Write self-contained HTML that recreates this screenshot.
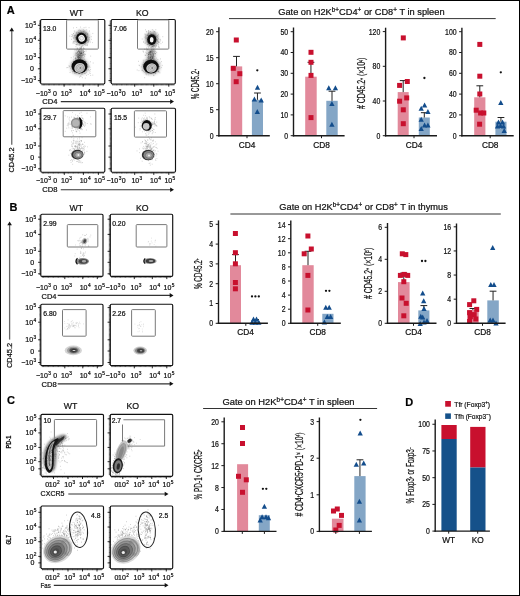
<!DOCTYPE html>
<html><head><meta charset="utf-8"><style>
html,body{margin:0;padding:0;background:#fff;}
svg{display:block;will-change:transform;}
text{font-family:"Liberation Sans",sans-serif;stroke:#111;stroke-width:0.22px;}
</style></head><body>
<svg width="520" height="596" viewBox="0 0 520 596" font-family="Liberation Sans, sans-serif">
<rect width="520" height="596" fill="#fff"/>
<rect x="0.50" y="0.50" width="519.00" height="595.00" fill="none" stroke="#000" stroke-width="1" />
<text x="6.70" y="13.90" font-size="11" text-anchor="start" font-weight="bold" fill="#000" >A</text>
<text x="9.60" y="211.00" font-size="11" text-anchor="start" font-weight="bold" fill="#000" >B</text>
<text x="6.90" y="404.30" font-size="11" text-anchor="start" font-weight="bold" fill="#000" >C</text>
<text x="405.20" y="406.40" font-size="11" text-anchor="start" font-weight="bold" fill="#000" >D</text>
<defs><filter id="bl" x="-20%" y="-20%" width="140%" height="140%"><feGaussianBlur stdDeviation="0.45"/></filter><filter id="bl2" x="-20%" y="-20%" width="140%" height="140%"><feGaussianBlur stdDeviation="0.8"/></filter><filter id="bl3" x="-50%" y="-50%" width="200%" height="200%"><feGaussianBlur stdDeviation="1.6"/></filter></defs>
<text x="76.55" y="16.40" font-size="9.7" text-anchor="middle" font-weight="normal" fill="#111" textLength="13.60" lengthAdjust="spacingAndGlyphs" >WT</text>
<text x="142.25" y="16.40" font-size="9.7" text-anchor="middle" font-weight="normal" fill="#111" textLength="12.60" lengthAdjust="spacingAndGlyphs" >KO</text>
<path d="M39.1 21.0h1.5M39.1 22.2h1.5M39.1 23.5h1.5M39.1 24.8h1.5M39.1 26.0h1.5M39.1 27.2h1.5M39.1 28.5h1.5M39.1 29.8h1.5M39.1 31.0h1.5M39.1 32.2h1.5M39.1 33.5h1.5M39.1 34.8h1.5M39.1 36.0h1.5M39.1 37.2h1.5M39.1 38.5h1.5M39.1 39.8h1.5M39.1 41.0h1.5M39.1 42.2h1.5M39.1 43.5h1.5M39.1 44.8h1.5M39.1 46.0h1.5M39.1 47.2h1.5M39.1 48.5h1.5M39.1 49.8h1.5M39.1 51.0h1.5M39.1 52.2h1.5M39.1 53.5h1.5M39.1 54.8h1.5M39.1 56.0h1.5M39.1 57.2h1.5M39.1 58.5h1.5M39.1 59.8h1.5M39.1 61.0h1.5M39.1 62.2h1.5M39.1 63.5h1.5M39.1 64.8h1.5M39.1 66.0h1.5M39.1 67.2h1.5M39.1 68.5h1.5M39.1 69.8h1.5M39.1 71.0h1.5M39.1 72.2h1.5M39.1 73.5h1.5M39.1 74.8h1.5M39.1 76.0h1.5M39.1 77.2h1.5M39.1 78.5h1.5M39.1 79.8h1.5M39.1 81.0h1.5M39.1 82.2h1.5M42.1 84.0v1.5M43.4 84.0v1.5M44.6 84.0v1.5M45.9 84.0v1.5M47.1 84.0v1.5M48.4 84.0v1.5M49.6 84.0v1.5M50.9 84.0v1.5M52.1 84.0v1.5M53.4 84.0v1.5M54.6 84.0v1.5M55.9 84.0v1.5M57.1 84.0v1.5M58.4 84.0v1.5M59.6 84.0v1.5M60.9 84.0v1.5M62.1 84.0v1.5M63.4 84.0v1.5M64.6 84.0v1.5M65.8 84.0v1.5M67.1 84.0v1.5M68.3 84.0v1.5M69.6 84.0v1.5M70.8 84.0v1.5M72.1 84.0v1.5M73.3 84.0v1.5M74.6 84.0v1.5M75.8 84.0v1.5M77.1 84.0v1.5M78.3 84.0v1.5M79.6 84.0v1.5M80.8 84.0v1.5M82.1 84.0v1.5M83.3 84.0v1.5M84.6 84.0v1.5M85.8 84.0v1.5M87.1 84.0v1.5M88.3 84.0v1.5M89.6 84.0v1.5M90.8 84.0v1.5M92.1 84.0v1.5M93.3 84.0v1.5M94.6 84.0v1.5M95.8 84.0v1.5M97.1 84.0v1.5M98.3 84.0v1.5M99.6 84.0v1.5M100.8 84.0v1.5M102.1 84.0v1.5M103.3 84.0v1.5" stroke="#222" stroke-width="0.65" fill="none"/>
<path d="M37.9 25.3h2.7M37.9 40.3h2.7M37.9 57.6h2.7M37.9 68.8h2.7M37.9 80.6h2.7M64.1 84.0v2.7M83.2 84.0v2.7M98.2 84.0v2.7" stroke="#111" stroke-width="0.9" fill="none"/>
<rect x="40.60" y="19.50" width="64.20" height="64.50" fill="none" stroke="#111" stroke-width="1.15" rx="1.2"/>
<text x="32.90" y="27.80" font-size="7.0" text-anchor="end" font-weight="normal" fill="#111" >10</text>
<text x="33.40" y="24.80" font-size="4.8" text-anchor="start" font-weight="normal" fill="#111" >5</text>
<text x="32.90" y="42.80" font-size="7.0" text-anchor="end" font-weight="normal" fill="#111" >10</text>
<text x="33.40" y="39.80" font-size="4.8" text-anchor="start" font-weight="normal" fill="#111" >4</text>
<text x="32.90" y="60.10" font-size="7.0" text-anchor="end" font-weight="normal" fill="#111" >10</text>
<text x="33.40" y="57.10" font-size="4.8" text-anchor="start" font-weight="normal" fill="#111" >3</text>
<text x="34.00" y="71.30" font-size="7.0" text-anchor="end" font-weight="normal" fill="#111" >0</text>
<text x="32.90" y="83.10" font-size="7.0" text-anchor="end" font-weight="normal" fill="#111" >−10</text>
<text x="33.40" y="80.10" font-size="4.8" text-anchor="start" font-weight="normal" fill="#111" >3</text>
<path d="M109.7 21.0h1.5M109.7 22.2h1.5M109.7 23.5h1.5M109.7 24.8h1.5M109.7 26.0h1.5M109.7 27.2h1.5M109.7 28.5h1.5M109.7 29.8h1.5M109.7 31.0h1.5M109.7 32.2h1.5M109.7 33.5h1.5M109.7 34.8h1.5M109.7 36.0h1.5M109.7 37.2h1.5M109.7 38.5h1.5M109.7 39.8h1.5M109.7 41.0h1.5M109.7 42.2h1.5M109.7 43.5h1.5M109.7 44.8h1.5M109.7 46.0h1.5M109.7 47.2h1.5M109.7 48.5h1.5M109.7 49.8h1.5M109.7 51.0h1.5M109.7 52.2h1.5M109.7 53.5h1.5M109.7 54.8h1.5M109.7 56.0h1.5M109.7 57.2h1.5M109.7 58.5h1.5M109.7 59.8h1.5M109.7 61.0h1.5M109.7 62.2h1.5M109.7 63.5h1.5M109.7 64.8h1.5M109.7 66.0h1.5M109.7 67.2h1.5M109.7 68.5h1.5M109.7 69.8h1.5M109.7 71.0h1.5M109.7 72.2h1.5M109.7 73.5h1.5M109.7 74.8h1.5M109.7 76.0h1.5M109.7 77.2h1.5M109.7 78.5h1.5M109.7 79.8h1.5M109.7 81.0h1.5M109.7 82.2h1.5M112.7 84.0v1.5M114.0 84.0v1.5M115.2 84.0v1.5M116.5 84.0v1.5M117.7 84.0v1.5M119.0 84.0v1.5M120.2 84.0v1.5M121.5 84.0v1.5M122.7 84.0v1.5M124.0 84.0v1.5M125.2 84.0v1.5M126.5 84.0v1.5M127.7 84.0v1.5M128.9 84.0v1.5M130.2 84.0v1.5M131.4 84.0v1.5M132.7 84.0v1.5M133.9 84.0v1.5M135.2 84.0v1.5M136.4 84.0v1.5M137.7 84.0v1.5M138.9 84.0v1.5M140.2 84.0v1.5M141.4 84.0v1.5M142.7 84.0v1.5M143.9 84.0v1.5M145.2 84.0v1.5M146.4 84.0v1.5M147.7 84.0v1.5M148.9 84.0v1.5M150.2 84.0v1.5M151.4 84.0v1.5M152.7 84.0v1.5M153.9 84.0v1.5M155.2 84.0v1.5M156.4 84.0v1.5M157.7 84.0v1.5M158.9 84.0v1.5M160.2 84.0v1.5M161.4 84.0v1.5M162.7 84.0v1.5M163.9 84.0v1.5M165.2 84.0v1.5M166.4 84.0v1.5M167.7 84.0v1.5M168.9 84.0v1.5M170.2 84.0v1.5M171.4 84.0v1.5M172.7 84.0v1.5M173.9 84.0v1.5" stroke="#222" stroke-width="0.65" fill="none"/>
<path d="M108.5 25.3h2.7M108.5 40.3h2.7M108.5 57.6h2.7M108.5 68.8h2.7M108.5 80.6h2.7M134.7 84.0v2.7M153.8 84.0v2.7M168.8 84.0v2.7" stroke="#111" stroke-width="0.9" fill="none"/>
<rect x="111.20" y="19.50" width="64.10" height="64.50" fill="none" stroke="#111" stroke-width="1.15" rx="1.2"/>
<rect x="66.60" y="19.90" width="31.70" height="29.20" fill="none" stroke="#7a7a7a" stroke-width="1" rx="0.8"/>
<rect x="137.50" y="19.90" width="31.30" height="29.20" fill="none" stroke="#7a7a7a" stroke-width="1" rx="0.8"/>
<text x="43.10" y="30.70" font-size="6.8" text-anchor="start" font-weight="normal" fill="#111" >13.0</text>
<text x="113.60" y="30.70" font-size="6.8" text-anchor="start" font-weight="normal" fill="#111" >7.06</text>
<g filter="url(#bl)">
<path d="M79.9 40.0h0.7M80.1 36.7h0.7M77.1 37.1h0.7M85.7 39.7h0.7M85.4 39.0h0.7M82.7 38.7h0.7M74.0 41.4h0.7M83.1 40.0h0.7M73.9 31.0h0.7M77.3 36.1h0.7M82.3 37.8h0.7M83.2 35.4h0.7M82.3 39.6h0.7M78.2 44.9h0.7M83.3 42.8h0.7M78.4 35.0h0.7M79.6 37.6h0.7M83.7 39.0h0.7M79.1 34.2h0.7M78.8 42.9h0.7M77.6 39.0h0.7M82.8 32.0h0.7M81.2 43.2h0.7M72.5 36.7h0.7M80.6 34.7h0.7M83.1 37.8h0.7M74.8 41.3h0.7M83.8 41.8h0.7M87.1 39.4h0.7M81.5 32.8h0.7M83.6 35.6h0.7M79.1 32.9h0.7M76.9 35.9h0.7M86.4 29.9h0.7M74.9 39.0h0.7M87.1 40.3h0.7M73.0 27.9h0.7M82.5 35.1h0.7M76.3 41.9h0.7M85.6 38.6h0.7M82.0 39.7h0.7M87.7 40.5h0.7M83.2 40.2h0.7M74.4 43.1h0.7M85.0 40.1h0.7M72.7 35.5h0.7M84.5 30.8h0.7M80.2 42.1h0.7M75.5 44.4h0.7M83.3 37.4h0.7M82.4 40.6h0.7M81.5 42.6h0.7M78.2 36.3h0.7M85.4 38.1h0.7M77.3 41.8h0.7M87.2 36.2h0.7M75.2 37.5h0.7M80.4 36.8h0.7M86.9 33.9h0.7M86.3 32.9h0.7M77.7 40.5h0.7M85.7 41.4h0.7M82.4 38.6h0.7M81.6 40.3h0.7M80.3 39.1h0.7M83.4 38.0h0.7M84.2 40.3h0.7M89.4 39.3h0.7M79.2 36.5h0.7M80.9 41.7h0.7M79.6 39.5h0.7M88.7 27.7h0.7M76.3 39.0h0.7M82.7 39.0h0.7M79.2 40.6h0.7M82.2 35.9h0.7M91.2 39.4h0.7M78.7 37.6h0.7M80.1 37.7h0.7M69.5 36.1h0.7M85.2 33.3h0.7M80.7 41.8h0.7M84.6 44.0h0.7M73.9 36.6h0.7M79.6 40.5h0.7M85.6 27.3h0.7M85.6 32.2h0.7M83.9 32.0h0.7M81.7 42.8h0.7M80.4 38.8h0.7M84.3 38.6h0.7M80.6 44.1h0.7M85.4 36.8h0.7M92.5 33.4h0.7M84.8 36.9h0.7M81.6 40.8h0.7M81.9 40.6h0.7M74.6 32.0h0.7M83.6 34.1h0.7M76.7 32.1h0.7M86.3 41.0h0.7M87.2 34.2h0.7M81.0 33.4h0.7M84.2 44.4h0.7M77.3 44.2h0.7M85.1 37.3h0.7M72.7 43.6h0.7M80.6 35.6h0.7M82.7 39.6h0.7M87.3 33.9h0.7M85.8 43.9h0.7M87.1 37.3h0.7M77.9 42.1h0.7M81.5 38.5h0.7M87.0 36.9h0.7M71.4 36.5h0.7M73.2 41.3h0.7M82.3 35.6h0.7M81.0 41.3h0.7M81.3 43.3h0.7M80.7 42.2h0.7M87.3 44.4h0.7M78.2 41.5h0.7M73.1 33.7h0.7M72.8 42.3h0.7M75.8 37.9h0.7M80.2 37.9h0.7M78.5 38.9h0.7M88.5 38.2h0.7M83.2 42.0h0.7M80.2 33.0h0.7M78.7 42.3h0.7M74.1 35.6h0.7M85.2 41.2h0.7M81.0 41.2h0.7M81.7 33.3h0.7M74.4 35.4h0.7M84.9 35.7h0.7M77.2 34.9h0.7M74.6 37.5h0.7M76.0 39.5h0.7M71.1 39.3h0.7M78.3 30.2h0.7M84.0 36.9h0.7M71.6 34.5h0.7M82.2 36.2h0.7M84.3 41.0h0.7M83.8 39.3h0.7M86.6 40.6h0.7M82.9 29.7h0.7M84.8 43.2h0.7M79.8 36.1h0.7M89.1 31.0h0.7M83.0 47.7h0.7M77.1 40.8h0.7M88.9 37.5h0.7M83.4 41.6h0.7M77.2 37.6h0.7M82.2 41.3h0.7M80.9 37.2h0.7M76.7 36.6h0.7M84.7 38.4h0.7M77.4 34.6h0.7M92.2 42.6h0.7M83.7 27.6h0.7M83.6 39.9h0.7M88.1 39.7h0.7M80.7 40.1h0.7M72.8 42.1h0.7M82.4 35.2h0.7M86.6 45.2h0.7M75.1 35.3h0.7M82.2 38.7h0.7M79.3 34.1h0.7M89.9 42.1h0.7M76.0 32.6h0.7M88.2 42.0h0.7M88.6 41.2h0.7M77.3 39.0h0.7M71.9 35.0h0.7M80.8 40.1h0.7M77.9 37.5h0.7M82.9 39.5h0.7M83.7 38.8h0.7M79.6 41.2h0.7M81.2 34.7h0.7M78.4 38.0h0.7M80.5 38.6h0.7M81.0 38.7h0.7M80.4 33.0h0.7M82.8 42.2h0.7M82.8 37.2h0.7M82.9 34.1h0.7M73.0 38.2h0.7M77.1 41.0h0.7M76.4 27.5h0.7M76.6 44.3h0.7M79.4 32.5h0.7M77.8 40.1h0.7M83.1 38.7h0.7M87.2 40.8h0.7M80.9 40.4h0.7M87.9 41.9h0.7M85.3 33.7h0.7M80.4 40.9h0.7M79.8 42.3h0.7M83.5 41.6h0.7M80.1 48.2h0.7M86.2 37.1h0.7M81.4 48.4h0.7M79.6 41.5h0.7M85.1 38.0h0.7M76.1 38.8h0.7M82.5 42.5h0.7M84.3 38.1h0.7M84.6 40.2h0.7M81.9 38.2h0.7M80.0 40.7h0.7M76.6 35.5h0.7M81.0 32.1h0.7M79.2 30.0h0.7M78.1 40.3h0.7M83.4 37.8h0.7M80.0 32.3h0.7M88.7 40.1h0.7M85.6 34.5h0.7M80.2 30.7h0.7M84.3 41.7h0.7M73.0 37.8h0.7M83.6 31.0h0.7M73.3 33.7h0.7M78.4 32.4h0.7M81.1 39.0h0.7M83.7 40.8h0.7M87.3 42.7h0.7M75.5 36.0h0.7M76.5 33.7h0.7M80.7 38.0h0.7M83.1 31.7h0.7M75.8 37.9h0.7M80.2 36.8h0.7M80.7 35.0h0.7M83.9 39.4h0.7M80.6 35.3h0.7M80.3 27.1h0.7M76.9 38.1h0.7M74.7 38.8h0.7M81.6 32.5h0.7M79.9 36.7h0.7M82.9 40.4h0.7M80.8 34.6h0.7M80.4 37.7h0.7M84.1 39.2h0.7M78.0 32.6h0.7M79.4 35.0h0.7M76.3 37.5h0.7M78.9 38.4h0.7M83.2 36.3h0.7M90.8 36.7h0.7M85.6 38.5h0.7" stroke="#222" stroke-opacity="0.35" stroke-width="0.7" fill="none"/>
<ellipse cx="81.80" cy="37.60" rx="7.20" ry="7.20" fill="#333" fill-opacity="0.6" filter="url(#bl3)" transform="rotate(0 81.80 37.60)"/>
<ellipse cx="81.60" cy="38.40" rx="5.30" ry="5.60" fill="#0a0a0a" stroke="none" stroke-width="1" transform="rotate(-30 81.60 38.40)" />
<ellipse cx="81.60" cy="38.30" rx="3.20" ry="3.40" fill="#f2f2f2" stroke="none" stroke-width="1" transform="rotate(-30 81.60 38.30)" />
<ellipse cx="81.60" cy="38.30" rx="1.80" ry="1.90" fill="none" stroke="#aaa" stroke-width="0.5" transform="rotate(-30 81.60 38.30)" />
<path d="M82.4 43.3h0.7M77.5 55.1h0.7M81.1 64.5h0.7M80.3 59.8h0.7M81.5 58.3h0.7M80.8 53.3h0.7M80.8 49.1h0.7M82.6 49.4h0.7M80.1 63.5h0.7M78.9 54.1h0.7M82.5 54.1h0.7M77.4 55.2h0.7M81.0 57.2h0.7M77.5 61.9h0.7M83.8 54.1h0.7M80.2 52.1h0.7M83.2 50.8h0.7M81.3 51.8h0.7M77.7 57.2h0.7M83.0 54.0h0.7M77.7 57.7h0.7M79.4 55.4h0.7M83.5 59.1h0.7M78.1 64.3h0.7M79.5 57.5h0.7M77.8 53.8h0.7M75.0 62.0h0.7M83.1 48.5h0.7M75.6 46.7h0.7M82.6 51.9h0.7M79.3 52.6h0.7M79.2 49.1h0.7M79.6 47.5h0.7M79.3 55.4h0.7M80.7 53.0h0.7M77.2 54.7h0.7M78.2 61.0h0.7M81.5 53.5h0.7M78.3 50.8h0.7M77.1 52.4h0.7M80.3 56.3h0.7M81.0 63.4h0.7M77.7 54.1h0.7M86.8 45.6h0.7M78.1 54.8h0.7M79.9 55.8h0.7M78.9 55.6h0.7M79.6 57.5h0.7M74.6 50.0h0.7M79.5 49.4h0.7M76.8 56.8h0.7M77.8 56.9h0.7M81.4 55.4h0.7M80.8 53.5h0.7M75.8 53.9h0.7M80.7 51.6h0.7M79.2 57.4h0.7M77.2 56.9h0.7M84.3 51.5h0.7M79.9 53.3h0.7M83.5 55.4h0.7M81.8 50.9h0.7M79.5 54.0h0.7M74.9 60.5h0.7M81.8 46.1h0.7M81.4 53.4h0.7M80.7 55.6h0.7M75.6 53.0h0.7M83.4 51.4h0.7M76.8 47.9h0.7M76.3 55.5h0.7M83.9 55.9h0.7M80.1 64.1h0.7M78.1 51.0h0.7M80.9 56.5h0.7M76.9 48.7h0.7M80.3 55.1h0.7M76.1 53.1h0.7M78.1 56.1h0.7M79.2 53.6h0.7M78.6 58.7h0.7M83.1 52.3h0.7M81.7 50.6h0.7M79.7 57.4h0.7M83.4 52.3h0.7M79.3 54.9h0.7M75.6 54.1h0.7M77.7 55.7h0.7M76.6 45.1h0.7M79.6 55.2h0.7M78.1 58.0h0.7M78.8 51.3h0.7M80.7 46.9h0.7M77.7 53.9h0.7M81.7 53.3h0.7M80.3 51.1h0.7M80.3 61.5h0.7M77.7 64.6h0.7M77.8 54.1h0.7M80.0 58.6h0.7M76.3 44.5h0.7M81.1 57.6h0.7M81.1 65.8h0.7M80.0 55.1h0.7M81.9 55.7h0.7M83.8 48.4h0.7M78.5 38.5h0.7M81.6 52.3h0.7M81.9 63.7h0.7M79.5 52.9h0.7M78.2 50.2h0.7M77.9 56.9h0.7M79.6 54.3h0.7M79.0 58.1h0.7M80.8 53.4h0.7M81.2 53.3h0.7M76.5 60.5h0.7M80.7 49.7h0.7M82.3 55.6h0.7M75.4 61.2h0.7M80.4 58.0h0.7M80.0 53.3h0.7M75.5 58.4h0.7M79.6 52.7h0.7M80.4 54.4h0.7M81.3 52.3h0.7M79.4 44.4h0.7M78.4 57.0h0.7M83.0 52.4h0.7M79.2 61.1h0.7M78.7 57.3h0.7M83.9 54.2h0.7M82.7 50.8h0.7M80.0 53.7h0.7M79.8 59.1h0.7M85.7 51.0h0.7M78.0 56.2h0.7M76.8 56.2h0.7M81.0 52.8h0.7M80.9 47.0h0.7M81.5 47.0h0.7M77.7 51.5h0.7M78.5 57.9h0.7M79.7 52.2h0.7M80.9 61.1h0.7M79.5 55.6h0.7M82.7 55.2h0.7M76.2 65.2h0.7M85.2 45.1h0.7M79.4 55.9h0.7M82.0 57.0h0.7M78.8 49.3h0.7M79.8 58.7h0.7M76.7 49.4h0.7M79.4 45.3h0.7M78.8 52.0h0.7M80.7 50.8h0.7M77.2 52.2h0.7M79.4 51.0h0.7M79.5 57.4h0.7M82.6 61.7h0.7M77.5 52.1h0.7M73.0 62.5h0.7M77.6 53.8h0.7M80.9 47.9h0.7M80.7 53.9h0.7M74.8 55.3h0.7M82.6 45.6h0.7M81.6 54.9h0.7M80.7 56.0h0.7M82.9 53.0h0.7M81.8 52.2h0.7M81.4 50.3h0.7M79.2 61.8h0.7M80.7 53.3h0.7M76.5 50.4h0.7M80.0 58.2h0.7M80.6 56.4h0.7M79.4 60.1h0.7M78.5 51.5h0.7M81.8 54.3h0.7M78.8 51.4h0.7M78.8 56.8h0.7M80.4 48.6h0.7M80.6 54.8h0.7M76.9 57.5h0.7M78.8 52.5h0.7M81.6 59.9h0.7M77.7 56.0h0.7M77.2 64.4h0.7M78.2 59.4h0.7M77.8 57.7h0.7M85.3 42.6h0.7M78.4 56.3h0.7M79.3 51.0h0.7M85.1 54.4h0.7M75.2 57.8h0.7M75.0 59.2h0.7M78.0 54.7h0.7M82.8 54.5h0.7" stroke="#222" stroke-opacity="0.4" stroke-width="0.7" fill="none"/>
<ellipse cx="79.50" cy="55.00" rx="4.50" ry="5.50" fill="#333" fill-opacity="0.35" filter="url(#bl3)" transform="rotate(0 79.50 55.00)"/>
<path d="M73.0 59.9h0.7M85.9 70.1h0.7M75.9 70.6h0.7M82.5 69.7h0.7M68.7 65.7h0.7M84.5 70.1h0.7M84.4 56.7h0.7M80.8 69.1h0.7M92.8 63.0h0.7M78.4 67.2h0.7M84.4 65.1h0.7M85.7 63.7h0.7M81.3 64.8h0.7M80.8 64.1h0.7M72.0 71.6h0.7M81.5 64.7h0.7M81.0 71.2h0.7M75.1 66.5h0.7M82.7 69.2h0.7M78.3 58.2h0.7M86.2 68.4h0.7M80.1 65.8h0.7M81.3 65.2h0.7M74.9 63.9h0.7M77.0 64.4h0.7M74.2 69.7h0.7M73.5 69.8h0.7M74.9 68.5h0.7M86.9 67.9h0.7M76.3 67.2h0.7M80.7 59.7h0.7M77.0 67.7h0.7M77.7 67.3h0.7M83.7 70.2h0.7M84.5 69.5h0.7M78.6 66.9h0.7M78.6 65.7h0.7M79.1 59.8h0.7M78.3 66.9h0.7M75.1 66.9h0.7M82.6 66.3h0.7M90.4 56.1h0.7M79.0 59.3h0.7M84.9 78.1h0.7M67.5 67.5h0.7M82.6 65.7h0.7M82.8 57.6h0.7M84.3 68.6h0.7M80.1 64.5h0.7M83.2 65.0h0.7M81.1 64.9h0.7M68.8 66.9h0.7M81.0 70.2h0.7M75.6 66.9h0.7M83.1 67.6h0.7M86.2 75.4h0.7M75.5 58.9h0.7M84.3 73.4h0.7M84.6 70.4h0.7M76.9 64.0h0.7M84.4 63.2h0.7M70.9 62.8h0.7M92.5 75.1h0.7M76.6 63.9h0.7M81.2 63.9h0.7M86.6 66.7h0.7M74.6 72.5h0.7M77.1 67.9h0.7M79.9 65.7h0.7M81.6 64.1h0.7M70.8 57.7h0.7M73.7 63.8h0.7M79.9 67.2h0.7M82.8 67.5h0.7M76.0 64.0h0.7M69.4 66.3h0.7M82.4 69.2h0.7M79.4 66.3h0.7M84.7 67.1h0.7M83.7 69.4h0.7M81.1 72.5h0.7M77.1 65.5h0.7M76.0 63.7h0.7M87.8 74.4h0.7M80.1 69.4h0.7M85.9 70.4h0.7M86.0 61.7h0.7M76.8 68.9h0.7M87.2 67.4h0.7M75.7 65.5h0.7M76.7 63.4h0.7M87.5 64.4h0.7M80.1 76.1h0.7M85.9 68.4h0.7M76.9 68.7h0.7M88.1 69.6h0.7M86.3 67.4h0.7M82.6 66.2h0.7M82.1 72.5h0.7M72.8 66.7h0.7M81.2 64.6h0.7M78.5 70.3h0.7M90.0 69.6h0.7M81.6 60.5h0.7M89.6 67.3h0.7M79.8 62.3h0.7M79.7 62.4h0.7M80.4 69.0h0.7M80.2 68.2h0.7M75.7 73.0h0.7M76.7 59.4h0.7M79.1 63.8h0.7M75.0 65.5h0.7M81.5 62.0h0.7M79.3 73.0h0.7M83.4 66.4h0.7M80.6 66.5h0.7M79.8 70.1h0.7M79.5 56.9h0.7M79.9 63.3h0.7M83.3 64.4h0.7M80.7 76.1h0.7M74.8 62.3h0.7M72.9 56.9h0.7M70.6 68.5h0.7M76.8 59.2h0.7M72.6 69.6h0.7M76.1 65.5h0.7M81.7 72.7h0.7M89.7 71.3h0.7M80.7 67.8h0.7M89.0 73.0h0.7M78.4 68.9h0.7M81.4 67.2h0.7M77.5 61.4h0.7M77.3 60.5h0.7M86.1 69.3h0.7M74.0 72.9h0.7M84.5 59.0h0.7M89.2 70.4h0.7M90.3 61.8h0.7M82.7 68.8h0.7M81.0 67.7h0.7M85.3 60.7h0.7M73.8 61.1h0.7M77.2 64.5h0.7M81.8 68.1h0.7M80.2 64.2h0.7M77.8 71.0h0.7M83.8 67.4h0.7M78.4 73.5h0.7M77.0 69.7h0.7M85.8 65.9h0.7M84.1 62.3h0.7M85.1 67.8h0.7M72.1 69.8h0.7M75.5 72.4h0.7M76.6 66.3h0.7M81.4 65.6h0.7M81.3 64.7h0.7M83.4 67.0h0.7M81.1 55.4h0.7M85.8 67.1h0.7M71.1 67.4h0.7M82.3 71.5h0.7M74.6 73.5h0.7M79.2 77.1h0.7M79.3 69.9h0.7M78.2 62.3h0.7M85.5 70.8h0.7M87.7 70.6h0.7M77.1 60.0h0.7M76.7 64.2h0.7M75.9 69.4h0.7M81.6 65.9h0.7M80.9 66.4h0.7M81.1 70.2h0.7M84.8 64.1h0.7M72.5 73.0h0.7M80.6 71.6h0.7M71.8 65.6h0.7M80.1 60.9h0.7M77.4 70.0h0.7M85.4 73.7h0.7M75.7 61.1h0.7M82.6 70.9h0.7M81.0 61.5h0.7M83.9 70.3h0.7M82.8 65.0h0.7M81.5 70.3h0.7M77.2 59.3h0.7M81.6 69.0h0.7M80.1 70.7h0.7M77.1 66.7h0.7M78.5 69.4h0.7M88.0 65.9h0.7M90.3 73.4h0.7M84.0 69.5h0.7M88.9 66.2h0.7M79.4 62.5h0.7M82.4 72.6h0.7M82.7 68.8h0.7M79.0 67.7h0.7M72.9 71.4h0.7M78.0 62.4h0.7M76.2 63.5h0.7M84.3 71.4h0.7M73.2 70.9h0.7M84.4 64.6h0.7M72.6 63.9h0.7M76.8 68.4h0.7M78.2 58.5h0.7M81.2 60.6h0.7M84.5 61.9h0.7M76.5 63.4h0.7M77.3 72.5h0.7M84.3 69.5h0.7M81.6 60.5h0.7M77.4 64.7h0.7M75.1 69.1h0.7M76.3 64.0h0.7M74.8 58.4h0.7M83.0 72.6h0.7M80.9 62.9h0.7M66.5 67.7h0.7M86.1 68.2h0.7M84.6 73.2h0.7M85.6 65.1h0.7M85.3 70.3h0.7M72.3 65.3h0.7M72.9 66.5h0.7M82.9 62.5h0.7M69.7 72.5h0.7M81.9 73.2h0.7M73.4 71.5h0.7M90.4 75.4h0.7M78.9 68.1h0.7M79.2 71.2h0.7M85.2 67.4h0.7M73.2 70.1h0.7M77.7 69.6h0.7M81.3 73.8h0.7M85.7 65.1h0.7M81.7 74.4h0.7M77.3 68.8h0.7M86.0 72.3h0.7M82.6 61.5h0.7M73.7 68.0h0.7M81.9 77.7h0.7M75.7 71.8h0.7M83.9 60.0h0.7M75.9 67.7h0.7M77.5 66.4h0.7M82.4 63.6h0.7M82.3 64.3h0.7M77.3 69.3h0.7M77.1 68.2h0.7M88.0 67.1h0.7M79.3 70.1h0.7M78.2 71.5h0.7" stroke="#222" stroke-opacity="0.35" stroke-width="0.7" fill="none"/>
<ellipse cx="79.60" cy="66.50" rx="9.00" ry="8.00" fill="#333" fill-opacity="0.45" filter="url(#bl3)" transform="rotate(0 79.60 66.50)"/>
<ellipse cx="79.50" cy="66.30" rx="7.90" ry="7.10" fill="#0a0a0a" stroke="none" stroke-width="1" transform="rotate(0 79.50 66.30)" />
<ellipse cx="79.60" cy="67.90" rx="5.40" ry="4.90" fill="#cfcfcf" stroke="none" stroke-width="1" transform="rotate(-20 79.60 67.90)" />
<ellipse cx="79.80" cy="68.00" rx="3.90" ry="3.50" fill="none" stroke="#888" stroke-width="0.5" transform="rotate(-20 79.80 68.00)" />
<ellipse cx="80.00" cy="68.00" rx="2.50" ry="2.20" fill="none" stroke="#999" stroke-width="0.5" transform="rotate(0 80.00 68.00)" />
<ellipse cx="80.40" cy="67.90" rx="0.90" ry="0.90" fill="#777" stroke="none" stroke-width="1" transform="rotate(0 80.40 67.90)" />
<path d="M147.0 42.1h0.7M149.8 36.1h0.7M158.0 35.9h0.7M157.9 42.3h0.7M156.8 35.4h0.7M155.9 45.6h0.7M151.2 39.0h0.7M160.4 40.2h0.7M150.1 36.9h0.7M153.2 40.9h0.7M152.2 46.7h0.7M150.4 41.5h0.7M156.9 35.3h0.7M155.3 47.2h0.7M146.7 34.9h0.7M147.9 31.7h0.7M153.2 31.7h0.7M153.4 45.6h0.7M145.8 38.2h0.7M144.7 42.8h0.7M148.9 38.4h0.7M151.8 41.8h0.7M150.4 39.6h0.7M149.6 40.0h0.7M147.4 39.8h0.7M144.6 37.4h0.7M158.5 39.8h0.7M147.1 40.6h0.7M148.1 32.6h0.7M148.9 42.6h0.7M153.0 39.1h0.7M148.3 35.0h0.7M156.5 40.5h0.7M148.2 30.6h0.7M146.7 49.9h0.7M147.5 39.2h0.7M152.4 38.8h0.7M150.6 33.7h0.7M147.8 46.6h0.7M148.9 43.1h0.7M145.5 38.3h0.7M152.5 43.9h0.7M147.6 42.0h0.7M153.0 36.4h0.7M153.3 35.7h0.7M148.7 39.4h0.7M141.8 39.0h0.7M148.0 33.4h0.7M150.1 42.7h0.7M150.1 44.8h0.7M147.4 34.0h0.7M157.2 41.2h0.7M155.0 36.0h0.7M154.5 40.6h0.7M153.9 39.6h0.7M155.9 36.8h0.7M148.1 33.3h0.7M155.8 36.4h0.7M147.8 35.6h0.7M150.0 34.2h0.7M150.6 36.9h0.7M149.6 35.5h0.7M151.7 37.6h0.7M152.0 40.5h0.7M152.8 30.3h0.7M149.7 36.2h0.7M154.4 32.9h0.7M149.0 38.3h0.7M150.4 43.7h0.7M150.0 43.6h0.7M146.3 31.9h0.7M156.0 41.3h0.7M153.4 40.0h0.7M153.3 34.4h0.7M155.0 37.3h0.7M155.1 39.9h0.7M144.5 34.1h0.7M155.7 38.9h0.7M150.2 40.5h0.7M150.1 37.2h0.7M152.0 40.1h0.7M157.1 39.7h0.7M158.4 47.1h0.7M157.8 44.0h0.7M152.1 40.1h0.7M151.1 36.4h0.7M151.4 36.8h0.7M157.5 41.7h0.7M150.0 31.5h0.7M151.4 37.8h0.7M147.7 34.7h0.7M143.5 41.9h0.7M151.4 50.3h0.7M151.5 38.9h0.7M156.8 40.1h0.7M152.2 37.9h0.7M149.4 45.8h0.7M155.2 46.7h0.7M150.3 39.6h0.7M148.4 43.6h0.7M146.6 41.9h0.7M155.5 45.4h0.7M148.2 44.1h0.7M149.0 36.3h0.7M146.8 44.4h0.7M157.5 37.0h0.7M148.9 38.1h0.7M160.6 43.7h0.7M149.6 32.0h0.7M149.2 44.5h0.7M158.3 38.4h0.7M149.1 37.4h0.7M144.8 43.3h0.7M147.7 44.0h0.7M145.5 34.2h0.7M152.6 36.3h0.7M154.4 39.5h0.7M147.4 42.1h0.7M154.6 31.5h0.7M158.2 41.6h0.7M154.3 31.7h0.7M149.0 38.0h0.7M155.5 33.4h0.7M148.4 31.0h0.7M150.7 41.0h0.7M145.5 37.0h0.7M153.4 46.2h0.7M154.0 38.2h0.7M147.4 35.6h0.7M149.2 40.1h0.7M151.4 46.5h0.7M152.6 35.0h0.7M157.2 43.5h0.7M152.0 36.5h0.7M144.9 35.2h0.7M154.9 36.1h0.7M146.8 40.3h0.7M152.5 42.0h0.7M154.0 45.4h0.7M148.6 43.6h0.7M148.0 42.4h0.7M152.2 40.5h0.7M155.1 39.4h0.7M155.6 43.2h0.7M152.1 37.1h0.7M148.9 37.3h0.7M150.9 39.4h0.7M162.3 42.2h0.7M154.4 35.9h0.7M149.0 38.2h0.7M152.3 35.1h0.7M157.4 37.1h0.7M155.5 29.7h0.7M151.6 40.7h0.7M152.3 42.0h0.7M152.6 40.2h0.7M144.8 36.5h0.7M143.2 42.1h0.7M152.7 38.7h0.7M148.6 37.1h0.7M158.2 46.8h0.7M151.4 44.9h0.7M145.9 31.4h0.7M149.9 35.8h0.7M149.6 40.3h0.7M162.5 36.7h0.7M151.8 40.7h0.7M151.5 43.4h0.7M158.0 34.3h0.7M152.2 38.4h0.7M152.9 33.1h0.7M145.3 29.8h0.7M153.5 40.3h0.7M151.9 29.6h0.7M150.3 36.3h0.7M146.5 35.7h0.7M154.1 41.8h0.7M151.5 41.7h0.7M149.4 39.8h0.7M151.7 41.8h0.7M151.3 38.9h0.7M151.1 36.8h0.7M159.6 41.7h0.7M153.1 49.1h0.7M156.7 33.0h0.7M154.1 43.0h0.7M158.4 45.0h0.7M154.4 34.6h0.7M148.5 40.6h0.7M153.4 35.2h0.7M150.2 37.8h0.7M151.8 40.9h0.7M150.6 34.3h0.7M156.1 46.2h0.7M151.2 43.8h0.7M153.2 42.3h0.7M153.3 36.3h0.7M153.7 43.7h0.7M148.4 47.8h0.7M159.1 47.2h0.7M158.8 42.6h0.7M150.4 37.0h0.7M148.7 40.0h0.7M151.5 42.3h0.7M144.3 49.2h0.7M159.8 39.4h0.7M154.0 41.5h0.7M152.6 38.6h0.7M151.2 36.0h0.7M152.2 39.4h0.7M152.8 35.9h0.7M151.7 39.7h0.7M153.8 35.0h0.7M153.1 43.6h0.7M153.7 38.0h0.7M149.8 38.5h0.7M154.2 46.0h0.7M151.0 36.8h0.7M153.0 40.4h0.7M148.3 36.4h0.7M151.2 42.3h0.7M147.3 35.2h0.7M153.4 34.4h0.7M152.0 41.0h0.7M151.2 35.2h0.7M151.4 38.1h0.7M152.8 36.0h0.7M155.5 32.5h0.7M151.0 39.5h0.7M155.1 36.9h0.7M153.6 37.1h0.7M154.3 46.8h0.7M150.2 41.4h0.7M148.3 43.6h0.7M156.0 39.6h0.7M147.5 41.2h0.7M155.7 44.1h0.7M154.5 31.8h0.7M149.2 45.5h0.7M147.2 44.3h0.7M158.4 42.7h0.7M155.6 38.1h0.7M147.2 39.1h0.7M150.9 39.3h0.7M154.1 38.9h0.7M152.3 41.3h0.7M151.6 47.2h0.7M153.2 39.9h0.7M150.9 36.9h0.7M156.4 40.1h0.7M147.7 37.1h0.7M151.1 37.6h0.7M155.5 34.6h0.7M153.4 40.1h0.7M147.4 39.7h0.7M151.3 41.6h0.7M150.0 40.8h0.7M145.6 34.9h0.7M154.4 43.9h0.7M151.6 37.0h0.7" stroke="#222" stroke-opacity="0.35" stroke-width="0.7" fill="none"/>
<ellipse cx="151.80" cy="39.30" rx="6.20" ry="7.20" fill="#333" fill-opacity="0.6" filter="url(#bl3)" transform="rotate(0 151.80 39.30)"/>
<ellipse cx="151.80" cy="39.60" rx="4.50" ry="5.30" fill="#0a0a0a" stroke="none" stroke-width="1" transform="rotate(0 151.80 39.60)" />
<ellipse cx="151.70" cy="39.80" rx="1.90" ry="2.70" fill="#f2f2f2" stroke="none" stroke-width="1" transform="rotate(0 151.70 39.80)" />
<path d="M153.6 45.6h0.7M149.1 58.0h0.7M152.6 50.4h0.7M146.5 61.5h0.7M151.4 51.0h0.7M151.1 59.1h0.7M144.8 60.0h0.7M152.8 45.6h0.7M152.9 47.0h0.7M153.7 56.8h0.7M156.4 52.3h0.7M151.0 59.7h0.7M149.5 51.8h0.7M150.1 54.7h0.7M148.4 57.2h0.7M152.3 55.3h0.7M155.1 53.5h0.7M154.1 52.5h0.7M152.8 46.3h0.7M151.5 54.2h0.7M149.8 52.3h0.7M150.2 51.8h0.7M145.7 52.3h0.7M149.7 52.6h0.7M148.5 54.4h0.7M152.9 53.9h0.7M149.8 61.1h0.7M153.3 59.1h0.7M153.8 53.5h0.7M150.7 60.0h0.7M149.7 54.5h0.7M151.9 56.7h0.7M150.3 59.4h0.7M150.6 58.3h0.7M153.6 58.0h0.7M152.8 49.8h0.7M147.9 52.2h0.7M152.1 61.8h0.7M148.1 56.4h0.7M149.0 51.7h0.7M150.3 58.1h0.7M151.5 60.3h0.7M148.6 59.0h0.7M153.2 55.3h0.7M152.1 52.5h0.7M148.4 53.2h0.7M149.5 68.0h0.7M149.8 62.4h0.7M151.5 56.4h0.7M152.8 51.5h0.7M153.2 56.7h0.7M147.4 57.7h0.7M152.3 57.0h0.7M154.8 53.1h0.7M152.2 58.4h0.7M148.8 60.4h0.7M147.5 49.1h0.7M152.3 50.1h0.7M150.7 47.6h0.7M151.2 49.9h0.7M151.8 48.1h0.7M152.1 53.8h0.7M151.2 54.7h0.7M151.3 49.1h0.7M144.8 55.2h0.7M148.8 53.0h0.7M152.0 46.1h0.7M149.2 52.3h0.7M148.5 56.5h0.7M150.7 51.3h0.7M148.6 58.6h0.7M149.4 57.6h0.7M152.1 46.5h0.7M148.4 55.0h0.7M151.8 58.5h0.7M152.9 59.7h0.7M150.1 54.1h0.7M152.9 53.1h0.7M153.5 47.8h0.7M152.6 54.2h0.7M146.3 59.4h0.7M151.7 55.1h0.7M148.4 52.9h0.7M154.6 51.3h0.7M142.7 51.1h0.7M148.1 54.4h0.7M150.1 50.9h0.7M149.0 59.7h0.7M147.5 63.8h0.7M149.7 50.1h0.7M152.9 57.5h0.7M148.5 58.4h0.7M146.6 50.8h0.7M153.7 53.8h0.7M147.9 57.3h0.7M153.2 54.9h0.7M146.7 53.4h0.7M152.0 58.5h0.7M155.4 53.9h0.7M149.8 54.8h0.7M153.9 50.8h0.7M154.1 42.6h0.7M152.9 52.0h0.7M152.1 58.1h0.7M148.2 54.6h0.7M151.6 57.6h0.7M148.8 50.5h0.7M146.4 66.4h0.7M150.5 54.0h0.7M147.4 59.2h0.7M149.7 61.5h0.7M153.0 55.1h0.7M152.7 50.0h0.7M150.2 52.4h0.7M148.0 55.1h0.7M150.7 61.5h0.7M143.0 52.0h0.7M148.8 52.9h0.7M152.0 56.8h0.7M151.1 52.9h0.7M152.2 56.6h0.7M146.6 53.8h0.7M147.7 49.7h0.7M151.4 55.3h0.7M151.3 51.1h0.7M150.5 50.9h0.7M151.9 58.1h0.7M155.2 60.7h0.7M149.1 52.9h0.7M148.7 56.4h0.7M155.8 58.2h0.7M145.7 49.3h0.7M147.9 57.3h0.7M151.0 56.3h0.7M155.3 51.3h0.7M149.0 63.8h0.7M151.8 51.5h0.7M146.1 48.1h0.7M145.1 55.3h0.7M151.1 59.5h0.7M150.7 51.9h0.7M149.2 63.6h0.7M146.8 55.8h0.7M151.1 57.8h0.7M150.0 57.2h0.7M153.0 54.3h0.7M149.9 54.2h0.7M148.7 54.1h0.7M150.3 55.9h0.7M154.2 60.9h0.7M149.9 57.7h0.7M151.7 58.4h0.7M151.1 56.2h0.7M149.9 51.5h0.7M153.1 60.8h0.7M152.6 57.0h0.7M151.6 53.0h0.7M146.7 58.0h0.7M151.5 52.5h0.7M148.7 60.8h0.7M146.7 62.9h0.7M152.5 65.7h0.7M149.3 54.9h0.7M149.8 55.7h0.7M150.5 51.6h0.7M153.6 51.5h0.7M149.8 57.5h0.7M149.7 53.0h0.7M151.9 53.3h0.7M148.0 54.5h0.7M150.5 62.7h0.7M148.4 59.4h0.7M149.1 53.4h0.7M150.2 56.2h0.7M153.1 62.9h0.7M149.5 61.0h0.7M153.4 58.7h0.7M149.2 59.1h0.7M150.7 56.6h0.7M150.4 58.0h0.7M153.7 60.1h0.7M150.5 59.5h0.7M154.5 50.8h0.7M154.5 49.0h0.7M152.3 57.7h0.7M154.6 56.3h0.7M149.8 51.4h0.7M148.0 58.4h0.7M150.4 51.8h0.7M152.3 51.6h0.7M150.0 52.9h0.7M155.0 61.6h0.7M150.6 47.9h0.7M151.7 55.3h0.7M151.8 57.5h0.7M150.2 59.2h0.7M153.0 55.9h0.7M150.0 52.8h0.7M152.7 50.1h0.7M150.6 51.6h0.7" stroke="#222" stroke-opacity="0.4" stroke-width="0.7" fill="none"/>
<ellipse cx="151.00" cy="55.00" rx="4.50" ry="5.50" fill="#333" fill-opacity="0.35" filter="url(#bl3)" transform="rotate(0 151.00 55.00)"/>
<path d="M144.0 69.4h0.7M150.9 67.1h0.7M155.4 61.0h0.7M150.7 68.2h0.7M155.2 62.7h0.7M154.6 67.9h0.7M157.8 71.6h0.7M153.7 75.6h0.7M151.0 65.3h0.7M149.3 63.2h0.7M150.9 59.5h0.7M150.6 68.7h0.7M156.0 65.6h0.7M157.9 64.4h0.7M150.3 59.5h0.7M147.2 63.8h0.7M158.3 69.1h0.7M145.6 69.1h0.7M153.4 66.1h0.7M151.1 65.8h0.7M148.4 60.1h0.7M150.6 72.0h0.7M158.0 65.9h0.7M147.4 66.2h0.7M155.4 68.4h0.7M148.2 68.4h0.7M150.0 69.0h0.7M149.0 61.3h0.7M151.3 70.0h0.7M145.6 66.6h0.7M155.3 65.5h0.7M147.8 74.9h0.7M155.0 71.0h0.7M146.4 73.4h0.7M142.9 65.0h0.7M154.6 72.2h0.7M146.5 64.4h0.7M152.0 59.5h0.7M154.1 69.2h0.7M148.8 69.1h0.7M154.8 68.2h0.7M153.5 72.9h0.7M148.7 67.6h0.7M148.5 71.0h0.7M149.0 68.8h0.7M151.7 67.3h0.7M159.3 66.7h0.7M157.9 70.2h0.7M157.4 66.4h0.7M155.5 69.9h0.7M148.0 68.0h0.7M150.4 66.9h0.7M157.3 64.2h0.7M142.9 60.3h0.7M148.8 64.5h0.7M151.1 69.2h0.7M159.5 68.2h0.7M153.2 64.2h0.7M153.8 72.2h0.7M157.5 59.5h0.7M155.3 73.1h0.7M155.0 61.2h0.7M149.5 69.3h0.7M153.0 63.9h0.7M146.7 70.7h0.7M144.6 72.5h0.7M151.1 68.2h0.7M144.6 64.7h0.7M154.3 61.3h0.7M161.0 61.6h0.7M145.1 67.2h0.7M153.3 69.8h0.7M149.2 66.2h0.7M149.9 64.8h0.7M138.6 70.7h0.7M152.2 67.6h0.7M148.0 68.0h0.7M150.9 66.7h0.7M156.3 60.4h0.7M152.2 62.9h0.7M149.5 72.8h0.7M145.8 66.6h0.7M148.2 70.6h0.7M146.3 60.5h0.7M153.5 65.6h0.7M149.5 71.2h0.7M146.7 65.6h0.7M151.7 68.6h0.7M148.5 71.0h0.7M161.8 65.4h0.7M160.0 58.9h0.7M157.8 65.7h0.7M151.7 65.7h0.7M147.9 62.1h0.7M149.1 72.0h0.7M156.5 65.7h0.7M148.5 64.3h0.7M145.2 73.9h0.7M154.2 67.5h0.7M148.6 63.1h0.7M157.3 70.0h0.7M146.4 70.8h0.7M145.7 69.5h0.7M146.4 65.4h0.7M153.4 68.7h0.7M155.9 63.8h0.7M158.6 72.2h0.7M151.0 68.8h0.7M147.3 66.4h0.7M144.7 67.3h0.7M152.0 72.2h0.7M155.5 70.1h0.7M149.3 66.1h0.7M149.4 67.9h0.7M141.7 70.0h0.7M143.5 65.0h0.7M151.1 65.0h0.7M159.0 66.6h0.7M158.5 71.5h0.7M148.6 68.5h0.7M157.2 65.7h0.7M151.4 64.9h0.7M151.3 65.6h0.7M151.4 70.8h0.7M157.7 67.5h0.7M152.0 70.3h0.7M149.6 62.9h0.7M156.3 63.4h0.7M155.5 63.3h0.7M159.8 63.0h0.7M155.1 72.8h0.7M146.4 72.7h0.7M147.0 60.2h0.7M154.5 69.7h0.7M150.0 57.3h0.7M150.7 65.8h0.7M149.2 65.9h0.7M142.4 64.8h0.7M159.6 72.9h0.7M149.3 64.3h0.7M152.9 71.1h0.7M154.5 62.5h0.7M151.8 67.5h0.7M157.9 71.6h0.7M153.5 71.7h0.7M149.1 72.9h0.7M149.0 68.5h0.7M155.4 63.5h0.7M147.6 60.2h0.7M151.8 66.8h0.7M149.4 68.9h0.7M140.8 66.9h0.7M151.4 66.0h0.7M154.8 73.7h0.7M148.9 63.4h0.7M148.1 67.4h0.7M153.8 63.7h0.7M155.8 63.1h0.7M155.0 68.6h0.7M153.2 75.3h0.7M149.7 66.4h0.7M153.3 70.3h0.7M144.6 68.1h0.7M147.4 69.4h0.7M157.6 67.2h0.7M150.5 67.7h0.7M136.8 70.0h0.7M153.7 67.6h0.7M149.1 64.2h0.7M150.1 71.7h0.7M150.5 72.2h0.7M138.7 65.2h0.7M152.3 66.9h0.7M143.0 64.4h0.7M157.0 62.0h0.7M146.2 62.8h0.7M148.4 69.5h0.7M153.9 59.2h0.7M158.0 64.7h0.7M148.2 73.4h0.7M150.6 62.2h0.7M147.9 64.2h0.7M146.2 65.7h0.7M155.2 68.3h0.7M144.4 77.7h0.7M146.2 67.4h0.7M151.2 69.9h0.7M149.4 68.8h0.7M161.1 67.4h0.7M145.8 68.3h0.7M147.1 65.6h0.7M151.9 68.3h0.7M149.6 70.3h0.7M150.1 62.0h0.7M155.2 65.6h0.7M156.8 64.5h0.7M153.7 68.2h0.7M138.1 61.3h0.7M145.6 72.4h0.7M141.9 70.5h0.7M156.2 68.9h0.7M154.2 65.1h0.7M150.9 67.9h0.7M153.0 69.7h0.7M150.0 64.3h0.7M148.3 68.6h0.7M143.0 62.2h0.7M149.0 64.9h0.7M149.7 56.8h0.7M149.4 66.0h0.7M154.7 59.4h0.7M149.5 68.8h0.7M153.3 71.6h0.7M156.1 63.0h0.7M154.1 65.7h0.7M147.1 72.9h0.7M148.0 63.7h0.7M149.0 63.7h0.7M155.8 68.5h0.7M157.7 68.6h0.7M148.0 71.0h0.7M147.9 65.2h0.7M150.2 67.2h0.7M156.7 64.7h0.7M152.7 66.9h0.7M144.9 62.8h0.7M149.9 68.6h0.7M152.5 68.8h0.7M151.2 65.3h0.7M153.1 63.1h0.7M144.5 65.7h0.7M144.1 65.0h0.7M147.4 64.9h0.7M150.8 63.9h0.7M149.0 60.4h0.7M151.7 63.6h0.7M152.9 56.1h0.7M147.1 67.9h0.7M139.2 65.6h0.7M151.5 67.4h0.7M143.8 67.9h0.7M151.7 63.2h0.7M154.6 66.8h0.7M151.1 65.3h0.7M153.6 67.4h0.7M156.5 68.7h0.7M148.0 66.1h0.7M155.4 65.6h0.7M152.8 69.0h0.7M150.1 58.0h0.7M151.6 67.8h0.7M151.7 64.1h0.7M156.8 66.5h0.7M148.0 64.2h0.7M152.7 62.8h0.7M146.2 74.7h0.7M157.3 71.1h0.7M157.6 69.3h0.7M142.9 71.6h0.7M157.0 68.9h0.7" stroke="#222" stroke-opacity="0.35" stroke-width="0.7" fill="none"/>
<ellipse cx="151.00" cy="66.50" rx="9.00" ry="8.00" fill="#333" fill-opacity="0.45" filter="url(#bl3)" transform="rotate(0 151.00 66.50)"/>
<ellipse cx="151.00" cy="66.60" rx="7.80" ry="6.80" fill="#0a0a0a" stroke="none" stroke-width="1" transform="rotate(0 151.00 66.60)" />
<ellipse cx="151.50" cy="68.00" rx="5.30" ry="4.60" fill="#cfcfcf" stroke="none" stroke-width="1" transform="rotate(-20 151.50 68.00)" />
<ellipse cx="151.70" cy="68.10" rx="3.80" ry="3.30" fill="none" stroke="#888" stroke-width="0.5" transform="rotate(-20 151.70 68.10)" />
<ellipse cx="151.90" cy="68.10" rx="2.40" ry="2.10" fill="none" stroke="#999" stroke-width="0.5" transform="rotate(0 151.90 68.10)" />
<ellipse cx="152.20" cy="68.00" rx="0.90" ry="0.90" fill="#777" stroke="none" stroke-width="1" transform="rotate(0 152.20 68.00)" />
</g>
<text x="35.80" y="95.60" font-size="7.0" text-anchor="start" font-weight="normal" fill="#111" >−10<tspan font-size="4.8" dy="-3.0" dx="0.4">3</tspan></text>
<text x="53.00" y="95.60" font-size="7.0" text-anchor="start" font-weight="normal" fill="#111" >0</text>
<text x="60.80" y="95.60" font-size="7.0" text-anchor="start" font-weight="normal" fill="#111" >10<tspan font-size="4.8" dy="-3.0" dx="0.4">3</tspan></text>
<text x="79.50" y="95.60" font-size="7.0" text-anchor="start" font-weight="normal" fill="#111" >10<tspan font-size="4.8" dy="-3.0" dx="0.4">4</tspan></text>
<text x="93.80" y="95.60" font-size="7.0" text-anchor="start" font-weight="normal" fill="#111" >10<tspan font-size="4.8" dy="-3.0" dx="0.4">5</tspan></text>
<text x="106.40" y="95.60" font-size="7.0" text-anchor="start" font-weight="normal" fill="#111" >−10<tspan font-size="4.8" dy="-3.0" dx="0.4">3</tspan></text>
<text x="121.80" y="95.60" font-size="7.0" text-anchor="start" font-weight="normal" fill="#111" >0</text>
<text x="131.40" y="95.60" font-size="7.0" text-anchor="start" font-weight="normal" fill="#111" >10<tspan font-size="4.8" dy="-3.0" dx="0.4">3</tspan></text>
<text x="150.10" y="95.60" font-size="7.0" text-anchor="start" font-weight="normal" fill="#111" >10<tspan font-size="4.8" dy="-3.0" dx="0.4">4</tspan></text>
<text x="164.40" y="95.60" font-size="7.0" text-anchor="start" font-weight="normal" fill="#111" >10<tspan font-size="4.8" dy="-3.0" dx="0.4">5</tspan></text>
<text x="42.20" y="104.20" font-size="7.6" text-anchor="start" font-weight="normal" fill="#111" textLength="15.20" lengthAdjust="spacingAndGlyphs" >CD4</text>
<line x1="60.80" y1="101.60" x2="171.00" y2="101.60" stroke="#333" stroke-width="1.15" />
<path d="M174.0 101.60 L170.2 99.30 L170.2 103.90Z" fill="#111"/>
<path d="M39.3 109.7h1.5M39.3 111.0h1.5M39.3 112.2h1.5M39.3 113.5h1.5M39.3 114.7h1.5M39.3 116.0h1.5M39.3 117.2h1.5M39.3 118.5h1.5M39.3 119.7h1.5M39.3 121.0h1.5M39.3 122.2h1.5M39.3 123.5h1.5M39.3 124.7h1.5M39.3 126.0h1.5M39.3 127.2h1.5M39.3 128.4h1.5M39.3 129.7h1.5M39.3 130.9h1.5M39.3 132.2h1.5M39.3 133.4h1.5M39.3 134.7h1.5M39.3 135.9h1.5M39.3 137.2h1.5M39.3 138.4h1.5M39.3 139.7h1.5M39.3 140.9h1.5M39.3 142.2h1.5M39.3 143.4h1.5M39.3 144.7h1.5M39.3 145.9h1.5M39.3 147.2h1.5M39.3 148.4h1.5M39.3 149.7h1.5M39.3 150.9h1.5M39.3 152.2h1.5M39.3 153.4h1.5M39.3 154.7h1.5M39.3 155.9h1.5M39.3 157.2h1.5M39.3 158.4h1.5M39.3 159.7h1.5M39.3 160.9h1.5M39.3 162.2h1.5M39.3 163.4h1.5M39.3 164.7h1.5M39.3 165.9h1.5M39.3 167.2h1.5M39.3 168.4h1.5M39.3 169.7h1.5M39.3 170.9h1.5M42.3 172.2v1.5M43.5 172.2v1.5M44.8 172.2v1.5M46.0 172.2v1.5M47.3 172.2v1.5M48.5 172.2v1.5M49.8 172.2v1.5M51.0 172.2v1.5M52.3 172.2v1.5M53.5 172.2v1.5M54.8 172.2v1.5M56.0 172.2v1.5M57.3 172.2v1.5M58.5 172.2v1.5M59.8 172.2v1.5M61.0 172.2v1.5M62.3 172.2v1.5M63.5 172.2v1.5M64.8 172.2v1.5M66.0 172.2v1.5M67.3 172.2v1.5M68.5 172.2v1.5M69.8 172.2v1.5M71.0 172.2v1.5M72.3 172.2v1.5M73.5 172.2v1.5M74.8 172.2v1.5M76.0 172.2v1.5M77.3 172.2v1.5M78.5 172.2v1.5M79.8 172.2v1.5M81.0 172.2v1.5M82.3 172.2v1.5M83.5 172.2v1.5M84.8 172.2v1.5M86.0 172.2v1.5M87.3 172.2v1.5M88.5 172.2v1.5M89.8 172.2v1.5M91.0 172.2v1.5M92.3 172.2v1.5M93.5 172.2v1.5M94.8 172.2v1.5M96.0 172.2v1.5M97.3 172.2v1.5M98.5 172.2v1.5M99.8 172.2v1.5M101.0 172.2v1.5M102.3 172.2v1.5M103.5 172.2v1.5" stroke="#222" stroke-width="0.65" fill="none"/>
<path d="M38.1 114.0h2.7M38.1 128.8h2.7M38.1 146.0h2.7M38.1 157.1h2.7M38.1 168.8h2.7M64.3 172.2v2.7M83.4 172.2v2.7M98.4 172.2v2.7" stroke="#111" stroke-width="0.9" fill="none"/>
<rect x="40.80" y="108.20" width="64.00" height="64.00" fill="none" stroke="#111" stroke-width="1.15" rx="1.2"/>
<text x="33.10" y="116.46" font-size="7.0" text-anchor="end" font-weight="normal" fill="#111" >10</text>
<text x="33.60" y="113.46" font-size="4.8" text-anchor="start" font-weight="normal" fill="#111" >5</text>
<text x="33.10" y="131.34" font-size="7.0" text-anchor="end" font-weight="normal" fill="#111" >10</text>
<text x="33.60" y="128.34" font-size="4.8" text-anchor="start" font-weight="normal" fill="#111" >4</text>
<text x="33.10" y="148.50" font-size="7.0" text-anchor="end" font-weight="normal" fill="#111" >10</text>
<text x="33.60" y="145.50" font-size="4.8" text-anchor="start" font-weight="normal" fill="#111" >3</text>
<text x="34.20" y="159.62" font-size="7.0" text-anchor="end" font-weight="normal" fill="#111" >0</text>
<text x="33.10" y="171.33" font-size="7.0" text-anchor="end" font-weight="normal" fill="#111" >−10</text>
<text x="33.60" y="168.33" font-size="4.8" text-anchor="start" font-weight="normal" fill="#111" >3</text>
<path d="M109.7 109.7h1.5M109.7 111.0h1.5M109.7 112.2h1.5M109.7 113.5h1.5M109.7 114.7h1.5M109.7 116.0h1.5M109.7 117.2h1.5M109.7 118.5h1.5M109.7 119.7h1.5M109.7 121.0h1.5M109.7 122.2h1.5M109.7 123.5h1.5M109.7 124.7h1.5M109.7 126.0h1.5M109.7 127.2h1.5M109.7 128.4h1.5M109.7 129.7h1.5M109.7 130.9h1.5M109.7 132.2h1.5M109.7 133.4h1.5M109.7 134.7h1.5M109.7 135.9h1.5M109.7 137.2h1.5M109.7 138.4h1.5M109.7 139.7h1.5M109.7 140.9h1.5M109.7 142.2h1.5M109.7 143.4h1.5M109.7 144.7h1.5M109.7 145.9h1.5M109.7 147.2h1.5M109.7 148.4h1.5M109.7 149.7h1.5M109.7 150.9h1.5M109.7 152.2h1.5M109.7 153.4h1.5M109.7 154.7h1.5M109.7 155.9h1.5M109.7 157.2h1.5M109.7 158.4h1.5M109.7 159.7h1.5M109.7 160.9h1.5M109.7 162.2h1.5M109.7 163.4h1.5M109.7 164.7h1.5M109.7 165.9h1.5M109.7 167.2h1.5M109.7 168.4h1.5M109.7 169.7h1.5M109.7 170.9h1.5M112.7 172.2v1.5M114.0 172.2v1.5M115.2 172.2v1.5M116.5 172.2v1.5M117.7 172.2v1.5M119.0 172.2v1.5M120.2 172.2v1.5M121.5 172.2v1.5M122.7 172.2v1.5M124.0 172.2v1.5M125.2 172.2v1.5M126.5 172.2v1.5M127.7 172.2v1.5M128.9 172.2v1.5M130.2 172.2v1.5M131.4 172.2v1.5M132.7 172.2v1.5M133.9 172.2v1.5M135.2 172.2v1.5M136.4 172.2v1.5M137.7 172.2v1.5M138.9 172.2v1.5M140.2 172.2v1.5M141.4 172.2v1.5M142.7 172.2v1.5M143.9 172.2v1.5M145.2 172.2v1.5M146.4 172.2v1.5M147.7 172.2v1.5M148.9 172.2v1.5M150.2 172.2v1.5M151.4 172.2v1.5M152.7 172.2v1.5M153.9 172.2v1.5M155.2 172.2v1.5M156.4 172.2v1.5M157.7 172.2v1.5M158.9 172.2v1.5M160.2 172.2v1.5M161.4 172.2v1.5M162.7 172.2v1.5M163.9 172.2v1.5M165.2 172.2v1.5M166.4 172.2v1.5M167.7 172.2v1.5M168.9 172.2v1.5M170.2 172.2v1.5M171.4 172.2v1.5M172.7 172.2v1.5M173.9 172.2v1.5" stroke="#222" stroke-width="0.65" fill="none"/>
<path d="M108.5 114.0h2.7M108.5 128.8h2.7M108.5 146.0h2.7M108.5 157.1h2.7M108.5 168.8h2.7M134.7 172.2v2.7M153.8 172.2v2.7M168.8 172.2v2.7" stroke="#111" stroke-width="0.9" fill="none"/>
<rect x="111.20" y="108.20" width="64.30" height="64.00" fill="none" stroke="#111" stroke-width="1.15" rx="1.2"/>
<rect x="63.20" y="110.60" width="32.60" height="26.20" fill="none" stroke="#7a7a7a" stroke-width="1" rx="0.8"/>
<rect x="134.40" y="110.80" width="32.10" height="26.30" fill="none" stroke="#7a7a7a" stroke-width="1" rx="0.8"/>
<text x="43.30" y="119.80" font-size="6.8" text-anchor="start" font-weight="normal" fill="#111" >29.7</text>
<text x="113.90" y="119.80" font-size="6.8" text-anchor="start" font-weight="normal" fill="#111" >15.5</text>
<g filter="url(#bl)">
<path d="M68.5 127.8h0.7M82.9 121.1h0.7M77.6 126.0h0.7M76.6 127.3h0.7M77.4 125.7h0.7M77.4 117.3h0.7M72.7 135.3h0.7M78.2 128.1h0.7M82.0 129.6h0.7M79.4 120.7h0.7M77.1 115.6h0.7M76.2 126.5h0.7M67.6 123.8h0.7M80.6 128.2h0.7M73.0 120.5h0.7M68.8 119.0h0.7M79.3 131.0h0.7M72.0 128.4h0.7M78.9 121.1h0.7M86.6 113.2h0.7M76.7 123.9h0.7M86.3 130.0h0.7M86.9 123.5h0.7M81.3 128.3h0.7M79.2 124.4h0.7M76.2 121.4h0.7M71.6 130.6h0.7M75.0 114.9h0.7M78.2 122.9h0.7M77.8 130.1h0.7M76.5 122.0h0.7M73.7 122.9h0.7M75.1 123.8h0.7M90.7 124.5h0.7M73.3 130.5h0.7M80.8 126.2h0.7M80.1 126.2h0.7M80.0 128.5h0.7M81.4 128.2h0.7M74.8 123.0h0.7M73.8 126.7h0.7M80.6 121.2h0.7M79.6 133.2h0.7M82.4 118.7h0.7M76.6 125.5h0.7M76.8 124.5h0.7M82.2 124.3h0.7M72.2 125.8h0.7M76.6 123.4h0.7M74.5 117.6h0.7M71.5 121.6h0.7M72.3 112.4h0.7M82.0 118.5h0.7M73.8 125.1h0.7M66.4 128.2h0.7M73.6 125.6h0.7M74.9 124.2h0.7M77.5 123.0h0.7M69.0 117.3h0.7M76.8 128.5h0.7M74.6 125.1h0.7M77.7 124.9h0.7M81.3 117.2h0.7M78.2 122.3h0.7M75.6 119.7h0.7M73.6 119.0h0.7M72.2 132.8h0.7M84.5 123.0h0.7M80.3 119.2h0.7M64.8 115.9h0.7M77.6 128.6h0.7M76.8 119.1h0.7M75.9 119.1h0.7M70.9 122.1h0.7M75.2 119.8h0.7M73.1 119.4h0.7M78.0 128.4h0.7M76.1 131.7h0.7M69.9 124.1h0.7M71.9 122.4h0.7M77.4 125.2h0.7M82.0 120.8h0.7M71.6 122.3h0.7M78.3 120.3h0.7M80.9 129.6h0.7M70.8 124.4h0.7M81.5 115.5h0.7M77.9 122.1h0.7M70.8 128.1h0.7M78.0 121.1h0.7M78.9 125.5h0.7M80.4 125.3h0.7M78.8 118.4h0.7M75.2 123.5h0.7M64.9 131.3h0.7M75.3 118.9h0.7M69.0 124.0h0.7M77.1 120.7h0.7M75.2 119.5h0.7M73.7 122.6h0.7M74.2 125.6h0.7M76.4 123.5h0.7M78.8 128.0h0.7M79.6 123.9h0.7M76.3 119.9h0.7M75.5 125.7h0.7M78.0 121.5h0.7M71.2 117.0h0.7M78.4 127.0h0.7M78.6 117.6h0.7M76.1 123.9h0.7M73.0 124.4h0.7M76.1 119.7h0.7M71.6 126.2h0.7M78.6 119.5h0.7M72.6 126.5h0.7M79.6 121.8h0.7M84.0 121.9h0.7M72.4 127.3h0.7M76.2 124.3h0.7M77.2 119.1h0.7M71.8 122.2h0.7M83.2 119.1h0.7M83.0 123.9h0.7M72.1 124.0h0.7M79.5 119.5h0.7M67.7 124.4h0.7M72.1 124.7h0.7M68.6 122.4h0.7M73.5 117.2h0.7M75.9 123.7h0.7M74.6 118.4h0.7M77.9 116.2h0.7M79.3 124.9h0.7M84.3 126.4h0.7M78.6 124.0h0.7M77.1 117.8h0.7M83.4 125.0h0.7M75.7 118.5h0.7M83.5 125.1h0.7M71.8 125.6h0.7M85.3 122.9h0.7M78.7 121.4h0.7M74.3 127.2h0.7M90.5 123.5h0.7M76.5 126.1h0.7M75.7 125.8h0.7M80.6 119.1h0.7M72.3 122.7h0.7M80.6 124.1h0.7M82.4 117.7h0.7M79.2 120.6h0.7M77.4 124.2h0.7M72.8 122.1h0.7M71.9 124.0h0.7M73.3 121.1h0.7M78.0 120.5h0.7M82.0 120.5h0.7M80.7 124.1h0.7M72.5 122.2h0.7M73.3 121.6h0.7M75.8 130.1h0.7M75.2 129.1h0.7M79.0 117.9h0.7M66.9 125.6h0.7M68.3 125.8h0.7M81.5 124.5h0.7M76.1 122.0h0.7M78.1 121.8h0.7M74.7 121.6h0.7M82.1 120.6h0.7M78.7 118.5h0.7M73.9 117.7h0.7M76.1 125.6h0.7M78.3 121.1h0.7M79.7 121.7h0.7M78.6 124.1h0.7M79.4 113.4h0.7M71.3 126.0h0.7M76.5 131.7h0.7M76.0 120.9h0.7M83.5 125.2h0.7M85.3 125.0h0.7M76.1 125.8h0.7M73.6 121.3h0.7M74.6 122.1h0.7M80.4 121.1h0.7M78.4 121.1h0.7M80.8 112.3h0.7M76.1 123.7h0.7M72.3 126.9h0.7M77.9 128.0h0.7M81.2 125.5h0.7M76.3 118.8h0.7M76.0 121.2h0.7M78.1 121.2h0.7M90.3 116.8h0.7M82.1 121.2h0.7M75.9 126.6h0.7M77.0 118.3h0.7M78.8 122.2h0.7M68.1 123.8h0.7M72.4 120.1h0.7M79.1 124.2h0.7M75.7 131.4h0.7M78.8 120.6h0.7M78.0 122.5h0.7M67.4 116.9h0.7M71.0 131.0h0.7M76.2 121.9h0.7M74.5 126.8h0.7M77.1 129.6h0.7M80.4 129.4h0.7M76.5 124.4h0.7M75.1 122.3h0.7M69.5 120.8h0.7M72.9 120.5h0.7M82.3 124.0h0.7M82.3 126.3h0.7M81.0 126.9h0.7" stroke="#555" stroke-opacity="0.45" stroke-width="0.7" fill="none"/>
<ellipse cx="76.50" cy="123.00" rx="5.60" ry="5.30" fill="#8d8d8d" stroke="none" stroke-width="1" transform="rotate(0 76.50 123.00)" />
<ellipse cx="75.80" cy="123.00" rx="3.60" ry="3.50" fill="#b5b5b5" stroke="none" stroke-width="1" transform="rotate(0 75.80 123.00)" />
<path d="M79.5 117.6 Q84.5 123 79.5 128.6 Q82 123 79.5 117.6Z" fill="#0a0a0a" stroke="#0a0a0a" stroke-width="1.2"/>
<path d="M75.3 154.6h0.7M76.3 146.9h0.7M81.9 162.5h0.7M73.9 160.0h0.7M80.5 145.1h0.7M78.5 152.1h0.7M78.9 147.9h0.7M72.8 150.2h0.7M80.7 154.5h0.7M79.9 156.4h0.7M73.9 149.8h0.7M78.7 155.8h0.7M78.1 153.0h0.7M78.0 162.1h0.7M69.5 149.9h0.7M86.6 151.4h0.7M70.8 150.8h0.7M72.3 146.1h0.7M78.3 159.9h0.7M79.2 153.9h0.7M81.2 151.2h0.7M74.4 149.4h0.7M78.7 148.4h0.7M75.1 147.9h0.7M72.0 144.1h0.7M77.2 147.9h0.7M77.6 158.1h0.7M78.6 149.8h0.7M73.2 143.8h0.7M78.9 145.0h0.7M79.1 143.8h0.7M78.0 149.6h0.7M81.1 147.7h0.7M76.1 151.4h0.7M77.7 159.8h0.7M76.6 146.9h0.7M76.3 152.7h0.7M78.4 154.0h0.7M72.4 164.3h0.7M84.2 149.8h0.7M73.1 150.9h0.7M79.0 137.1h0.7M77.5 141.5h0.7M79.2 158.0h0.7M81.3 141.3h0.7M82.6 155.2h0.7M76.2 152.9h0.7M83.0 148.1h0.7M77.4 146.8h0.7M81.7 137.6h0.7M82.7 144.4h0.7M80.9 140.6h0.7M74.1 146.5h0.7M80.5 140.6h0.7M79.7 146.3h0.7M82.0 148.2h0.7M79.3 149.0h0.7M84.1 147.9h0.7M77.4 161.5h0.7M77.8 154.0h0.7M74.8 151.2h0.7M69.2 150.6h0.7M75.1 141.3h0.7M72.3 156.6h0.7M79.1 141.2h0.7M84.1 146.0h0.7M76.2 151.4h0.7M73.3 140.7h0.7M74.8 156.8h0.7M81.0 140.9h0.7M81.9 150.2h0.7M79.3 150.3h0.7M79.0 144.2h0.7M74.2 145.9h0.7M76.2 153.6h0.7M73.1 159.2h0.7M75.2 146.6h0.7M80.1 152.5h0.7M76.3 143.8h0.7M73.8 140.8h0.7M81.7 156.3h0.7M84.3 152.9h0.7M78.7 154.4h0.7M81.0 148.5h0.7M78.8 162.4h0.7M71.3 141.9h0.7M74.0 154.4h0.7M81.8 148.0h0.7M80.0 149.7h0.7M78.6 146.9h0.7M77.4 150.0h0.7M81.6 162.9h0.7M70.9 153.1h0.7M77.5 155.6h0.7M81.4 154.5h0.7M80.5 144.5h0.7M71.3 159.6h0.7M81.9 144.5h0.7M82.2 153.9h0.7M68.5 155.2h0.7M73.9 156.7h0.7M75.0 145.7h0.7M71.8 148.7h0.7M81.2 146.1h0.7M70.7 162.4h0.7M84.3 154.0h0.7M75.5 143.0h0.7M71.5 153.2h0.7M82.3 143.9h0.7M77.5 148.4h0.7M76.6 152.9h0.7M85.2 146.3h0.7M80.6 156.3h0.7M76.5 149.1h0.7M72.6 156.2h0.7M75.6 146.2h0.7M77.7 145.0h0.7M73.7 148.3h0.7M82.9 148.8h0.7M79.4 141.5h0.7M70.4 160.5h0.7M76.0 141.1h0.7M77.1 153.5h0.7M71.2 144.9h0.7M78.5 144.7h0.7M80.4 155.6h0.7M79.1 147.5h0.7M77.3 146.3h0.7M77.0 151.8h0.7M76.4 155.6h0.7M87.0 146.8h0.7M78.8 154.8h0.7M79.9 148.6h0.7M75.7 155.8h0.7M79.8 152.9h0.7M74.6 153.7h0.7M80.4 148.9h0.7M79.9 162.6h0.7M70.6 153.5h0.7M73.2 142.1h0.7M76.6 153.2h0.7M77.7 143.2h0.7M72.2 146.8h0.7M77.6 145.2h0.7M72.0 160.2h0.7M74.4 149.1h0.7M75.5 146.6h0.7M77.6 148.3h0.7M79.8 143.1h0.7M72.0 161.3h0.7M77.2 154.5h0.7M81.8 153.2h0.7M77.6 141.0h0.7M71.6 155.7h0.7M80.0 153.3h0.7M71.4 137.6h0.7M73.6 143.1h0.7M78.1 144.1h0.7M83.3 146.4h0.7M75.4 155.0h0.7M78.7 144.8h0.7M80.5 161.2h0.7M73.0 148.6h0.7M73.5 138.7h0.7M79.8 154.1h0.7M81.1 152.5h0.7M70.1 149.8h0.7M75.0 143.1h0.7M73.4 154.5h0.7M76.4 161.5h0.7M79.2 138.9h0.7M80.8 157.3h0.7M77.6 142.9h0.7M84.0 142.3h0.7M77.2 138.9h0.7M72.9 140.1h0.7M81.5 156.9h0.7M76.0 142.1h0.7M77.3 152.2h0.7M71.9 143.2h0.7M77.1 154.1h0.7M77.8 152.6h0.7M72.9 135.4h0.7M78.7 144.6h0.7M77.0 147.8h0.7M79.3 145.5h0.7M82.9 150.2h0.7M79.5 153.7h0.7M81.3 152.4h0.7M71.0 146.3h0.7M84.4 152.8h0.7M79.6 152.7h0.7M75.1 146.0h0.7M75.1 156.8h0.7M78.9 160.4h0.7M79.4 161.1h0.7M79.2 143.1h0.7M84.0 152.0h0.7M81.9 151.3h0.7M76.3 151.0h0.7" stroke="#555" stroke-opacity="0.45" stroke-width="0.7" fill="none"/>
<ellipse cx="77.40" cy="154.60" rx="6.10" ry="4.90" fill="#333" stroke="none" stroke-width="1" transform="rotate(0 77.40 154.60)" />
<ellipse cx="78.00" cy="154.80" rx="4.90" ry="3.90" fill="#888" stroke="none" stroke-width="1" transform="rotate(0 78.00 154.80)" />
<ellipse cx="78.20" cy="155.00" rx="3.40" ry="2.70" fill="#aaa" stroke="#555" stroke-width="0.5" transform="rotate(0 78.20 155.00)" />
<ellipse cx="78.40" cy="155.00" rx="1.00" ry="1.00" fill="#eee" stroke="none" stroke-width="1" transform="rotate(0 78.40 155.00)" />
<path d="M142.9 120.3h0.7M143.8 122.9h0.7M141.9 124.6h0.7M148.8 133.0h0.7M155.1 124.8h0.7M151.1 124.1h0.7M149.1 124.9h0.7M145.3 125.3h0.7M141.4 126.7h0.7M146.3 120.7h0.7M146.0 127.2h0.7M144.7 126.9h0.7M149.9 131.1h0.7M143.0 124.6h0.7M149.6 130.9h0.7M148.6 128.0h0.7M141.4 122.7h0.7M154.4 123.9h0.7M156.4 122.1h0.7M146.3 118.7h0.7M150.1 126.0h0.7M155.9 125.7h0.7M146.5 119.4h0.7M147.2 128.7h0.7M150.6 129.8h0.7M151.1 124.8h0.7M150.0 125.7h0.7M142.0 131.8h0.7M149.1 120.8h0.7M149.1 126.1h0.7M151.6 130.7h0.7M134.9 127.2h0.7M153.9 121.3h0.7M139.8 126.1h0.7M148.9 126.4h0.7M142.9 123.2h0.7M148.3 127.9h0.7M156.6 126.2h0.7M145.0 115.7h0.7M152.0 124.5h0.7M147.0 121.1h0.7M150.6 117.9h0.7M148.0 125.5h0.7M148.7 130.2h0.7M147.1 125.4h0.7M151.1 118.9h0.7M146.3 125.3h0.7M151.5 121.8h0.7M150.8 126.5h0.7M141.3 119.1h0.7M141.5 125.6h0.7M148.4 127.9h0.7M150.9 122.8h0.7M152.0 128.3h0.7M149.5 126.9h0.7M142.1 126.4h0.7M143.2 120.3h0.7M146.0 125.6h0.7M147.3 123.7h0.7M143.3 125.7h0.7M144.4 119.4h0.7M147.9 130.8h0.7M145.8 120.8h0.7M153.3 131.8h0.7M146.3 124.2h0.7M148.4 136.7h0.7M148.1 129.0h0.7M149.4 117.8h0.7M142.9 120.1h0.7M149.3 125.4h0.7M155.0 123.9h0.7M148.8 125.3h0.7M148.1 134.2h0.7M148.7 130.9h0.7M152.9 122.6h0.7M150.4 123.5h0.7M148.0 125.6h0.7M147.6 123.1h0.7M154.0 123.9h0.7M150.4 131.7h0.7M150.1 129.1h0.7M153.3 129.3h0.7M154.7 119.3h0.7M155.7 125.1h0.7M140.2 122.4h0.7M141.7 124.9h0.7M141.3 121.0h0.7M148.7 125.6h0.7M144.2 124.1h0.7M147.1 125.3h0.7M147.5 124.1h0.7M151.2 118.6h0.7M145.4 125.5h0.7M145.8 122.8h0.7M145.7 125.8h0.7M152.7 124.3h0.7M146.4 126.4h0.7M146.5 117.3h0.7M148.6 123.5h0.7M145.1 127.5h0.7M147.7 122.7h0.7M138.4 118.1h0.7M147.6 124.5h0.7M149.3 125.9h0.7M145.5 119.9h0.7M142.9 124.4h0.7M142.7 128.0h0.7M141.9 117.8h0.7M146.7 117.9h0.7M154.3 121.0h0.7M147.3 124.0h0.7M144.1 117.9h0.7M139.7 128.5h0.7M151.8 133.7h0.7M141.4 127.2h0.7M147.4 128.4h0.7M145.3 127.9h0.7M151.3 127.4h0.7M153.6 124.3h0.7M154.0 122.2h0.7M154.5 114.0h0.7M147.6 121.8h0.7M147.5 129.1h0.7M150.5 125.4h0.7M154.6 119.1h0.7M144.1 131.0h0.7M148.9 116.7h0.7M148.9 120.3h0.7M153.7 129.6h0.7M145.2 130.2h0.7M144.0 128.7h0.7M149.9 124.5h0.7M141.5 123.9h0.7M137.9 122.7h0.7M139.7 129.9h0.7M143.4 115.3h0.7M150.0 126.5h0.7M145.4 133.5h0.7M150.7 125.3h0.7M144.8 113.2h0.7M149.5 128.8h0.7M145.0 119.3h0.7M147.3 118.3h0.7M147.5 128.1h0.7M153.8 126.1h0.7M148.3 128.0h0.7M153.4 123.7h0.7M142.3 121.8h0.7M142.2 121.4h0.7M147.0 126.4h0.7M148.2 125.3h0.7M146.0 126.7h0.7M151.2 128.0h0.7M153.8 123.8h0.7M146.4 131.8h0.7M148.3 126.7h0.7M146.1 128.9h0.7M145.8 121.0h0.7M147.2 123.2h0.7M151.0 123.5h0.7M148.0 124.1h0.7M148.9 122.5h0.7M152.1 119.3h0.7M145.9 122.2h0.7M150.2 125.2h0.7M149.5 123.7h0.7M144.5 120.5h0.7M146.1 122.9h0.7M148.7 126.4h0.7M151.6 124.6h0.7M144.4 120.8h0.7M147.8 126.4h0.7M155.7 125.7h0.7M154.9 132.5h0.7M143.1 129.8h0.7M152.3 130.4h0.7M147.5 128.8h0.7M145.5 124.7h0.7M147.6 132.1h0.7M146.6 128.8h0.7M147.8 122.2h0.7M148.5 127.6h0.7M144.5 127.5h0.7M144.5 121.5h0.7M148.4 124.1h0.7M143.4 118.5h0.7M147.6 126.0h0.7M145.6 125.7h0.7M141.1 126.6h0.7M149.2 126.1h0.7M144.9 125.3h0.7M148.0 129.3h0.7M148.7 126.0h0.7M144.5 128.4h0.7M152.4 123.0h0.7M150.2 126.2h0.7M147.3 119.9h0.7M154.9 117.5h0.7M148.8 123.5h0.7M152.3 123.3h0.7M147.7 127.4h0.7M149.4 122.9h0.7M150.4 126.6h0.7M151.6 123.0h0.7M147.3 123.4h0.7M144.0 126.0h0.7M149.2 130.7h0.7M146.1 126.5h0.7M152.3 124.5h0.7M147.8 125.5h0.7M144.6 121.1h0.7M152.2 125.7h0.7M147.2 120.0h0.7M148.0 129.7h0.7M142.7 121.4h0.7M152.1 130.7h0.7M154.0 122.8h0.7M150.0 122.0h0.7M149.7 123.5h0.7M148.3 130.3h0.7" stroke="#555" stroke-opacity="0.45" stroke-width="0.7" fill="none"/>
<ellipse cx="146.80" cy="125.40" rx="5.00" ry="5.30" fill="#0a0a0a" stroke="none" stroke-width="1" transform="rotate(0 146.80 125.40)" />
<ellipse cx="146.20" cy="126.30" rx="3.30" ry="3.40" fill="#c8c8c8" stroke="none" stroke-width="1" transform="rotate(0 146.20 126.30)" />
<path d="M149.8 148.6h0.7M148.7 151.6h0.7M146.6 151.2h0.7M150.8 159.3h0.7M140.7 142.9h0.7M143.8 155.2h0.7M157.7 151.2h0.7M149.0 156.8h0.7M139.3 148.9h0.7M136.7 150.9h0.7M146.6 147.1h0.7M149.8 146.5h0.7M152.7 150.0h0.7M149.9 165.1h0.7M146.8 155.5h0.7M145.4 157.4h0.7M152.1 150.8h0.7M152.2 159.6h0.7M153.7 150.0h0.7M148.3 156.6h0.7M143.0 146.4h0.7M150.3 153.4h0.7M155.5 160.5h0.7M149.7 152.6h0.7M143.5 148.9h0.7M149.5 148.7h0.7M148.7 153.6h0.7M144.9 146.6h0.7M141.8 156.8h0.7M144.5 139.9h0.7M151.4 148.7h0.7M152.1 147.8h0.7M156.5 154.2h0.7M149.1 150.7h0.7M147.7 154.8h0.7M156.0 147.5h0.7M144.4 153.5h0.7M152.5 141.1h0.7M145.9 144.1h0.7M150.6 153.0h0.7M145.7 143.3h0.7M151.1 137.8h0.7M150.9 149.1h0.7M155.7 155.9h0.7M146.3 148.4h0.7M147.5 145.7h0.7M148.8 155.7h0.7M142.8 148.7h0.7M154.1 154.4h0.7M145.5 145.2h0.7M145.3 140.5h0.7M152.8 150.4h0.7M145.9 141.5h0.7M147.1 147.0h0.7M154.9 147.3h0.7M148.9 156.3h0.7M151.0 148.9h0.7M140.3 158.3h0.7M150.7 147.4h0.7M148.2 144.4h0.7M145.1 141.2h0.7M150.4 153.1h0.7M149.2 154.6h0.7M150.5 150.7h0.7M145.2 153.5h0.7M152.9 153.7h0.7M153.2 147.2h0.7M144.8 157.4h0.7M146.3 151.4h0.7M147.8 150.1h0.7M147.5 146.8h0.7M141.8 161.2h0.7M149.3 138.7h0.7M145.1 143.4h0.7M145.7 135.0h0.7M150.6 159.7h0.7M147.6 154.4h0.7M150.7 142.7h0.7M153.0 140.1h0.7M146.4 147.9h0.7M153.2 150.7h0.7M148.0 145.3h0.7M148.8 150.2h0.7M151.2 158.2h0.7M151.2 150.1h0.7M147.9 159.4h0.7M149.2 149.9h0.7M155.2 159.2h0.7M150.6 149.4h0.7M146.1 156.3h0.7M146.8 155.6h0.7M145.6 150.6h0.7M150.0 150.9h0.7M149.4 152.2h0.7M144.3 143.5h0.7M148.0 160.6h0.7M148.0 144.6h0.7M146.0 150.2h0.7M152.9 146.7h0.7M150.6 151.1h0.7M147.2 144.5h0.7M147.9 145.8h0.7M150.5 139.7h0.7M152.7 154.4h0.7M150.6 158.8h0.7M150.7 140.0h0.7M148.7 152.6h0.7M146.0 143.4h0.7M150.1 153.0h0.7M146.9 148.6h0.7M146.6 146.7h0.7M148.3 156.3h0.7M142.5 148.0h0.7M154.5 151.9h0.7M149.1 154.9h0.7M144.8 142.9h0.7M142.3 141.5h0.7M149.4 155.0h0.7M147.0 146.0h0.7M150.0 153.6h0.7M149.5 138.9h0.7M146.5 135.2h0.7M149.4 145.0h0.7M146.1 158.8h0.7M153.4 152.8h0.7M149.5 151.0h0.7M146.3 149.7h0.7M155.6 144.9h0.7M146.1 150.9h0.7M151.8 154.9h0.7M144.9 149.2h0.7M147.5 142.8h0.7M148.8 147.2h0.7M151.9 152.5h0.7M145.6 150.5h0.7M147.2 146.3h0.7M146.7 156.2h0.7M147.0 140.0h0.7M145.6 154.7h0.7M156.5 143.9h0.7M147.2 148.1h0.7M143.3 152.3h0.7M148.3 151.6h0.7M156.8 148.4h0.7M151.4 154.9h0.7M146.2 146.5h0.7M154.3 154.2h0.7M149.0 143.6h0.7M151.8 153.1h0.7M156.6 158.6h0.7M151.5 151.6h0.7M148.7 146.8h0.7M149.6 151.4h0.7M150.9 156.3h0.7M149.7 146.8h0.7M151.5 159.1h0.7M145.4 152.5h0.7M150.5 153.1h0.7M150.4 149.5h0.7M148.1 159.8h0.7M154.9 141.8h0.7M139.1 152.6h0.7M146.0 147.0h0.7M142.6 152.1h0.7M148.3 146.9h0.7M151.8 164.2h0.7M153.9 156.8h0.7M147.0 153.8h0.7M148.4 156.7h0.7M150.7 149.8h0.7M150.5 145.8h0.7M151.4 158.8h0.7M147.2 153.2h0.7M142.4 155.5h0.7M151.7 144.1h0.7M154.9 150.7h0.7M142.1 142.0h0.7M151.7 148.4h0.7M152.6 141.0h0.7M148.1 155.7h0.7M146.0 154.0h0.7M147.2 152.0h0.7M149.7 163.0h0.7M143.9 154.5h0.7M153.3 143.4h0.7M148.8 163.5h0.7M152.4 132.7h0.7M147.6 140.0h0.7M149.6 145.8h0.7M146.4 145.1h0.7M149.6 147.3h0.7M145.2 148.7h0.7M150.0 145.0h0.7M152.6 140.3h0.7M150.0 147.7h0.7M154.3 146.3h0.7M146.1 142.2h0.7M155.8 153.6h0.7M144.5 148.0h0.7M145.0 158.9h0.7" stroke="#555" stroke-opacity="0.45" stroke-width="0.7" fill="none"/>
<ellipse cx="148.10" cy="155.00" rx="6.30" ry="5.30" fill="#333" stroke="none" stroke-width="1" transform="rotate(0 148.10 155.00)" />
<ellipse cx="148.60" cy="155.20" rx="5.10" ry="4.20" fill="#888" stroke="none" stroke-width="1" transform="rotate(0 148.60 155.20)" />
<ellipse cx="148.80" cy="155.30" rx="3.50" ry="2.80" fill="#aaa" stroke="#555" stroke-width="0.5" transform="rotate(0 148.80 155.30)" />
<ellipse cx="149.00" cy="155.40" rx="1.00" ry="1.00" fill="#eee" stroke="none" stroke-width="1" transform="rotate(0 149.00 155.40)" />
</g>
<text x="36.00" y="183.20" font-size="7.0" text-anchor="start" font-weight="normal" fill="#111" >−10<tspan font-size="4.8" dy="-3.0" dx="0.4">3</tspan></text>
<text x="53.20" y="183.20" font-size="7.0" text-anchor="start" font-weight="normal" fill="#111" >0</text>
<text x="61.00" y="183.20" font-size="7.0" text-anchor="start" font-weight="normal" fill="#111" >10<tspan font-size="4.8" dy="-3.0" dx="0.4">3</tspan></text>
<text x="79.70" y="183.20" font-size="7.0" text-anchor="start" font-weight="normal" fill="#111" >10<tspan font-size="4.8" dy="-3.0" dx="0.4">4</tspan></text>
<text x="94.00" y="183.20" font-size="7.0" text-anchor="start" font-weight="normal" fill="#111" >10<tspan font-size="4.8" dy="-3.0" dx="0.4">5</tspan></text>
<text x="106.40" y="183.20" font-size="7.0" text-anchor="start" font-weight="normal" fill="#111" >−10<tspan font-size="4.8" dy="-3.0" dx="0.4">3</tspan></text>
<text x="121.80" y="183.20" font-size="7.0" text-anchor="start" font-weight="normal" fill="#111" >0</text>
<text x="131.40" y="183.20" font-size="7.0" text-anchor="start" font-weight="normal" fill="#111" >10<tspan font-size="4.8" dy="-3.0" dx="0.4">3</tspan></text>
<text x="150.10" y="183.20" font-size="7.0" text-anchor="start" font-weight="normal" fill="#111" >10<tspan font-size="4.8" dy="-3.0" dx="0.4">4</tspan></text>
<text x="164.40" y="183.20" font-size="7.0" text-anchor="start" font-weight="normal" fill="#111" >10<tspan font-size="4.8" dy="-3.0" dx="0.4">5</tspan></text>
<text x="42.20" y="192.40" font-size="7.6" text-anchor="start" font-weight="normal" fill="#111" textLength="15.20" lengthAdjust="spacingAndGlyphs" >CD8</text>
<line x1="60.80" y1="189.70" x2="171.00" y2="189.70" stroke="#333" stroke-width="1.15" />
<path d="M174.0 189.70 L170.2 187.40 L170.2 192.00Z" fill="#111"/>
<line x1="11.75" y1="30.50" x2="11.75" y2="144.70" stroke="#666" stroke-width="1.3" />
<path d="M11.75 27.5 L9.45 31.3 L14.05 31.3Z" fill="#111"/>
<text x="0.00" y="0.00" font-size="7.7" text-anchor="middle" font-weight="normal" fill="#111" textLength="25.10" lengthAdjust="spacingAndGlyphs" transform="translate(14.30,159.95) rotate(-90)">CD45.2</text>
<text x="76.30" y="211.30" font-size="9.7" text-anchor="middle" font-weight="normal" fill="#111" textLength="13.60" lengthAdjust="spacingAndGlyphs" >WT</text>
<text x="142.30" y="211.30" font-size="9.7" text-anchor="middle" font-weight="normal" fill="#111" textLength="12.60" lengthAdjust="spacingAndGlyphs" >KO</text>
<path d="M39.3 215.7h1.5M39.3 216.9h1.5M39.3 218.2h1.5M39.3 219.4h1.5M39.3 220.7h1.5M39.3 221.9h1.5M39.3 223.2h1.5M39.3 224.4h1.5M39.3 225.7h1.5M39.3 226.9h1.5M39.3 228.2h1.5M39.3 229.4h1.5M39.3 230.7h1.5M39.3 231.9h1.5M39.3 233.2h1.5M39.3 234.4h1.5M39.3 235.7h1.5M39.3 236.9h1.5M39.3 238.2h1.5M39.3 239.4h1.5M39.3 240.7h1.5M39.3 241.9h1.5M39.3 243.2h1.5M39.3 244.4h1.5M39.3 245.7h1.5M39.3 246.9h1.5M39.3 248.2h1.5M39.3 249.4h1.5M39.3 250.7h1.5M39.3 251.9h1.5M39.3 253.2h1.5M39.3 254.4h1.5M39.3 255.7h1.5M39.3 256.9h1.5M39.3 258.2h1.5M39.3 259.4h1.5M39.3 260.7h1.5M39.3 261.9h1.5M39.3 263.2h1.5M39.3 264.4h1.5M39.3 265.7h1.5M39.3 266.9h1.5M39.3 268.2h1.5M39.3 269.4h1.5M39.3 270.7h1.5M39.3 271.9h1.5M39.3 273.2h1.5M39.3 274.4h1.5M42.3 276.4v1.5M43.5 276.4v1.5M44.8 276.4v1.5M46.0 276.4v1.5M47.3 276.4v1.5M48.5 276.4v1.5M49.8 276.4v1.5M51.0 276.4v1.5M52.3 276.4v1.5M53.5 276.4v1.5M54.8 276.4v1.5M56.0 276.4v1.5M57.3 276.4v1.5M58.5 276.4v1.5M59.8 276.4v1.5M61.0 276.4v1.5M62.3 276.4v1.5M63.5 276.4v1.5M64.8 276.4v1.5M66.0 276.4v1.5M67.3 276.4v1.5M68.5 276.4v1.5M69.8 276.4v1.5M71.0 276.4v1.5M72.3 276.4v1.5M73.5 276.4v1.5M74.8 276.4v1.5M76.0 276.4v1.5M77.3 276.4v1.5M78.5 276.4v1.5M79.8 276.4v1.5M81.0 276.4v1.5M82.3 276.4v1.5M83.5 276.4v1.5M84.8 276.4v1.5M86.0 276.4v1.5M87.3 276.4v1.5M88.5 276.4v1.5M89.8 276.4v1.5M91.0 276.4v1.5M92.3 276.4v1.5M93.5 276.4v1.5M94.8 276.4v1.5M96.0 276.4v1.5M97.3 276.4v1.5M98.5 276.4v1.5M99.8 276.4v1.5M101.0 276.4v1.5" stroke="#222" stroke-width="0.65" fill="none"/>
<path d="M38.1 219.2h2.7M38.1 234.4h2.7M38.1 251.3h2.7M38.1 262.3h2.7M38.1 273.8h2.7M64.8 276.4v2.7M82.8 276.4v2.7M97.3 276.4v2.7" stroke="#111" stroke-width="0.9" fill="none"/>
<rect x="40.80" y="214.20" width="62.20" height="62.20" fill="none" stroke="#111" stroke-width="1.15" rx="1.2"/>
<text x="33.10" y="221.70" font-size="7.0" text-anchor="end" font-weight="normal" fill="#111" >10</text>
<text x="33.60" y="218.70" font-size="4.8" text-anchor="start" font-weight="normal" fill="#111" >5</text>
<text x="33.10" y="236.90" font-size="7.0" text-anchor="end" font-weight="normal" fill="#111" >10</text>
<text x="33.60" y="233.90" font-size="4.8" text-anchor="start" font-weight="normal" fill="#111" >4</text>
<text x="33.10" y="253.80" font-size="7.0" text-anchor="end" font-weight="normal" fill="#111" >10</text>
<text x="33.60" y="250.80" font-size="4.8" text-anchor="start" font-weight="normal" fill="#111" >3</text>
<text x="34.20" y="264.80" font-size="7.0" text-anchor="end" font-weight="normal" fill="#111" >0</text>
<text x="33.10" y="276.30" font-size="7.0" text-anchor="end" font-weight="normal" fill="#111" >−10</text>
<text x="33.60" y="273.30" font-size="4.8" text-anchor="start" font-weight="normal" fill="#111" >3</text>
<path d="M108.8 215.7h1.5M108.8 216.9h1.5M108.8 218.2h1.5M108.8 219.4h1.5M108.8 220.7h1.5M108.8 221.9h1.5M108.8 223.2h1.5M108.8 224.4h1.5M108.8 225.7h1.5M108.8 226.9h1.5M108.8 228.2h1.5M108.8 229.4h1.5M108.8 230.7h1.5M108.8 231.9h1.5M108.8 233.2h1.5M108.8 234.4h1.5M108.8 235.7h1.5M108.8 236.9h1.5M108.8 238.2h1.5M108.8 239.4h1.5M108.8 240.7h1.5M108.8 241.9h1.5M108.8 243.2h1.5M108.8 244.4h1.5M108.8 245.7h1.5M108.8 246.9h1.5M108.8 248.2h1.5M108.8 249.4h1.5M108.8 250.7h1.5M108.8 251.9h1.5M108.8 253.2h1.5M108.8 254.4h1.5M108.8 255.7h1.5M108.8 256.9h1.5M108.8 258.2h1.5M108.8 259.4h1.5M108.8 260.7h1.5M108.8 261.9h1.5M108.8 263.2h1.5M108.8 264.4h1.5M108.8 265.7h1.5M108.8 266.9h1.5M108.8 268.2h1.5M108.8 269.4h1.5M108.8 270.7h1.5M108.8 271.9h1.5M108.8 273.2h1.5M108.8 274.4h1.5M111.8 276.4v1.5M113.0 276.4v1.5M114.3 276.4v1.5M115.5 276.4v1.5M116.8 276.4v1.5M118.0 276.4v1.5M119.3 276.4v1.5M120.5 276.4v1.5M121.8 276.4v1.5M123.0 276.4v1.5M124.3 276.4v1.5M125.5 276.4v1.5M126.8 276.4v1.5M128.1 276.4v1.5M129.3 276.4v1.5M130.6 276.4v1.5M131.8 276.4v1.5M133.1 276.4v1.5M134.3 276.4v1.5M135.6 276.4v1.5M136.8 276.4v1.5M138.1 276.4v1.5M139.3 276.4v1.5M140.6 276.4v1.5M141.8 276.4v1.5M143.1 276.4v1.5M144.3 276.4v1.5M145.6 276.4v1.5M146.8 276.4v1.5M148.1 276.4v1.5M149.3 276.4v1.5M150.6 276.4v1.5M151.8 276.4v1.5M153.1 276.4v1.5M154.3 276.4v1.5M155.6 276.4v1.5M156.8 276.4v1.5M158.1 276.4v1.5M159.3 276.4v1.5M160.6 276.4v1.5M161.8 276.4v1.5M163.1 276.4v1.5M164.3 276.4v1.5M165.6 276.4v1.5M166.8 276.4v1.5M168.1 276.4v1.5M169.3 276.4v1.5M170.6 276.4v1.5" stroke="#222" stroke-width="0.65" fill="none"/>
<path d="M107.6 219.2h2.7M107.6 234.4h2.7M107.6 251.3h2.7M107.6 262.3h2.7M107.6 273.8h2.7M134.3 276.4v2.7M152.3 276.4v2.7M166.8 276.4v2.7" stroke="#111" stroke-width="0.9" fill="none"/>
<rect x="110.30" y="214.20" width="62.40" height="62.20" fill="none" stroke="#111" stroke-width="1.15" rx="1.2"/>
<rect x="67.30" y="224.60" width="30.50" height="22.40" fill="none" stroke="#7a7a7a" stroke-width="1" rx="0.8"/>
<rect x="136.20" y="224.60" width="30.70" height="22.40" fill="none" stroke="#7a7a7a" stroke-width="1" rx="0.8"/>
<text x="43.30" y="226.30" font-size="6.8" text-anchor="start" font-weight="normal" fill="#111" >2.99</text>
<text x="112.20" y="226.30" font-size="6.8" text-anchor="start" font-weight="normal" fill="#111" >0.20</text>
<g filter="url(#bl)">
<path d="M85.1 235.5h0.7M84.6 243.5h0.7M84.0 242.3h0.7M83.7 241.6h0.7M84.6 239.1h0.7M84.9 241.5h0.7M83.9 239.1h0.7M81.2 241.7h0.7M86.2 234.4h0.7M82.5 244.7h0.7M86.5 239.1h0.7M87.7 238.3h0.7M81.9 246.3h0.7M82.8 240.4h0.7M79.5 238.2h0.7M80.8 240.6h0.7M79.0 243.9h0.7M83.0 239.4h0.7M82.3 243.0h0.7M88.2 239.9h0.7M88.4 245.4h0.7M87.7 241.8h0.7M79.9 242.8h0.7M82.9 241.5h0.7M78.9 240.2h0.7M84.6 238.4h0.7M84.8 245.6h0.7M84.6 239.1h0.7M90.5 235.1h0.7M81.5 242.1h0.7M82.4 234.8h0.7M84.7 243.3h0.7M81.8 245.0h0.7M85.4 244.2h0.7M79.8 241.0h0.7M88.4 246.5h0.7M87.6 241.0h0.7M84.5 239.3h0.7M87.0 239.1h0.7M84.3 235.4h0.7M79.9 245.9h0.7M84.2 241.6h0.7M78.0 240.9h0.7M89.7 236.9h0.7M77.5 240.6h0.7M82.5 240.4h0.7M80.6 237.3h0.7M80.6 242.8h0.7M83.9 243.2h0.7M81.1 242.6h0.7" stroke="#555" stroke-opacity="0.45" stroke-width="0.7" fill="none"/>
<ellipse cx="84.50" cy="241.30" rx="2.60" ry="3.00" fill="#aaa" stroke="none" stroke-width="1" transform="rotate(20 84.50 241.30)" />
<ellipse cx="84.70" cy="241.10" rx="1.30" ry="2.00" fill="#444" stroke="none" stroke-width="1" transform="rotate(25 84.70 241.10)" />
<path d="M80.7 253.3h0.7M84.7 253.1h0.7M81.0 248.1h0.7M82.2 255.3h0.7M80.1 252.8h0.7M76.8 249.1h0.7M83.2 256.8h0.7M81.1 248.1h0.7M80.9 248.4h0.7M81.2 258.7h0.7M82.9 252.6h0.7M85.0 251.9h0.7M83.0 253.6h0.7M83.3 248.7h0.7M84.1 255.6h0.7M75.3 245.0h0.7M79.4 257.4h0.7M82.1 255.0h0.7M83.6 255.6h0.7M80.1 251.3h0.7M83.1 254.8h0.7M83.7 254.0h0.7M80.6 256.3h0.7M83.4 256.1h0.7M74.5 256.0h0.7M74.8 253.6h0.7M80.0 253.4h0.7M80.6 252.1h0.7M82.6 254.0h0.7M79.6 245.5h0.7" stroke="#777" stroke-opacity="0.45" stroke-width="0.7" fill="none"/>
<ellipse cx="82.70" cy="261.30" rx="6.30" ry="3.30" fill="#888" stroke="none" stroke-width="1" transform="rotate(0 82.70 261.30)" />
<ellipse cx="83.20" cy="261.30" rx="4.50" ry="2.40" fill="#444" stroke="none" stroke-width="1" transform="rotate(0 83.20 261.30)" />
<ellipse cx="84.00" cy="261.30" rx="2.20" ry="1.20" fill="#aaa" stroke="none" stroke-width="1" transform="rotate(0 84.00 261.30)" />
<path d="M77.5 258.3 Q74.5 261.3 77.5 264.3" stroke="#111" stroke-width="1.3" fill="none"/>
<path d="M149.7 244.1h0.7M149.5 243.8h0.7M150.9 241.1h0.7M155.5 246.3h0.7M151.7 242.9h0.7M154.8 240.4h0.7M149.4 245.2h0.7M154.7 242.0h0.7M149.7 243.7h0.7M147.8 242.0h0.7M151.3 238.1h0.7M153.8 244.5h0.7M155.2 240.2h0.7M148.2 241.4h0.7" stroke="#888" stroke-opacity="0.45" stroke-width="0.7" fill="none"/>
<ellipse cx="150.00" cy="261.00" rx="6.60" ry="3.00" fill="#999" stroke="none" stroke-width="1" transform="rotate(0 150.00 261.00)" />
<ellipse cx="150.40" cy="261.00" rx="4.80" ry="2.20" fill="#3a3a3a" stroke="none" stroke-width="1" transform="rotate(0 150.40 261.00)" />
<ellipse cx="151.00" cy="261.00" rx="2.40" ry="1.00" fill="#aaa" stroke="none" stroke-width="1" transform="rotate(0 151.00 261.00)" />
<path d="M145.2 258.3 Q142.6 261 145.2 263.7" stroke="#111" stroke-width="1.2" fill="none"/>
</g>
<text x="36.00" y="289.90" font-size="7.0" text-anchor="start" font-weight="normal" fill="#111" >−10<tspan font-size="4.8" dy="-3.0" dx="0.4">3</tspan></text>
<text x="53.20" y="289.90" font-size="7.0" text-anchor="start" font-weight="normal" fill="#111" >0</text>
<text x="61.00" y="289.90" font-size="7.0" text-anchor="start" font-weight="normal" fill="#111" >10<tspan font-size="4.8" dy="-3.0" dx="0.4">3</tspan></text>
<text x="79.70" y="289.90" font-size="7.0" text-anchor="start" font-weight="normal" fill="#111" >10<tspan font-size="4.8" dy="-3.0" dx="0.4">4</tspan></text>
<text x="94.00" y="289.90" font-size="7.0" text-anchor="start" font-weight="normal" fill="#111" >10<tspan font-size="4.8" dy="-3.0" dx="0.4">5</tspan></text>
<text x="105.50" y="289.90" font-size="7.0" text-anchor="start" font-weight="normal" fill="#111" >−10<tspan font-size="4.8" dy="-3.0" dx="0.4">3</tspan></text>
<text x="121.50" y="289.90" font-size="7.0" text-anchor="start" font-weight="normal" fill="#111" >0</text>
<text x="130.50" y="289.90" font-size="7.0" text-anchor="start" font-weight="normal" fill="#111" >10<tspan font-size="4.8" dy="-3.0" dx="0.4">3</tspan></text>
<text x="149.20" y="289.90" font-size="7.0" text-anchor="start" font-weight="normal" fill="#111" >10<tspan font-size="4.8" dy="-3.0" dx="0.4">4</tspan></text>
<text x="163.50" y="289.90" font-size="7.0" text-anchor="start" font-weight="normal" fill="#111" >10<tspan font-size="4.8" dy="-3.0" dx="0.4">5</tspan></text>
<text x="41.50" y="298.70" font-size="7.6" text-anchor="start" font-weight="normal" fill="#111" textLength="15.00" lengthAdjust="spacingAndGlyphs" >CD4</text>
<line x1="57.70" y1="295.40" x2="170.50" y2="295.40" stroke="#333" stroke-width="1.15" />
<path d="M173.5 295.40 L169.7 293.10 L169.7 297.70Z" fill="#111"/>
<path d="M39.3 305.7h1.5M39.3 306.9h1.5M39.3 308.2h1.5M39.3 309.4h1.5M39.3 310.7h1.5M39.3 311.9h1.5M39.3 313.2h1.5M39.3 314.4h1.5M39.3 315.7h1.5M39.3 316.9h1.5M39.3 318.2h1.5M39.3 319.4h1.5M39.3 320.7h1.5M39.3 321.9h1.5M39.3 323.2h1.5M39.3 324.4h1.5M39.3 325.7h1.5M39.3 326.9h1.5M39.3 328.2h1.5M39.3 329.4h1.5M39.3 330.7h1.5M39.3 331.9h1.5M39.3 333.2h1.5M39.3 334.4h1.5M39.3 335.7h1.5M39.3 336.9h1.5M39.3 338.2h1.5M39.3 339.4h1.5M39.3 340.7h1.5M39.3 341.9h1.5M39.3 343.2h1.5M39.3 344.4h1.5M39.3 345.7h1.5M39.3 346.9h1.5M39.3 348.2h1.5M39.3 349.4h1.5M39.3 350.7h1.5M39.3 351.9h1.5M39.3 353.2h1.5M39.3 354.4h1.5M39.3 355.7h1.5M39.3 356.9h1.5M39.3 358.2h1.5M39.3 359.4h1.5M39.3 360.7h1.5M39.3 361.9h1.5M39.3 363.2h1.5M39.3 364.4h1.5M42.3 365.6v1.5M43.5 365.6v1.5M44.8 365.6v1.5M46.0 365.6v1.5M47.3 365.6v1.5M48.5 365.6v1.5M49.8 365.6v1.5M51.0 365.6v1.5M52.3 365.6v1.5M53.5 365.6v1.5M54.8 365.6v1.5M56.0 365.6v1.5M57.3 365.6v1.5M58.5 365.6v1.5M59.8 365.6v1.5M61.0 365.6v1.5M62.3 365.6v1.5M63.5 365.6v1.5M64.8 365.6v1.5M66.0 365.6v1.5M67.3 365.6v1.5M68.5 365.6v1.5M69.8 365.6v1.5M71.0 365.6v1.5M72.3 365.6v1.5M73.5 365.6v1.5M74.8 365.6v1.5M76.0 365.6v1.5M77.3 365.6v1.5M78.5 365.6v1.5M79.8 365.6v1.5M81.0 365.6v1.5M82.3 365.6v1.5M83.5 365.6v1.5M84.8 365.6v1.5M86.0 365.6v1.5M87.3 365.6v1.5M88.5 365.6v1.5M89.8 365.6v1.5M91.0 365.6v1.5M92.3 365.6v1.5M93.5 365.6v1.5M94.8 365.6v1.5M96.0 365.6v1.5M97.3 365.6v1.5M98.5 365.6v1.5M99.8 365.6v1.5M101.0 365.6v1.5" stroke="#222" stroke-width="0.65" fill="none"/>
<path d="M38.1 307.6h2.7M38.1 322.2h2.7M38.1 339.8h2.7M38.1 351.0h2.7M38.1 362.5h2.7M64.8 365.6v2.7M82.8 365.6v2.7M97.3 365.6v2.7" stroke="#111" stroke-width="0.9" fill="none"/>
<rect x="40.80" y="304.20" width="62.20" height="61.40" fill="none" stroke="#111" stroke-width="1.15" rx="1.2"/>
<text x="33.10" y="310.10" font-size="7.0" text-anchor="end" font-weight="normal" fill="#111" >10</text>
<text x="33.60" y="307.10" font-size="4.8" text-anchor="start" font-weight="normal" fill="#111" >5</text>
<text x="33.10" y="324.70" font-size="7.0" text-anchor="end" font-weight="normal" fill="#111" >10</text>
<text x="33.60" y="321.70" font-size="4.8" text-anchor="start" font-weight="normal" fill="#111" >4</text>
<text x="33.10" y="342.30" font-size="7.0" text-anchor="end" font-weight="normal" fill="#111" >10</text>
<text x="33.60" y="339.30" font-size="4.8" text-anchor="start" font-weight="normal" fill="#111" >3</text>
<text x="34.20" y="353.50" font-size="7.0" text-anchor="end" font-weight="normal" fill="#111" >0</text>
<text x="33.10" y="365.00" font-size="7.0" text-anchor="end" font-weight="normal" fill="#111" >−10</text>
<text x="33.60" y="362.00" font-size="4.8" text-anchor="start" font-weight="normal" fill="#111" >3</text>
<path d="M108.8 305.7h1.5M108.8 306.9h1.5M108.8 308.2h1.5M108.8 309.4h1.5M108.8 310.7h1.5M108.8 311.9h1.5M108.8 313.2h1.5M108.8 314.4h1.5M108.8 315.7h1.5M108.8 316.9h1.5M108.8 318.2h1.5M108.8 319.4h1.5M108.8 320.7h1.5M108.8 321.9h1.5M108.8 323.2h1.5M108.8 324.4h1.5M108.8 325.7h1.5M108.8 326.9h1.5M108.8 328.2h1.5M108.8 329.4h1.5M108.8 330.7h1.5M108.8 331.9h1.5M108.8 333.2h1.5M108.8 334.4h1.5M108.8 335.7h1.5M108.8 336.9h1.5M108.8 338.2h1.5M108.8 339.4h1.5M108.8 340.7h1.5M108.8 341.9h1.5M108.8 343.2h1.5M108.8 344.4h1.5M108.8 345.7h1.5M108.8 346.9h1.5M108.8 348.2h1.5M108.8 349.4h1.5M108.8 350.7h1.5M108.8 351.9h1.5M108.8 353.2h1.5M108.8 354.4h1.5M108.8 355.7h1.5M108.8 356.9h1.5M108.8 358.2h1.5M108.8 359.4h1.5M108.8 360.7h1.5M108.8 361.9h1.5M108.8 363.2h1.5M108.8 364.4h1.5M111.8 365.6v1.5M113.0 365.6v1.5M114.3 365.6v1.5M115.5 365.6v1.5M116.8 365.6v1.5M118.0 365.6v1.5M119.3 365.6v1.5M120.5 365.6v1.5M121.8 365.6v1.5M123.0 365.6v1.5M124.3 365.6v1.5M125.5 365.6v1.5M126.8 365.6v1.5M128.1 365.6v1.5M129.3 365.6v1.5M130.6 365.6v1.5M131.8 365.6v1.5M133.1 365.6v1.5M134.3 365.6v1.5M135.6 365.6v1.5M136.8 365.6v1.5M138.1 365.6v1.5M139.3 365.6v1.5M140.6 365.6v1.5M141.8 365.6v1.5M143.1 365.6v1.5M144.3 365.6v1.5M145.6 365.6v1.5M146.8 365.6v1.5M148.1 365.6v1.5M149.3 365.6v1.5M150.6 365.6v1.5M151.8 365.6v1.5M153.1 365.6v1.5M154.3 365.6v1.5M155.6 365.6v1.5M156.8 365.6v1.5M158.1 365.6v1.5M159.3 365.6v1.5M160.6 365.6v1.5M161.8 365.6v1.5M163.1 365.6v1.5M164.3 365.6v1.5M165.6 365.6v1.5M166.8 365.6v1.5M168.1 365.6v1.5M169.3 365.6v1.5M170.6 365.6v1.5" stroke="#222" stroke-width="0.65" fill="none"/>
<path d="M107.6 307.6h2.7M107.6 322.2h2.7M107.6 339.8h2.7M107.6 351.0h2.7M107.6 362.5h2.7M134.3 365.6v2.7M152.3 365.6v2.7M166.8 365.6v2.7" stroke="#111" stroke-width="0.9" fill="none"/>
<rect x="110.30" y="304.20" width="62.40" height="61.40" fill="none" stroke="#111" stroke-width="1.15" rx="1.2"/>
<rect x="62.50" y="309.60" width="23.60" height="26.60" fill="none" stroke="#7a7a7a" stroke-width="1" rx="0.8"/>
<rect x="131.60" y="309.60" width="23.70" height="26.60" fill="none" stroke="#7a7a7a" stroke-width="1" rx="0.8"/>
<text x="43.30" y="315.50" font-size="6.8" text-anchor="start" font-weight="normal" fill="#111" >6.80</text>
<text x="112.20" y="315.50" font-size="6.8" text-anchor="start" font-weight="normal" fill="#111" >2.26</text>
<g filter="url(#bl)">
<path d="M67.5 329.5h0.7M68.6 324.3h0.7M72.7 326.0h0.7M77.0 322.6h0.7M75.0 325.3h0.7M67.9 325.3h0.7M67.1 328.5h0.7M69.5 327.2h0.7M76.5 323.7h0.7M68.9 325.3h0.7M68.4 327.0h0.7M72.6 323.3h0.7M69.6 326.6h0.7M67.0 328.7h0.7M69.3 324.6h0.7M68.8 328.5h0.7M74.9 327.8h0.7M74.3 325.2h0.7M77.9 326.5h0.7M73.5 326.3h0.7M74.6 325.6h0.7M71.4 321.5h0.7M79.2 322.2h0.7M64.5 323.4h0.7M78.7 327.7h0.7M69.9 325.6h0.7M71.9 320.6h0.7M70.8 325.6h0.7M76.1 322.4h0.7M64.1 321.5h0.7M73.2 325.2h0.7M72.5 325.3h0.7M70.7 322.0h0.7M73.6 325.8h0.7M74.0 327.7h0.7M67.7 319.9h0.7M65.8 329.7h0.7M68.8 325.9h0.7M71.9 326.6h0.7M83.2 323.9h0.7M71.4 323.7h0.7M72.9 326.1h0.7M68.6 327.9h0.7M76.0 326.0h0.7M71.6 324.5h0.7M66.2 326.4h0.7M68.6 323.9h0.7M75.5 323.0h0.7M70.2 326.9h0.7M78.5 323.5h0.7M75.9 323.6h0.7M73.4 326.1h0.7M68.0 327.3h0.7M78.3 325.1h0.7M72.9 322.4h0.7M78.3 325.1h0.7M67.5 326.7h0.7M66.9 323.5h0.7M64.5 328.0h0.7M79.7 323.6h0.7" stroke="#888" stroke-opacity="0.45" stroke-width="0.7" fill="none"/>
<ellipse cx="73.30" cy="350.40" rx="8.60" ry="4.90" fill="#d4d4d4" stroke="none" stroke-width="1" transform="rotate(0 73.30 350.40)" />
<ellipse cx="73.40" cy="350.40" rx="6.40" ry="3.70" fill="#a0a0a0" stroke="none" stroke-width="1" transform="rotate(0 73.40 350.40)" />
<ellipse cx="73.60" cy="350.50" rx="4.20" ry="2.40" fill="#555" stroke="none" stroke-width="1" transform="rotate(0 73.60 350.50)" />
<ellipse cx="73.80" cy="350.50" rx="2.60" ry="1.40" fill="#333" stroke="none" stroke-width="1" transform="rotate(0 73.80 350.50)" />
<ellipse cx="74.00" cy="350.50" rx="1.60" ry="0.50" fill="#ddd" stroke="none" stroke-width="1" transform="rotate(0 74.00 350.50)" />
<path d="M137.9 325.3h0.7M138.1 328.7h0.7M143.1 324.0h0.7M140.6 321.6h0.7M143.3 326.7h0.7M137.7 331.6h0.7M139.2 331.1h0.7M142.2 332.0h0.7M137.5 327.2h0.7M140.4 326.4h0.7M143.3 324.9h0.7M142.0 331.1h0.7M134.6 324.1h0.7M137.2 325.4h0.7M140.5 326.5h0.7M139.7 325.6h0.7M139.3 328.5h0.7M141.4 324.7h0.7M139.2 324.7h0.7M139.1 322.7h0.7M141.9 329.0h0.7M139.2 324.9h0.7" stroke="#999" stroke-opacity="0.45" stroke-width="0.7" fill="none"/>
<ellipse cx="140.20" cy="350.60" rx="6.80" ry="4.00" fill="#c8c8c8" stroke="none" stroke-width="1" transform="rotate(0 140.20 350.60)" />
<ellipse cx="140.20" cy="350.60" rx="5.20" ry="3.10" fill="#888" stroke="none" stroke-width="1" transform="rotate(0 140.20 350.60)" />
<ellipse cx="140.60" cy="350.70" rx="3.60" ry="2.10" fill="#444" stroke="none" stroke-width="1" transform="rotate(0 140.60 350.70)" />
<ellipse cx="140.90" cy="350.70" rx="2.20" ry="1.20" fill="#333" stroke="none" stroke-width="1" transform="rotate(0 140.90 350.70)" />
<ellipse cx="141.00" cy="350.70" rx="1.40" ry="0.50" fill="#ddd" stroke="none" stroke-width="1" transform="rotate(0 141.00 350.70)" />
</g>
<text x="36.00" y="377.80" font-size="7.0" text-anchor="start" font-weight="normal" fill="#111" >−10<tspan font-size="4.8" dy="-3.0" dx="0.4">3</tspan></text>
<text x="53.20" y="377.80" font-size="7.0" text-anchor="start" font-weight="normal" fill="#111" >0</text>
<text x="61.00" y="377.80" font-size="7.0" text-anchor="start" font-weight="normal" fill="#111" >10<tspan font-size="4.8" dy="-3.0" dx="0.4">3</tspan></text>
<text x="79.70" y="377.80" font-size="7.0" text-anchor="start" font-weight="normal" fill="#111" >10<tspan font-size="4.8" dy="-3.0" dx="0.4">4</tspan></text>
<text x="94.00" y="377.80" font-size="7.0" text-anchor="start" font-weight="normal" fill="#111" >10<tspan font-size="4.8" dy="-3.0" dx="0.4">5</tspan></text>
<text x="105.50" y="377.80" font-size="7.0" text-anchor="start" font-weight="normal" fill="#111" >−10<tspan font-size="4.8" dy="-3.0" dx="0.4">3</tspan></text>
<text x="121.50" y="377.80" font-size="7.0" text-anchor="start" font-weight="normal" fill="#111" >0</text>
<text x="130.50" y="377.80" font-size="7.0" text-anchor="start" font-weight="normal" fill="#111" >10<tspan font-size="4.8" dy="-3.0" dx="0.4">3</tspan></text>
<text x="149.20" y="377.80" font-size="7.0" text-anchor="start" font-weight="normal" fill="#111" >10<tspan font-size="4.8" dy="-3.0" dx="0.4">4</tspan></text>
<text x="163.50" y="377.80" font-size="7.0" text-anchor="start" font-weight="normal" fill="#111" >10<tspan font-size="4.8" dy="-3.0" dx="0.4">5</tspan></text>
<text x="41.50" y="387.00" font-size="7.6" text-anchor="start" font-weight="normal" fill="#111" textLength="15.20" lengthAdjust="spacingAndGlyphs" >CD8</text>
<line x1="57.70" y1="383.80" x2="170.50" y2="383.80" stroke="#333" stroke-width="1.15" />
<path d="M173.5 383.80 L169.7 381.50 L169.7 386.10Z" fill="#111"/>
<line x1="9.60" y1="224.50" x2="9.60" y2="339.60" stroke="#666" stroke-width="1.3" />
<path d="M9.60 221.5 L7.30 225.3 L11.90 225.3Z" fill="#111"/>
<text x="0.00" y="0.00" font-size="7.7" text-anchor="middle" font-weight="normal" fill="#111" textLength="25.20" lengthAdjust="spacingAndGlyphs" transform="translate(12.20,355.50) rotate(-90)">CD45.2</text>
<text x="70.60" y="409.30" font-size="9.7" text-anchor="middle" font-weight="normal" fill="#111" textLength="13.60" lengthAdjust="spacingAndGlyphs" >WT</text>
<text x="132.70" y="409.30" font-size="9.7" text-anchor="middle" font-weight="normal" fill="#111" textLength="12.60" lengthAdjust="spacingAndGlyphs" >KO</text>
<path d="M39.5 415.8h1.5M39.5 417.1h1.5M39.5 418.3h1.5M39.5 419.6h1.5M39.5 420.8h1.5M39.5 422.1h1.5M39.5 423.3h1.5M39.5 424.6h1.5M39.5 425.8h1.5M39.5 427.1h1.5M39.5 428.3h1.5M39.5 429.6h1.5M39.5 430.8h1.5M39.5 432.1h1.5M39.5 433.3h1.5M39.5 434.6h1.5M39.5 435.8h1.5M39.5 437.1h1.5M39.5 438.3h1.5M39.5 439.6h1.5M39.5 440.8h1.5M39.5 442.1h1.5M39.5 443.3h1.5M39.5 444.6h1.5M39.5 445.8h1.5M39.5 447.1h1.5M39.5 448.3h1.5M39.5 449.6h1.5M39.5 450.8h1.5M39.5 452.1h1.5M39.5 453.3h1.5M39.5 454.6h1.5M39.5 455.8h1.5M39.5 457.1h1.5M39.5 458.3h1.5M39.5 459.6h1.5M39.5 460.8h1.5M39.5 462.1h1.5M39.5 463.3h1.5M39.5 464.6h1.5M39.5 465.8h1.5M39.5 467.1h1.5M39.5 468.3h1.5M39.5 469.6h1.5M39.5 470.8h1.5M39.5 472.1h1.5M39.5 473.3h1.5M39.5 474.6h1.5M42.5 476.3v1.5M43.8 476.3v1.5M45.0 476.3v1.5M46.2 476.3v1.5M47.5 476.3v1.5M48.8 476.3v1.5M50.0 476.3v1.5M51.2 476.3v1.5M52.5 476.3v1.5M53.8 476.3v1.5M55.0 476.3v1.5M56.2 476.3v1.5M57.5 476.3v1.5M58.8 476.3v1.5M60.0 476.3v1.5M61.2 476.3v1.5M62.5 476.3v1.5M63.8 476.3v1.5M65.0 476.3v1.5M66.2 476.3v1.5M67.5 476.3v1.5M68.8 476.3v1.5M70.0 476.3v1.5M71.2 476.3v1.5M72.5 476.3v1.5M73.8 476.3v1.5M75.0 476.3v1.5M76.2 476.3v1.5M77.5 476.3v1.5M78.8 476.3v1.5M80.0 476.3v1.5M81.2 476.3v1.5M82.5 476.3v1.5M83.8 476.3v1.5M85.0 476.3v1.5M86.2 476.3v1.5M87.5 476.3v1.5M88.8 476.3v1.5M90.0 476.3v1.5M91.2 476.3v1.5M92.5 476.3v1.5M93.8 476.3v1.5M95.0 476.3v1.5M96.2 476.3v1.5M97.5 476.3v1.5M98.8 476.3v1.5M100.0 476.3v1.5M101.2 476.3v1.5" stroke="#222" stroke-width="0.65" fill="none"/>
<path d="M38.3 418.8h2.7M38.3 432.9h2.7M38.3 447.4h2.7M38.3 461.7h2.7M38.3 468.8h2.7M53.5 476.3v2.7M68.0 476.3v2.7M82.5 476.3v2.7M97.0 476.3v2.7" stroke="#111" stroke-width="0.9" fill="none"/>
<rect x="41.00" y="414.30" width="62.50" height="62.00" fill="none" stroke="#111" stroke-width="1.15" rx="1.2"/>
<text x="33.30" y="421.30" font-size="7.0" text-anchor="end" font-weight="normal" fill="#111" >10</text>
<text x="33.80" y="418.30" font-size="4.8" text-anchor="start" font-weight="normal" fill="#111" >5</text>
<text x="33.30" y="435.40" font-size="7.0" text-anchor="end" font-weight="normal" fill="#111" >10</text>
<text x="33.80" y="432.40" font-size="4.8" text-anchor="start" font-weight="normal" fill="#111" >4</text>
<text x="33.30" y="449.90" font-size="7.0" text-anchor="end" font-weight="normal" fill="#111" >10</text>
<text x="33.80" y="446.90" font-size="4.8" text-anchor="start" font-weight="normal" fill="#111" >3</text>
<text x="33.30" y="464.20" font-size="7.0" text-anchor="end" font-weight="normal" fill="#111" >10</text>
<text x="33.80" y="461.20" font-size="4.8" text-anchor="start" font-weight="normal" fill="#111" >2</text>
<text x="34.40" y="471.30" font-size="7.0" text-anchor="end" font-weight="normal" fill="#111" >0</text>
<path d="M108.8 415.8h1.5M108.8 417.1h1.5M108.8 418.3h1.5M108.8 419.6h1.5M108.8 420.8h1.5M108.8 422.1h1.5M108.8 423.3h1.5M108.8 424.6h1.5M108.8 425.8h1.5M108.8 427.1h1.5M108.8 428.3h1.5M108.8 429.6h1.5M108.8 430.8h1.5M108.8 432.1h1.5M108.8 433.3h1.5M108.8 434.6h1.5M108.8 435.8h1.5M108.8 437.1h1.5M108.8 438.3h1.5M108.8 439.6h1.5M108.8 440.8h1.5M108.8 442.1h1.5M108.8 443.3h1.5M108.8 444.6h1.5M108.8 445.8h1.5M108.8 447.1h1.5M108.8 448.3h1.5M108.8 449.6h1.5M108.8 450.8h1.5M108.8 452.1h1.5M108.8 453.3h1.5M108.8 454.6h1.5M108.8 455.8h1.5M108.8 457.1h1.5M108.8 458.3h1.5M108.8 459.6h1.5M108.8 460.8h1.5M108.8 462.1h1.5M108.8 463.3h1.5M108.8 464.6h1.5M108.8 465.8h1.5M108.8 467.1h1.5M108.8 468.3h1.5M108.8 469.6h1.5M108.8 470.8h1.5M108.8 472.1h1.5M108.8 473.3h1.5M108.8 474.6h1.5M111.8 476.3v1.5M113.0 476.3v1.5M114.3 476.3v1.5M115.5 476.3v1.5M116.8 476.3v1.5M118.0 476.3v1.5M119.3 476.3v1.5M120.5 476.3v1.5M121.8 476.3v1.5M123.0 476.3v1.5M124.3 476.3v1.5M125.5 476.3v1.5M126.8 476.3v1.5M128.1 476.3v1.5M129.3 476.3v1.5M130.6 476.3v1.5M131.8 476.3v1.5M133.1 476.3v1.5M134.3 476.3v1.5M135.6 476.3v1.5M136.8 476.3v1.5M138.1 476.3v1.5M139.3 476.3v1.5M140.6 476.3v1.5M141.8 476.3v1.5M143.1 476.3v1.5M144.3 476.3v1.5M145.6 476.3v1.5M146.8 476.3v1.5M148.1 476.3v1.5M149.3 476.3v1.5M150.6 476.3v1.5M151.8 476.3v1.5M153.1 476.3v1.5M154.3 476.3v1.5M155.6 476.3v1.5M156.8 476.3v1.5M158.1 476.3v1.5M159.3 476.3v1.5M160.6 476.3v1.5M161.8 476.3v1.5M163.1 476.3v1.5M164.3 476.3v1.5M165.6 476.3v1.5M166.8 476.3v1.5M168.1 476.3v1.5M169.3 476.3v1.5M170.6 476.3v1.5" stroke="#222" stroke-width="0.65" fill="none"/>
<path d="M107.6 418.8h2.7M107.6 432.9h2.7M107.6 447.4h2.7M107.6 461.7h2.7M107.6 468.8h2.7M122.8 476.3v2.7M137.3 476.3v2.7M151.8 476.3v2.7M166.3 476.3v2.7" stroke="#111" stroke-width="0.9" fill="none"/>
<rect x="110.30" y="414.30" width="62.40" height="62.00" fill="none" stroke="#111" stroke-width="1.15" rx="1.2"/>
<rect x="54.40" y="419.50" width="42.20" height="26.60" fill="none" stroke="#7a7a7a" stroke-width="1" rx="0.8"/>
<path d="M123.4 419.75 H164.6 V446.1 H122.5 V424.5" stroke="#7a7a7a" stroke-width="1" fill="none"/>
<text x="43.60" y="422.60" font-size="6.8" text-anchor="start" font-weight="normal" fill="#111" >10</text>
<text x="111.70" y="422.60" font-size="6.8" text-anchor="start" font-weight="normal" fill="#111" >2.7</text>
<g filter="url(#bl)">
<path d="M47 470 Q42.5 466 43.2 456 Q44 447 49 441.5 Q54 437 60 435.2 Q66 433.5 66.5 436.5 Q65.5 440 60.5 443 Q57 446 56.5 452 Q57 462 55 469 Q52 475 47 470Z" fill="#8a8a8a" filter="url(#bl2)"/>
<path d="M54 444 Q58 439 63.5 436.3 Q65.5 436.5 63.5 439 Q59.5 442 56 446Z" fill="#333" filter="url(#bl)"/>
<path d="M49 473 Q44.6 470.5 44.8 462 Q45 452 48.3 446 Q51.8 440.5 57.5 438.2 Q59.6 438 58.3 440.5 Q55 444.5 53.8 450 Q54 458 53.6 465 Q52.8 472 49 473Z" fill="#111"/>
<path d="M49.5 470.2 Q46.6 467.5 46.9 459 Q47.3 450 50.6 444.2 Q53.5 441 55 440.8 Q52.6 445 52 450 Q52.1 458 51.9 465 Q51.4 469.5 49.5 470.2Z" fill="#bdbdbd"/>
<path d="M49.6 466 Q48.8 460 49.4 453 Q50 447.5 52 444.5" stroke="#444" stroke-width="0.7" fill="none"/>
<path d="M49.5 450.5h0.7M42.0 467.7h0.7M63.3 448.8h0.7M45.0 459.7h0.7M54.7 444.1h0.7M42.5 458.8h0.7M48.2 456.3h0.7M50.9 451.6h0.7M50.0 453.6h0.7M54.4 456.2h0.7M50.8 451.8h0.7M49.1 449.8h0.7M47.0 470.4h0.7M53.4 458.7h0.7M54.0 465.1h0.7M51.0 454.9h0.7M45.8 457.1h0.7M51.6 443.4h0.7M42.4 470.2h0.7M49.9 460.1h0.7M51.5 452.5h0.7M49.8 464.8h0.7M48.1 459.8h0.7M54.3 453.0h0.7M51.8 450.3h0.7M52.7 453.6h0.7M55.2 450.9h0.7M56.3 454.8h0.7M48.6 448.3h0.7M53.7 449.8h0.7M54.0 467.3h0.7M54.1 445.2h0.7M51.1 450.3h0.7M43.1 458.0h0.7M58.4 453.4h0.7M50.6 466.6h0.7M47.3 452.6h0.7M50.1 459.9h0.7M45.7 456.9h0.7M48.1 463.4h0.7M45.5 450.4h0.7M48.8 453.2h0.7M53.5 451.6h0.7M60.5 452.5h0.7M51.2 464.6h0.7M53.6 455.1h0.7M47.6 453.4h0.7M52.1 457.4h0.7M51.0 460.9h0.7M48.5 448.0h0.7M55.7 453.2h0.7M48.7 448.1h0.7M55.2 447.8h0.7M45.3 463.6h0.7M43.0 475.0h0.7M50.4 456.5h0.7M48.2 453.8h0.7M48.3 455.5h0.7M54.8 446.6h0.7M50.3 438.9h0.7M55.3 456.5h0.7M50.0 455.5h0.7M52.9 459.2h0.7M53.2 455.3h0.7M49.7 455.5h0.7M41.8 463.2h0.7M46.3 447.1h0.7M52.2 456.9h0.7M49.9 469.9h0.7M54.1 468.2h0.7M45.8 471.9h0.7M47.1 454.7h0.7M53.8 455.1h0.7M50.2 453.1h0.7M58.8 437.7h0.7M52.6 465.2h0.7M48.8 460.3h0.7M44.8 464.0h0.7M62.0 451.0h0.7M54.9 456.6h0.7M49.7 451.9h0.7M51.4 446.1h0.7M42.6 468.0h0.7M49.0 460.3h0.7M50.3 460.0h0.7M46.4 447.5h0.7M50.5 464.3h0.7M47.0 450.6h0.7M45.3 460.3h0.7M51.1 456.5h0.7M47.2 458.2h0.7M51.3 450.2h0.7M52.2 451.0h0.7M52.2 461.6h0.7M46.7 460.1h0.7M51.4 450.5h0.7M49.6 442.3h0.7M45.6 457.9h0.7M55.2 452.0h0.7M50.0 458.8h0.7M51.9 460.0h0.7M52.9 462.9h0.7M46.7 458.6h0.7M42.3 452.9h0.7M49.1 460.5h0.7M47.6 462.3h0.7M55.9 450.4h0.7M47.7 457.6h0.7M51.4 457.5h0.7M54.8 447.4h0.7M50.7 465.7h0.7M53.1 460.1h0.7M48.5 459.0h0.7M52.4 443.5h0.7M48.0 455.2h0.7M49.8 448.3h0.7M49.8 452.9h0.7M50.3 455.7h0.7M48.9 463.9h0.7M49.8 459.3h0.7M50.7 432.0h0.7M47.5 461.0h0.7M49.9 450.9h0.7M44.3 462.1h0.7M47.8 457.5h0.7M53.0 461.0h0.7M57.9 456.6h0.7M52.1 462.1h0.7M47.7 455.9h0.7M49.8 447.6h0.7M52.3 450.2h0.7M57.0 451.4h0.7M48.0 456.3h0.7M48.1 456.0h0.7M50.3 444.4h0.7M43.9 444.2h0.7M54.5 460.6h0.7M51.3 452.5h0.7M49.0 458.2h0.7M46.6 448.7h0.7M44.9 465.2h0.7M44.4 464.4h0.7M49.7 456.2h0.7M53.2 463.8h0.7M55.0 448.3h0.7M51.1 470.0h0.7M50.5 452.1h0.7M44.6 463.2h0.7M51.0 456.3h0.7M43.1 467.8h0.7M53.0 456.5h0.7M56.6 449.6h0.7M54.7 448.8h0.7M55.3 454.9h0.7M54.9 453.6h0.7M49.5 465.2h0.7M46.8 456.1h0.7M45.7 462.1h0.7M48.6 452.6h0.7M47.4 465.0h0.7M46.5 455.0h0.7M49.8 451.5h0.7M47.6 454.2h0.7M53.2 444.0h0.7M52.8 446.9h0.7M46.3 473.8h0.7M46.8 454.8h0.7M47.5 463.5h0.7M51.3 441.7h0.7M44.2 456.2h0.7M49.1 464.5h0.7M47.1 460.8h0.7M44.2 465.4h0.7M50.9 450.6h0.7M47.7 469.8h0.7M49.2 445.7h0.7M48.4 446.2h0.7M49.2 458.7h0.7M49.1 457.4h0.7M54.5 454.6h0.7M49.5 437.2h0.7M52.0 450.9h0.7M48.5 459.0h0.7M54.2 444.1h0.7M46.6 455.9h0.7M47.6 464.9h0.7M51.7 439.5h0.7M56.7 444.1h0.7M46.0 458.3h0.7M42.2 474.7h0.7M49.9 460.4h0.7M44.8 473.0h0.7M53.0 450.8h0.7M57.1 443.7h0.7M47.5 457.8h0.7M52.1 448.6h0.7M53.0 468.7h0.7M46.2 458.2h0.7M48.5 452.2h0.7M53.2 457.7h0.7M49.5 456.7h0.7M44.0 464.7h0.7M45.3 465.7h0.7M49.2 452.1h0.7M54.8 458.6h0.7M48.7 451.3h0.7M49.0 471.1h0.7M52.8 453.4h0.7M47.3 449.9h0.7M49.2 457.8h0.7M45.6 465.5h0.7M47.9 449.7h0.7M50.9 460.1h0.7M47.1 463.2h0.7M42.5 467.8h0.7M54.2 472.9h0.7M47.1 471.5h0.7M48.0 466.4h0.7M49.0 457.4h0.7M54.7 442.7h0.7M46.4 469.3h0.7M52.6 459.2h0.7M48.4 467.0h0.7M54.3 441.4h0.7M47.3 453.0h0.7M51.2 452.6h0.7M46.9 469.0h0.7M52.2 461.4h0.7M49.9 456.5h0.7M50.8 458.2h0.7M46.2 461.6h0.7M47.2 455.1h0.7M50.7 446.7h0.7M52.2 455.9h0.7M46.1 454.5h0.7M42.9 466.2h0.7M48.5 471.9h0.7M46.9 461.1h0.7M48.1 448.6h0.7M49.0 459.1h0.7M53.6 454.6h0.7M52.2 464.3h0.7M47.3 454.0h0.7M44.0 468.6h0.7M46.7 462.5h0.7M53.5 454.7h0.7M47.8 458.3h0.7M49.5 445.6h0.7M46.1 457.9h0.7M47.7 469.9h0.7M42.9 458.6h0.7M44.2 464.2h0.7M52.2 457.5h0.7M55.6 454.2h0.7" stroke="#333" stroke-opacity="0.35" stroke-width="0.7" fill="none"/>
<path d="M54.4 441.1h0.7M55.3 443.9h0.7M62.5 443.1h0.7M55.9 441.1h0.7M56.0 441.9h0.7M55.5 442.3h0.7M54.2 444.1h0.7M55.6 442.9h0.7M52.2 445.8h0.7M61.3 442.0h0.7M54.2 440.9h0.7M50.9 442.7h0.7M54.9 442.9h0.7M51.2 447.8h0.7M50.5 444.3h0.7M55.9 445.6h0.7M65.5 436.7h0.7M56.3 441.8h0.7M56.9 442.1h0.7M67.2 433.5h0.7M56.6 440.6h0.7M58.9 440.0h0.7M59.1 438.3h0.7M67.3 437.2h0.7M51.3 447.9h0.7M54.6 440.7h0.7M59.3 439.8h0.7M60.5 439.0h0.7M62.1 440.1h0.7M59.7 441.5h0.7M56.0 442.1h0.7M60.8 442.4h0.7M59.0 447.8h0.7M63.8 435.4h0.7M62.6 439.2h0.7M58.0 439.7h0.7M64.1 436.2h0.7M56.8 440.7h0.7M67.8 439.9h0.7M51.8 444.3h0.7M59.0 440.2h0.7M55.2 440.6h0.7M57.7 439.1h0.7M64.5 445.1h0.7M58.6 446.3h0.7M58.8 439.7h0.7M55.3 440.8h0.7M59.4 443.2h0.7M61.6 439.1h0.7M52.8 444.8h0.7M65.5 438.5h0.7M55.2 437.7h0.7M56.8 444.2h0.7M55.6 447.2h0.7M54.5 441.5h0.7M55.4 443.2h0.7M61.6 438.3h0.7M50.3 446.2h0.7M62.1 444.0h0.7M55.0 447.9h0.7M61.4 441.3h0.7M53.6 442.0h0.7M55.1 446.3h0.7M60.2 443.7h0.7M65.8 437.6h0.7M60.2 446.2h0.7M51.9 444.3h0.7M56.0 442.1h0.7M57.6 439.9h0.7M61.3 436.3h0.7M52.5 440.4h0.7M52.8 446.7h0.7M60.4 440.0h0.7M62.4 441.2h0.7M55.5 443.3h0.7M62.0 445.4h0.7M56.6 443.9h0.7M61.8 443.3h0.7M61.1 443.2h0.7M53.2 444.1h0.7M49.7 446.7h0.7M68.2 436.8h0.7M58.7 442.4h0.7M57.0 438.8h0.7M54.8 443.3h0.7M57.7 439.8h0.7M56.7 440.7h0.7M51.6 443.9h0.7M55.6 445.8h0.7M64.4 439.9h0.7M56.4 441.4h0.7M50.7 444.8h0.7M66.1 440.6h0.7M58.7 440.9h0.7M58.5 442.9h0.7M58.5 442.9h0.7M54.8 444.0h0.7M57.8 445.2h0.7M54.3 447.8h0.7M57.0 441.2h0.7M58.3 442.2h0.7M57.5 443.5h0.7M53.5 439.9h0.7M60.9 440.2h0.7M65.6 438.7h0.7M51.0 449.6h0.7M55.8 444.9h0.7M68.8 438.9h0.7M53.2 444.5h0.7M52.0 447.4h0.7M59.2 438.5h0.7M61.1 442.9h0.7M60.6 438.6h0.7M53.7 441.4h0.7M52.9 445.9h0.7M59.8 444.7h0.7M58.8 440.7h0.7M53.8 448.8h0.7M58.7 441.5h0.7M52.5 442.3h0.7M59.5 438.4h0.7M61.3 441.9h0.7M54.4 439.5h0.7M61.5 444.0h0.7M53.0 441.4h0.7M62.8 439.6h0.7M56.9 446.1h0.7M57.4 443.6h0.7M55.4 441.4h0.7M57.9 439.7h0.7M49.8 445.2h0.7M64.6 441.3h0.7M68.5 438.8h0.7M65.2 438.6h0.7M56.7 444.1h0.7M54.9 445.9h0.7M56.4 443.7h0.7M54.2 443.8h0.7M61.9 439.2h0.7M55.5 444.3h0.7M61.5 439.5h0.7M51.2 441.6h0.7M53.6 447.5h0.7M58.2 443.2h0.7M62.9 440.0h0.7M59.4 439.8h0.7M51.9 447.3h0.7M58.3 443.5h0.7M53.3 444.3h0.7M65.6 435.3h0.7M60.0 444.5h0.7M57.2 442.9h0.7M49.9 448.9h0.7M57.7 445.8h0.7M57.2 441.5h0.7M59.6 440.5h0.7M57.7 446.5h0.7M62.3 439.8h0.7M62.4 441.8h0.7M60.5 440.7h0.7" stroke="#333" stroke-opacity="0.35" stroke-width="0.7" fill="none"/>
<path d="M61.2 458.2h0.7M62.9 457.8h0.7M59.1 454.5h0.7M62.6 447.5h0.7M61.0 460.9h0.7M61.6 452.9h0.7M60.9 451.4h0.7M64.4 452.2h0.7M55.3 445.8h0.7M62.0 456.7h0.7M59.4 445.0h0.7M60.5 448.7h0.7M58.8 455.1h0.7M58.4 457.5h0.7M58.5 451.5h0.7M60.2 466.3h0.7M66.4 462.4h0.7M58.5 455.2h0.7M64.1 461.3h0.7M55.4 454.7h0.7M58.5 460.9h0.7M63.2 451.0h0.7M68.3 453.0h0.7M69.4 453.8h0.7M60.7 469.7h0.7M59.2 451.5h0.7M66.1 454.8h0.7M62.6 445.5h0.7M67.1 462.6h0.7M62.2 460.5h0.7M59.3 451.5h0.7M55.6 457.9h0.7M65.2 461.7h0.7M64.2 460.5h0.7M57.8 445.2h0.7M63.2 456.4h0.7M64.4 453.0h0.7M58.0 458.5h0.7M59.1 442.6h0.7M58.9 448.4h0.7M57.2 450.9h0.7M64.3 473.1h0.7M66.9 452.0h0.7M64.9 454.6h0.7M62.4 450.0h0.7M60.7 442.3h0.7M67.1 449.3h0.7M63.0 450.7h0.7M61.9 446.2h0.7M59.7 462.1h0.7" stroke="#555" stroke-opacity="0.45" stroke-width="0.7" fill="none"/>
<path d="M123.5 448.3h0.7M123.0 453.1h0.7M117.8 466.2h0.7M116.8 459.3h0.7M116.5 464.9h0.7M117.9 472.8h0.7M111.8 474.5h0.7M115.7 467.6h0.7M117.4 462.6h0.7M114.6 464.3h0.7M123.4 464.8h0.7M117.9 462.1h0.7M120.4 461.2h0.7M117.5 463.7h0.7M119.8 470.1h0.7M116.2 456.7h0.7M116.4 468.4h0.7M121.1 461.3h0.7M124.3 462.5h0.7M119.2 473.7h0.7M122.1 464.8h0.7M122.6 451.3h0.7M114.1 456.3h0.7M117.9 470.5h0.7M115.6 469.7h0.7M116.6 473.8h0.7M115.1 454.8h0.7M117.3 453.7h0.7M124.5 456.6h0.7M116.4 458.6h0.7M121.4 459.4h0.7M119.0 466.7h0.7M120.8 444.3h0.7M117.8 452.3h0.7M124.0 458.1h0.7M114.2 464.1h0.7M120.0 455.3h0.7M119.3 469.7h0.7M120.3 456.8h0.7M119.5 446.4h0.7M118.3 465.3h0.7M115.3 461.6h0.7M129.5 456.3h0.7M111.9 465.3h0.7M117.7 458.2h0.7M120.0 461.6h0.7M119.8 466.7h0.7M121.0 463.9h0.7M111.1 468.5h0.7M121.4 452.1h0.7M116.4 468.6h0.7M115.0 461.6h0.7M117.8 454.2h0.7M113.7 471.0h0.7M120.0 462.4h0.7M117.5 463.0h0.7M118.4 463.7h0.7M111.3 467.5h0.7M120.7 442.3h0.7M122.3 453.8h0.7M117.8 461.3h0.7M115.2 465.6h0.7M117.7 459.8h0.7M115.8 459.3h0.7M114.9 461.6h0.7M119.8 470.5h0.7M121.9 452.4h0.7M119.1 469.7h0.7M128.3 447.1h0.7M118.7 459.7h0.7M123.2 454.9h0.7M124.7 448.2h0.7M115.3 472.2h0.7M115.0 466.0h0.7M121.1 451.4h0.7M114.0 469.9h0.7M122.5 458.6h0.7M122.6 457.7h0.7M118.7 462.1h0.7M113.8 463.5h0.7M122.3 441.6h0.7M117.3 455.2h0.7M117.5 454.2h0.7M120.9 443.5h0.7M120.4 463.3h0.7M119.2 460.3h0.7M118.7 460.2h0.7M117.9 450.0h0.7M116.2 469.6h0.7M115.5 474.1h0.7M114.6 459.1h0.7M113.8 470.7h0.7M123.8 459.5h0.7M120.6 460.8h0.7M115.4 460.5h0.7M112.0 472.7h0.7M117.3 471.3h0.7M123.8 444.4h0.7M120.1 463.3h0.7M117.5 475.4h0.7M113.5 467.1h0.7M119.3 461.0h0.7M116.1 465.7h0.7M118.3 467.3h0.7M119.4 452.0h0.7M119.2 472.6h0.7M116.4 461.4h0.7M123.8 449.7h0.7M120.2 457.0h0.7M123.8 463.7h0.7M119.4 459.1h0.7M122.1 448.9h0.7M117.3 450.1h0.7M120.7 462.0h0.7M125.3 447.8h0.7M113.4 472.3h0.7M119.4 447.6h0.7M116.6 458.9h0.7M115.4 471.7h0.7M118.7 474.5h0.7M120.6 458.8h0.7M119.5 450.7h0.7M119.1 472.3h0.7M120.0 455.5h0.7M118.9 466.2h0.7M120.7 453.5h0.7M119.8 458.0h0.7M118.9 467.0h0.7M120.1 459.2h0.7M120.8 468.9h0.7M119.9 469.2h0.7M119.1 465.4h0.7M118.6 447.7h0.7M114.1 465.8h0.7M120.2 464.1h0.7M120.4 448.5h0.7M114.2 458.4h0.7M118.5 468.0h0.7M115.7 467.9h0.7M119.3 456.6h0.7M115.4 467.3h0.7M122.9 454.4h0.7M114.9 462.2h0.7M126.4 455.0h0.7M113.6 464.2h0.7M120.7 457.9h0.7M117.0 465.6h0.7M113.1 460.5h0.7M117.9 469.3h0.7M121.5 462.4h0.7M111.2 470.9h0.7M121.5 457.9h0.7M118.9 470.5h0.7M122.3 444.4h0.7M118.2 456.0h0.7M115.8 460.8h0.7M114.2 464.1h0.7M125.7 454.6h0.7M122.0 458.9h0.7M119.8 461.5h0.7M123.1 457.7h0.7M121.6 456.8h0.7M118.7 462.1h0.7M124.2 451.1h0.7M111.4 471.3h0.7M115.7 474.9h0.7M114.7 462.8h0.7M118.7 458.6h0.7M120.2 461.8h0.7M114.4 467.1h0.7M114.6 453.0h0.7M122.9 459.3h0.7M116.3 464.5h0.7M120.1 466.8h0.7M116.4 457.1h0.7M121.2 461.9h0.7M114.5 468.0h0.7M116.4 456.0h0.7M115.3 464.1h0.7M114.4 469.9h0.7M116.7 459.5h0.7M119.2 463.9h0.7M112.2 472.4h0.7M120.6 458.8h0.7M120.8 454.0h0.7M115.1 458.8h0.7M118.8 463.0h0.7M118.6 451.2h0.7M120.6 456.4h0.7M120.3 466.9h0.7M118.0 457.1h0.7M120.6 465.3h0.7M121.9 465.9h0.7M117.5 457.1h0.7M115.5 463.4h0.7M117.5 466.7h0.7M121.4 454.6h0.7M119.3 454.9h0.7M122.0 452.6h0.7M118.1 455.2h0.7M116.8 459.6h0.7M122.8 461.3h0.7M114.5 458.7h0.7M119.0 466.7h0.7M121.0 463.5h0.7M124.1 453.0h0.7M119.2 455.5h0.7M115.3 474.1h0.7M113.4 473.4h0.7M112.3 471.8h0.7M114.9 454.4h0.7M121.0 462.1h0.7M118.4 462.0h0.7M118.9 460.8h0.7M115.8 459.1h0.7M120.1 455.4h0.7M115.8 475.4h0.7M114.5 456.7h0.7M117.2 461.9h0.7M119.7 456.7h0.7M117.9 462.0h0.7M114.7 473.4h0.7M121.3 451.1h0.7M112.4 465.2h0.7M118.3 457.2h0.7M114.8 458.7h0.7M119.1 456.8h0.7M115.2 468.3h0.7M119.1 466.6h0.7M120.2 451.8h0.7M117.2 473.7h0.7M119.3 471.6h0.7M118.0 465.0h0.7M115.5 471.3h0.7M120.8 460.2h0.7M121.2 450.1h0.7M116.5 459.2h0.7M126.5 457.8h0.7M120.4 463.3h0.7M115.9 466.4h0.7M122.9 465.7h0.7M117.5 463.1h0.7M120.8 458.9h0.7M117.3 465.8h0.7M116.2 464.6h0.7M117.5 467.6h0.7M116.3 457.3h0.7M114.4 470.6h0.7M122.0 449.9h0.7M121.5 452.7h0.7M115.2 462.4h0.7M118.8 475.1h0.7M117.6 459.5h0.7M125.4 456.2h0.7M121.7 465.7h0.7M115.7 471.6h0.7M121.0 456.2h0.7M113.7 461.0h0.7M116.7 472.5h0.7M116.7 473.7h0.7M119.8 464.2h0.7M118.4 465.3h0.7M116.5 460.7h0.7M119.3 458.8h0.7M116.8 450.2h0.7M118.4 466.2h0.7M120.6 453.4h0.7M121.2 459.7h0.7M120.4 459.1h0.7M112.8 455.0h0.7M119.5 473.2h0.7M122.1 449.5h0.7M117.5 459.6h0.7M119.5 461.4h0.7M122.2 450.1h0.7M113.3 472.2h0.7M112.1 467.8h0.7M123.2 468.6h0.7M111.6 470.2h0.7M112.1 463.1h0.7M114.4 470.9h0.7M120.9 464.3h0.7M121.1 470.7h0.7" stroke="#444" stroke-opacity="0.45" stroke-width="0.7" fill="none"/>
<path d="M123.9 442.7h0.7M134.2 437.6h0.7M128.1 442.8h0.7M122.8 441.3h0.7M126.4 444.1h0.7M129.3 440.6h0.7M120.2 444.9h0.7M127.3 444.7h0.7M128.7 441.5h0.7M129.0 443.1h0.7M132.3 440.1h0.7M128.4 445.0h0.7M129.4 439.1h0.7M125.0 444.4h0.7M122.4 451.8h0.7M130.5 441.7h0.7M139.8 439.5h0.7M136.0 443.2h0.7M127.5 438.6h0.7M132.6 441.6h0.7M123.3 446.8h0.7M131.0 444.6h0.7M126.7 442.4h0.7M128.2 440.5h0.7M128.0 446.0h0.7M123.0 448.1h0.7M119.2 446.2h0.7M122.9 446.5h0.7M129.2 442.3h0.7M130.1 442.2h0.7M127.2 445.6h0.7M126.5 444.9h0.7M129.4 440.3h0.7M128.8 438.8h0.7M123.4 440.4h0.7M127.9 448.9h0.7M130.2 446.2h0.7M120.6 444.9h0.7M129.9 444.9h0.7M126.9 438.2h0.7M128.5 442.7h0.7M128.2 444.9h0.7M123.3 440.6h0.7M121.2 443.0h0.7M122.6 446.6h0.7M130.0 439.4h0.7M122.7 443.0h0.7M121.6 448.0h0.7M125.1 444.5h0.7M124.7 447.3h0.7M124.1 448.0h0.7M126.2 447.3h0.7M124.9 447.0h0.7M128.3 442.8h0.7M132.5 440.8h0.7M125.3 447.6h0.7M123.5 444.6h0.7M127.3 444.4h0.7M129.5 436.1h0.7M128.1 447.3h0.7M127.0 445.1h0.7M129.8 437.7h0.7M128.5 445.8h0.7M122.2 441.2h0.7M124.1 446.7h0.7M130.7 447.9h0.7M128.7 437.4h0.7M131.8 443.9h0.7M131.9 440.0h0.7M125.5 445.6h0.7M133.0 442.0h0.7M133.7 442.1h0.7M123.4 442.9h0.7M130.4 436.3h0.7M125.4 444.0h0.7M123.1 444.7h0.7M131.0 449.6h0.7M125.9 442.9h0.7M129.0 446.0h0.7M123.7 444.9h0.7M122.6 449.6h0.7M131.7 446.0h0.7M126.8 451.8h0.7M129.3 441.4h0.7M125.2 444.1h0.7M124.4 448.5h0.7M123.9 443.6h0.7M128.8 443.1h0.7M124.7 444.7h0.7M127.7 448.3h0.7M129.0 440.0h0.7M129.2 447.4h0.7M129.0 448.9h0.7M129.5 444.6h0.7M121.8 450.7h0.7M129.1 444.6h0.7M129.4 444.2h0.7M126.9 447.3h0.7M125.5 441.4h0.7M124.0 446.7h0.7M124.4 438.0h0.7M122.2 451.1h0.7M131.7 450.8h0.7M121.7 446.8h0.7M126.0 446.7h0.7M134.2 444.7h0.7M125.8 449.2h0.7M123.6 447.5h0.7M128.6 445.1h0.7M126.7 449.0h0.7M126.8 444.1h0.7M124.4 442.1h0.7M129.9 443.2h0.7M131.6 447.4h0.7M123.8 445.3h0.7M128.5 446.0h0.7M128.0 446.6h0.7M125.5 438.8h0.7M121.4 440.7h0.7M125.4 443.6h0.7" stroke="#666" stroke-opacity="0.45" stroke-width="0.7" fill="none"/>
<ellipse cx="121.50" cy="451.00" rx="5.00" ry="11.00" fill="#c4c4c4" stroke="none" stroke-width="1" transform="rotate(22 121.50 451.00)" />
<ellipse cx="121.20" cy="452.00" rx="3.60" ry="9.00" fill="#a4a4a4" stroke="#777" stroke-width="0.4" transform="rotate(20 121.20 452.00)" />
<ellipse cx="121.00" cy="453.00" rx="2.00" ry="7.00" fill="#888" stroke="none" stroke-width="1" transform="rotate(18 121.00 453.00)" />
<ellipse cx="117.80" cy="465.80" rx="5.00" ry="7.50" fill="#1a1a1a" stroke="none" stroke-width="1" transform="rotate(8 117.80 465.80)" />
<ellipse cx="118.00" cy="466.00" rx="3.60" ry="5.80" fill="#777" stroke="none" stroke-width="1" transform="rotate(8 118.00 466.00)" />
<ellipse cx="118.30" cy="466.50" rx="1.60" ry="3.20" fill="#2a2a2a" stroke="none" stroke-width="1" transform="rotate(8 118.30 466.50)" />
<ellipse cx="129.60" cy="440.70" rx="2.50" ry="1.80" fill="#333" stroke="none" stroke-width="1" transform="rotate(-30 129.60 440.70)" />
</g>
<text x="45.20" y="486.80" font-size="7.0" text-anchor="start" font-weight="normal" fill="#111" >0</text>
<text x="48.80" y="486.80" font-size="7.0" text-anchor="start" font-weight="normal" fill="#111" >10<tspan font-size="4.8" dy="-3.0" dx="0.4">2</tspan></text>
<text x="64.30" y="486.80" font-size="7.0" text-anchor="start" font-weight="normal" fill="#111" >10<tspan font-size="4.8" dy="-3.0" dx="0.4">3</tspan></text>
<text x="79.00" y="486.80" font-size="7.0" text-anchor="start" font-weight="normal" fill="#111" >10<tspan font-size="4.8" dy="-3.0" dx="0.4">4</tspan></text>
<text x="93.30" y="486.80" font-size="7.0" text-anchor="start" font-weight="normal" fill="#111" >10<tspan font-size="4.8" dy="-3.0" dx="0.4">5</tspan></text>
<text x="114.50" y="486.80" font-size="7.0" text-anchor="start" font-weight="normal" fill="#111" >0</text>
<text x="118.10" y="486.80" font-size="7.0" text-anchor="start" font-weight="normal" fill="#111" >10<tspan font-size="4.8" dy="-3.0" dx="0.4">2</tspan></text>
<text x="133.60" y="486.80" font-size="7.0" text-anchor="start" font-weight="normal" fill="#111" >10<tspan font-size="4.8" dy="-3.0" dx="0.4">3</tspan></text>
<text x="148.30" y="486.80" font-size="7.0" text-anchor="start" font-weight="normal" fill="#111" >10<tspan font-size="4.8" dy="-3.0" dx="0.4">4</tspan></text>
<text x="162.60" y="486.80" font-size="7.0" text-anchor="start" font-weight="normal" fill="#111" >10<tspan font-size="4.8" dy="-3.0" dx="0.4">5</tspan></text>
<text x="40.60" y="496.30" font-size="7.3" text-anchor="start" font-weight="normal" fill="#111" textLength="23.90" lengthAdjust="spacingAndGlyphs" >CXCR5</text>
<line x1="68.30" y1="494.00" x2="165.50" y2="494.00" stroke="#333" stroke-width="1.15" />
<path d="M168.5 494.00 L164.7 491.70 L164.7 496.30Z" fill="#111"/>
<path d="M39.5 507.5h1.5M39.5 508.8h1.5M39.5 510.0h1.5M39.5 511.2h1.5M39.5 512.5h1.5M39.5 513.8h1.5M39.5 515.0h1.5M39.5 516.2h1.5M39.5 517.5h1.5M39.5 518.8h1.5M39.5 520.0h1.5M39.5 521.2h1.5M39.5 522.5h1.5M39.5 523.8h1.5M39.5 525.0h1.5M39.5 526.2h1.5M39.5 527.5h1.5M39.5 528.8h1.5M39.5 530.0h1.5M39.5 531.2h1.5M39.5 532.5h1.5M39.5 533.8h1.5M39.5 535.0h1.5M39.5 536.2h1.5M39.5 537.5h1.5M39.5 538.8h1.5M39.5 540.0h1.5M39.5 541.2h1.5M39.5 542.5h1.5M39.5 543.8h1.5M39.5 545.0h1.5M39.5 546.2h1.5M39.5 547.5h1.5M39.5 548.8h1.5M39.5 550.0h1.5M39.5 551.2h1.5M39.5 552.5h1.5M39.5 553.8h1.5M39.5 555.0h1.5M39.5 556.2h1.5M39.5 557.5h1.5M39.5 558.8h1.5M39.5 560.0h1.5M39.5 561.2h1.5M39.5 562.5h1.5M39.5 563.8h1.5M39.5 565.0h1.5M39.5 566.2h1.5M39.5 567.5h1.5M42.5 568.8v1.5M43.8 568.8v1.5M45.0 568.8v1.5M46.2 568.8v1.5M47.5 568.8v1.5M48.8 568.8v1.5M50.0 568.8v1.5M51.2 568.8v1.5M52.5 568.8v1.5M53.8 568.8v1.5M55.0 568.8v1.5M56.2 568.8v1.5M57.5 568.8v1.5M58.8 568.8v1.5M60.0 568.8v1.5M61.2 568.8v1.5M62.5 568.8v1.5M63.8 568.8v1.5M65.0 568.8v1.5M66.2 568.8v1.5M67.5 568.8v1.5M68.8 568.8v1.5M70.0 568.8v1.5M71.2 568.8v1.5M72.5 568.8v1.5M73.8 568.8v1.5M75.0 568.8v1.5M76.2 568.8v1.5M77.5 568.8v1.5M78.8 568.8v1.5M80.0 568.8v1.5M81.2 568.8v1.5M82.5 568.8v1.5M83.8 568.8v1.5M85.0 568.8v1.5M86.2 568.8v1.5M87.5 568.8v1.5M88.8 568.8v1.5M90.0 568.8v1.5M91.2 568.8v1.5M92.5 568.8v1.5M93.8 568.8v1.5M95.0 568.8v1.5M96.2 568.8v1.5M97.5 568.8v1.5M98.8 568.8v1.5M100.0 568.8v1.5M101.2 568.8v1.5" stroke="#222" stroke-width="0.65" fill="none"/>
<path d="M38.3 512.3h2.7M38.3 527.0h2.7M38.3 541.7h2.7M38.3 556.4h2.7M38.3 562.9h2.7M53.5 568.8v2.7M68.0 568.8v2.7M82.5 568.8v2.7M97.0 568.8v2.7" stroke="#111" stroke-width="0.9" fill="none"/>
<rect x="41.00" y="506.00" width="62.50" height="62.80" fill="none" stroke="#111" stroke-width="1.15" rx="1.2"/>
<text x="33.30" y="514.80" font-size="7.0" text-anchor="end" font-weight="normal" fill="#111" >10</text>
<text x="33.80" y="511.80" font-size="4.8" text-anchor="start" font-weight="normal" fill="#111" >5</text>
<text x="33.30" y="529.50" font-size="7.0" text-anchor="end" font-weight="normal" fill="#111" >10</text>
<text x="33.80" y="526.50" font-size="4.8" text-anchor="start" font-weight="normal" fill="#111" >4</text>
<text x="33.30" y="544.20" font-size="7.0" text-anchor="end" font-weight="normal" fill="#111" >10</text>
<text x="33.80" y="541.20" font-size="4.8" text-anchor="start" font-weight="normal" fill="#111" >3</text>
<text x="33.30" y="558.90" font-size="7.0" text-anchor="end" font-weight="normal" fill="#111" >10</text>
<text x="33.80" y="555.90" font-size="4.8" text-anchor="start" font-weight="normal" fill="#111" >2</text>
<text x="34.40" y="565.40" font-size="7.0" text-anchor="end" font-weight="normal" fill="#111" >0</text>
<path d="M108.8 507.5h1.5M108.8 508.8h1.5M108.8 510.0h1.5M108.8 511.2h1.5M108.8 512.5h1.5M108.8 513.8h1.5M108.8 515.0h1.5M108.8 516.2h1.5M108.8 517.5h1.5M108.8 518.8h1.5M108.8 520.0h1.5M108.8 521.2h1.5M108.8 522.5h1.5M108.8 523.8h1.5M108.8 525.0h1.5M108.8 526.2h1.5M108.8 527.5h1.5M108.8 528.8h1.5M108.8 530.0h1.5M108.8 531.2h1.5M108.8 532.5h1.5M108.8 533.8h1.5M108.8 535.0h1.5M108.8 536.2h1.5M108.8 537.5h1.5M108.8 538.8h1.5M108.8 540.0h1.5M108.8 541.2h1.5M108.8 542.5h1.5M108.8 543.8h1.5M108.8 545.0h1.5M108.8 546.2h1.5M108.8 547.5h1.5M108.8 548.8h1.5M108.8 550.0h1.5M108.8 551.2h1.5M108.8 552.5h1.5M108.8 553.8h1.5M108.8 555.0h1.5M108.8 556.2h1.5M108.8 557.5h1.5M108.8 558.8h1.5M108.8 560.0h1.5M108.8 561.2h1.5M108.8 562.5h1.5M108.8 563.8h1.5M108.8 565.0h1.5M108.8 566.2h1.5M108.8 567.5h1.5M111.8 568.8v1.5M113.0 568.8v1.5M114.3 568.8v1.5M115.5 568.8v1.5M116.8 568.8v1.5M118.0 568.8v1.5M119.3 568.8v1.5M120.5 568.8v1.5M121.8 568.8v1.5M123.0 568.8v1.5M124.3 568.8v1.5M125.5 568.8v1.5M126.8 568.8v1.5M128.1 568.8v1.5M129.3 568.8v1.5M130.6 568.8v1.5M131.8 568.8v1.5M133.1 568.8v1.5M134.3 568.8v1.5M135.6 568.8v1.5M136.8 568.8v1.5M138.1 568.8v1.5M139.3 568.8v1.5M140.6 568.8v1.5M141.8 568.8v1.5M143.1 568.8v1.5M144.3 568.8v1.5M145.6 568.8v1.5M146.8 568.8v1.5M148.1 568.8v1.5M149.3 568.8v1.5M150.6 568.8v1.5M151.8 568.8v1.5M153.1 568.8v1.5M154.3 568.8v1.5M155.6 568.8v1.5M156.8 568.8v1.5M158.1 568.8v1.5M159.3 568.8v1.5M160.6 568.8v1.5M161.8 568.8v1.5M163.1 568.8v1.5M164.3 568.8v1.5M165.6 568.8v1.5M166.8 568.8v1.5M168.1 568.8v1.5M169.3 568.8v1.5M170.6 568.8v1.5" stroke="#222" stroke-width="0.65" fill="none"/>
<path d="M107.6 512.3h2.7M107.6 527.0h2.7M107.6 541.7h2.7M107.6 556.4h2.7M107.6 562.9h2.7M122.8 568.8v2.7M137.3 568.8v2.7M151.8 568.8v2.7M166.3 568.8v2.7" stroke="#111" stroke-width="0.9" fill="none"/>
<rect x="110.30" y="506.00" width="62.40" height="62.80" fill="none" stroke="#111" stroke-width="1.15" rx="1.2"/>
<text x="91.00" y="518.20" font-size="6.8" text-anchor="start" font-weight="normal" fill="#111" >4.8</text>
<text x="158.80" y="518.20" font-size="6.8" text-anchor="start" font-weight="normal" fill="#111" >2.5</text>
<g filter="url(#bl)">
<path d="M79.8 530.4h0.7M78.1 539.4h0.7M79.8 518.9h0.7M76.5 531.7h0.7M82.6 527.4h0.7M77.9 531.2h0.7M80.3 528.3h0.7M79.0 525.5h0.7M76.9 522.5h0.7M80.0 524.4h0.7M79.7 532.3h0.7M75.8 518.9h0.7M77.9 535.6h0.7M84.7 541.7h0.7M81.7 532.2h0.7M77.3 533.4h0.7M72.8 536.7h0.7M78.3 534.1h0.7M75.7 520.0h0.7M76.7 528.6h0.7M79.2 526.1h0.7M79.2 534.6h0.7M75.4 528.2h0.7M74.3 524.5h0.7M80.6 523.1h0.7M83.0 533.2h0.7M80.6 529.9h0.7M80.5 538.0h0.7M78.6 524.6h0.7M76.9 544.9h0.7M77.8 525.2h0.7M76.5 515.1h0.7M77.0 531.7h0.7M77.1 522.7h0.7M79.3 532.8h0.7M77.2 531.5h0.7M75.8 536.1h0.7M75.8 526.2h0.7M78.6 525.5h0.7M75.4 546.3h0.7M82.2 514.6h0.7M78.6 518.5h0.7M79.1 518.2h0.7M79.8 533.4h0.7M82.6 539.0h0.7M77.1 536.8h0.7M77.1 528.1h0.7M77.0 514.4h0.7M79.8 512.2h0.7M77.7 533.3h0.7M78.6 516.0h0.7M76.7 534.6h0.7M81.1 542.2h0.7M73.7 532.8h0.7M77.1 535.3h0.7M74.0 527.8h0.7M80.1 523.7h0.7M77.4 520.9h0.7M81.1 518.0h0.7M76.0 526.3h0.7M77.5 546.5h0.7M79.0 522.1h0.7M79.8 531.8h0.7M79.0 528.5h0.7M79.5 519.3h0.7M75.2 525.5h0.7M75.5 534.8h0.7M83.2 539.2h0.7M79.4 531.8h0.7M76.6 518.2h0.7M79.7 516.8h0.7M79.1 527.8h0.7M80.2 529.4h0.7M78.6 524.2h0.7M73.9 526.2h0.7M80.1 537.7h0.7M81.8 520.8h0.7M75.9 534.8h0.7M77.1 550.3h0.7M79.1 516.4h0.7M76.9 542.0h0.7M73.7 530.3h0.7M74.8 542.3h0.7M77.2 520.5h0.7M74.0 523.1h0.7M71.8 525.1h0.7M83.8 529.8h0.7M77.6 519.4h0.7M79.2 525.1h0.7M76.1 540.5h0.7M79.4 521.6h0.7M82.1 528.5h0.7M79.6 530.2h0.7M81.3 534.1h0.7M77.4 534.9h0.7M77.3 530.1h0.7M82.5 520.2h0.7M75.7 525.7h0.7M77.0 539.8h0.7M74.3 548.0h0.7M82.3 525.3h0.7M78.8 526.0h0.7M80.0 534.5h0.7M80.2 535.3h0.7M83.2 527.6h0.7M80.1 527.5h0.7M78.4 530.8h0.7M78.2 531.9h0.7M76.1 527.7h0.7" stroke="#333" stroke-opacity="0.5" stroke-width="0.7" fill="none"/>
<path d="M145.3 519.3h0.7M145.0 524.9h0.7M146.4 516.1h0.7M146.1 519.6h0.7M144.7 530.6h0.7M149.6 531.4h0.7M145.6 525.4h0.7M150.2 515.5h0.7M149.7 516.6h0.7M145.2 529.4h0.7M146.2 542.8h0.7M148.1 528.6h0.7M149.2 529.3h0.7M144.8 538.3h0.7M150.6 539.6h0.7M143.8 544.8h0.7M145.7 535.4h0.7M149.8 548.7h0.7M142.7 520.5h0.7M149.8 533.1h0.7M147.9 527.5h0.7M140.2 551.2h0.7M140.4 524.4h0.7M146.8 530.9h0.7M148.7 526.8h0.7M144.5 526.0h0.7M141.4 519.7h0.7M151.8 523.3h0.7M146.6 544.8h0.7M149.5 530.0h0.7M148.7 526.8h0.7M144.5 537.3h0.7M147.1 542.3h0.7M146.1 525.9h0.7M147.7 527.4h0.7M146.0 521.6h0.7M147.4 531.7h0.7M151.5 528.8h0.7M142.3 532.9h0.7M152.6 525.3h0.7M144.8 527.6h0.7M139.5 526.2h0.7M146.3 516.4h0.7M148.3 521.7h0.7M142.1 523.0h0.7M148.4 545.0h0.7M150.0 530.6h0.7M145.5 526.8h0.7M149.3 524.7h0.7M147.9 537.0h0.7M144.5 524.1h0.7M147.9 529.1h0.7M146.5 524.6h0.7M146.6 544.4h0.7M150.3 515.6h0.7M146.9 529.8h0.7M146.9 517.5h0.7M146.5 530.2h0.7M145.1 531.6h0.7M140.6 516.5h0.7M147.1 532.2h0.7M146.4 525.2h0.7M147.3 538.0h0.7M149.1 528.3h0.7M145.6 537.8h0.7M148.2 536.3h0.7M146.1 521.8h0.7M147.3 523.8h0.7M149.7 536.1h0.7M141.2 534.5h0.7M150.2 537.6h0.7M145.6 521.8h0.7M149.3 537.4h0.7M147.0 519.4h0.7M142.9 531.2h0.7M144.7 523.3h0.7M147.9 537.7h0.7M141.5 523.4h0.7M150.1 528.6h0.7M145.9 534.3h0.7M143.9 518.8h0.7M146.9 542.0h0.7M149.4 529.0h0.7M149.4 525.6h0.7M143.8 515.1h0.7M147.5 536.5h0.7M147.8 528.7h0.7M145.8 538.1h0.7M146.7 517.0h0.7M150.3 523.6h0.7M147.8 529.0h0.7M149.5 531.1h0.7M149.9 530.8h0.7M145.6 524.8h0.7M148.5 522.1h0.7M149.2 527.0h0.7M144.4 521.7h0.7M146.4 543.7h0.7M148.8 529.2h0.7M144.5 544.9h0.7M146.1 529.0h0.7M145.7 540.1h0.7M147.3 525.2h0.7M147.3 520.7h0.7M144.1 527.7h0.7M139.5 538.8h0.7M151.9 519.7h0.7M146.4 515.9h0.7M147.2 530.8h0.7M148.7 517.9h0.7M145.3 523.6h0.7M146.2 548.0h0.7M146.3 528.7h0.7M145.5 535.6h0.7M153.3 538.7h0.7M150.7 520.1h0.7M149.5 529.2h0.7M150.0 537.8h0.7M148.5 515.0h0.7M147.1 524.8h0.7M147.9 529.3h0.7M149.5 515.6h0.7M144.9 528.4h0.7M147.6 525.6h0.7M146.7 529.5h0.7M149.5 528.1h0.7M147.4 513.8h0.7M140.1 516.8h0.7M147.7 509.8h0.7" stroke="#333" stroke-opacity="0.5" stroke-width="0.7" fill="none"/>
<path d="M63.2 533.5h0.7M57.9 532.3h0.7M58.9 542.3h0.7M63.0 534.1h0.7M56.5 539.5h0.7M70.1 530.0h0.7M53.4 531.8h0.7M58.1 530.8h0.7M50.3 547.5h0.7M48.7 528.7h0.7M59.3 548.9h0.7M55.2 529.8h0.7M52.7 545.1h0.7M64.1 535.1h0.7M59.8 539.4h0.7M74.6 530.9h0.7M54.5 529.7h0.7M68.4 541.8h0.7M61.8 526.4h0.7M65.4 541.7h0.7M56.0 541.6h0.7M75.1 538.4h0.7M65.3 537.7h0.7M56.9 537.6h0.7M60.1 544.1h0.7M41.9 548.2h0.7M47.1 538.8h0.7M44.2 538.9h0.7M59.9 536.3h0.7M74.6 526.1h0.7M64.0 536.1h0.7M66.5 542.2h0.7M61.6 536.1h0.7M59.1 536.6h0.7M62.5 541.4h0.7M60.4 536.3h0.7M61.8 540.1h0.7M58.7 543.1h0.7M57.2 542.4h0.7M77.1 527.7h0.7M55.8 530.4h0.7M66.4 532.4h0.7M65.8 528.2h0.7M69.8 542.7h0.7M62.5 532.3h0.7M48.9 542.4h0.7M67.4 535.8h0.7M47.4 536.3h0.7M48.6 535.6h0.7M58.4 538.7h0.7M77.0 527.5h0.7M67.5 520.4h0.7M75.5 532.5h0.7M66.2 538.1h0.7M70.9 542.8h0.7M61.7 523.1h0.7M49.8 552.9h0.7M63.2 543.2h0.7M55.1 534.3h0.7M58.0 539.3h0.7M59.8 531.9h0.7M66.4 536.5h0.7M48.9 534.8h0.7M42.3 544.1h0.7M58.0 532.4h0.7M54.5 538.3h0.7M61.9 538.8h0.7M68.4 534.1h0.7M66.7 525.5h0.7M66.3 534.9h0.7M49.1 537.7h0.7M64.0 534.2h0.7M47.6 539.4h0.7M75.5 532.8h0.7M64.7 542.5h0.7M51.7 539.6h0.7M67.2 529.5h0.7M52.2 544.5h0.7M66.2 515.1h0.7M57.6 528.8h0.7M53.3 530.2h0.7M80.2 519.7h0.7M58.3 532.2h0.7M50.2 538.6h0.7M67.0 544.0h0.7M67.1 542.6h0.7M51.1 541.6h0.7M51.6 530.1h0.7M91.2 516.3h0.7M59.9 530.9h0.7M52.0 533.5h0.7M67.6 528.9h0.7M59.3 537.6h0.7M50.2 543.3h0.7M59.9 539.1h0.7M56.8 538.1h0.7M67.3 538.4h0.7M57.0 544.4h0.7M51.0 539.9h0.7M61.5 536.1h0.7M61.2 541.7h0.7M58.5 547.2h0.7M44.8 545.3h0.7M64.7 533.4h0.7M65.0 539.5h0.7M54.9 543.0h0.7M68.4 529.6h0.7M49.6 534.8h0.7M61.3 529.7h0.7M82.9 526.7h0.7M48.0 541.0h0.7M75.1 531.9h0.7M54.3 546.3h0.7M62.5 549.7h0.7M57.0 541.8h0.7M63.5 530.9h0.7M62.1 542.7h0.7M64.1 533.2h0.7M69.0 542.8h0.7M69.4 533.8h0.7M58.2 526.3h0.7M59.7 532.8h0.7M64.5 529.3h0.7M60.7 528.4h0.7M65.5 527.8h0.7M61.5 539.1h0.7M57.3 537.6h0.7M74.3 539.8h0.7M41.9 540.3h0.7M68.6 537.5h0.7M56.2 538.8h0.7M65.1 548.6h0.7M54.8 530.9h0.7M42.9 537.1h0.7M70.0 527.6h0.7M78.6 529.6h0.7M65.2 537.4h0.7M69.5 536.8h0.7M50.0 538.0h0.7M55.6 539.2h0.7M54.2 530.9h0.7M59.4 548.6h0.7M75.6 521.1h0.7M63.2 533.9h0.7M54.9 543.8h0.7M64.4 544.9h0.7M63.0 532.1h0.7M65.1 528.1h0.7M69.6 535.1h0.7M44.3 543.7h0.7M65.0 538.3h0.7M61.3 535.2h0.7M56.2 536.2h0.7M56.9 530.5h0.7M64.5 531.2h0.7M63.0 530.8h0.7M63.9 534.6h0.7M69.0 534.0h0.7M67.5 530.5h0.7M58.8 534.9h0.7M48.9 541.6h0.7M71.6 534.6h0.7M53.6 541.7h0.7M62.4 525.3h0.7M64.0 536.0h0.7M67.2 533.6h0.7M75.8 524.2h0.7M74.6 536.2h0.7M57.4 529.7h0.7M71.6 529.1h0.7M65.9 535.9h0.7M71.2 536.5h0.7M43.7 535.8h0.7M61.2 535.3h0.7M66.3 531.5h0.7M64.4 547.3h0.7M75.2 535.1h0.7M66.5 526.8h0.7M59.1 536.1h0.7M48.1 537.0h0.7M57.8 529.0h0.7M66.0 535.7h0.7M57.0 535.4h0.7M66.6 535.5h0.7M59.5 527.9h0.7M52.2 554.5h0.7M53.3 537.4h0.7M42.0 540.9h0.7M56.1 543.7h0.7M55.0 535.5h0.7M52.1 537.6h0.7M47.3 545.2h0.7M70.7 530.9h0.7M59.1 545.1h0.7M61.1 528.3h0.7M53.3 535.7h0.7M63.2 542.4h0.7M53.5 538.7h0.7M57.4 529.4h0.7M57.7 541.5h0.7M64.2 520.8h0.7M65.2 531.0h0.7M72.9 532.8h0.7M77.8 527.9h0.7M54.2 533.7h0.7M49.4 545.9h0.7M66.8 537.6h0.7M58.6 526.6h0.7M55.8 536.8h0.7M63.6 539.1h0.7M73.0 530.5h0.7M50.4 543.1h0.7M61.4 542.8h0.7M67.9 528.3h0.7M68.1 531.4h0.7M67.9 540.6h0.7M50.0 541.3h0.7M70.9 524.5h0.7M62.2 535.6h0.7M52.6 531.4h0.7M51.2 534.4h0.7M70.0 531.9h0.7M62.5 526.5h0.7M64.7 534.3h0.7M66.9 527.1h0.7M71.0 539.0h0.7M72.7 522.4h0.7M46.1 534.1h0.7M70.0 534.3h0.7M60.4 529.9h0.7M75.5 538.0h0.7M59.3 535.6h0.7M71.7 532.7h0.7M70.3 527.3h0.7M61.9 532.6h0.7M54.3 537.3h0.7M59.1 540.0h0.7M57.6 537.9h0.7M49.5 533.8h0.7M69.3 523.9h0.7M78.3 531.8h0.7M56.5 538.2h0.7M56.7 533.8h0.7M70.4 529.2h0.7M66.2 527.8h0.7M58.0 546.2h0.7M54.4 531.8h0.7M61.6 542.2h0.7M56.5 533.1h0.7M68.3 537.9h0.7M57.3 535.4h0.7" stroke="#444" stroke-opacity="0.45" stroke-width="0.7" fill="none"/>
<path d="M132.8 552.5h0.7M131.5 546.8h0.7M127.9 539.8h0.7M111.1 548.0h0.7M127.5 535.1h0.7M120.5 532.1h0.7M115.8 545.2h0.7M122.3 539.7h0.7M125.0 535.3h0.7M127.2 550.0h0.7M117.1 539.9h0.7M122.1 532.6h0.7M122.3 546.1h0.7M136.4 533.1h0.7M158.2 525.2h0.7M136.2 526.8h0.7M142.2 540.2h0.7M130.1 548.0h0.7M117.8 535.2h0.7M125.3 533.1h0.7M130.2 528.2h0.7M123.0 526.6h0.7M130.8 542.5h0.7M126.7 539.9h0.7M134.1 526.0h0.7M117.4 543.7h0.7M129.6 534.3h0.7M123.3 547.9h0.7M117.3 541.4h0.7M129.8 540.9h0.7M121.8 535.0h0.7M142.8 522.8h0.7M134.4 532.3h0.7M123.8 539.1h0.7M126.8 539.8h0.7M125.8 531.7h0.7M131.6 550.8h0.7M145.7 531.1h0.7M129.1 534.3h0.7M138.6 527.9h0.7M123.0 544.5h0.7M117.5 537.7h0.7M135.7 521.7h0.7M127.8 537.9h0.7M126.0 528.3h0.7M125.1 536.4h0.7M147.4 532.6h0.7M124.1 545.1h0.7M133.3 533.2h0.7M125.2 536.8h0.7M113.0 541.4h0.7M140.3 539.7h0.7M142.8 525.9h0.7M126.3 521.7h0.7M122.0 531.9h0.7M130.2 524.5h0.7M115.9 536.5h0.7M133.9 539.3h0.7M125.5 550.7h0.7M127.0 532.0h0.7M131.0 535.2h0.7M136.2 534.6h0.7M150.2 532.1h0.7M124.9 544.1h0.7M131.6 528.2h0.7M119.3 536.6h0.7M129.8 544.3h0.7M123.5 540.1h0.7M137.1 538.3h0.7M127.7 530.1h0.7M149.4 530.5h0.7M144.4 538.5h0.7M141.3 532.2h0.7M133.9 537.8h0.7M117.6 548.5h0.7M121.0 543.9h0.7M121.5 545.6h0.7M131.2 552.0h0.7M131.2 538.6h0.7M119.5 540.0h0.7M126.7 535.8h0.7M121.8 534.7h0.7M133.4 531.3h0.7M122.2 542.8h0.7M120.6 540.1h0.7M121.0 534.8h0.7M123.7 533.9h0.7M118.4 544.9h0.7M121.2 531.0h0.7M125.2 539.9h0.7M132.8 536.8h0.7M132.0 538.7h0.7M121.5 535.4h0.7M132.1 531.9h0.7M130.1 540.2h0.7M139.7 538.5h0.7M121.1 538.5h0.7M128.6 527.0h0.7M119.1 546.2h0.7M120.1 535.3h0.7M136.5 535.7h0.7M134.9 530.8h0.7M124.6 536.7h0.7M124.7 525.2h0.7M124.2 544.0h0.7M121.2 540.5h0.7M130.7 539.0h0.7M120.7 533.6h0.7M147.3 521.1h0.7M137.5 519.7h0.7M128.4 535.4h0.7M150.2 537.9h0.7M133.4 527.0h0.7M119.0 537.1h0.7M124.4 540.8h0.7M120.7 539.6h0.7M144.8 537.0h0.7M128.7 545.3h0.7M130.8 548.2h0.7M135.4 542.4h0.7M119.9 539.6h0.7M138.4 534.8h0.7M111.4 544.8h0.7M131.4 539.3h0.7M127.8 548.9h0.7M133.6 543.5h0.7M131.8 535.4h0.7M122.0 532.6h0.7M137.7 536.5h0.7M134.9 530.5h0.7M118.4 540.0h0.7M125.4 538.4h0.7M133.8 527.5h0.7M126.0 542.8h0.7M142.2 543.7h0.7M130.1 530.1h0.7M116.9 538.1h0.7M129.4 537.9h0.7M125.7 534.2h0.7M126.3 537.5h0.7M133.4 534.5h0.7M117.8 535.0h0.7M140.5 529.2h0.7M126.5 537.7h0.7M136.8 529.8h0.7M128.9 534.9h0.7M130.1 529.0h0.7M132.8 541.1h0.7M140.0 534.2h0.7M135.2 543.4h0.7M138.2 540.5h0.7M114.7 537.3h0.7M134.1 531.7h0.7M121.7 534.3h0.7M137.3 523.7h0.7M125.0 529.4h0.7M133.2 549.1h0.7M147.4 522.5h0.7M124.3 550.1h0.7M115.7 532.2h0.7M127.9 529.8h0.7M119.1 549.7h0.7M118.8 535.2h0.7M129.0 535.2h0.7M137.9 531.9h0.7M144.9 534.9h0.7M146.5 533.9h0.7M130.3 539.3h0.7M123.8 529.0h0.7M120.3 546.4h0.7M117.0 542.9h0.7M120.1 543.3h0.7M125.1 535.5h0.7M114.5 529.9h0.7M125.0 530.1h0.7M126.7 540.2h0.7M139.1 535.3h0.7M136.6 522.6h0.7M138.4 541.5h0.7M128.3 529.4h0.7M130.0 532.4h0.7M125.8 545.4h0.7M123.4 532.2h0.7M128.1 550.1h0.7M122.9 544.5h0.7M133.0 541.9h0.7M123.0 533.5h0.7M119.7 534.9h0.7M150.7 525.2h0.7M129.1 544.8h0.7M133.2 532.8h0.7M134.2 535.3h0.7M142.5 539.7h0.7M125.4 538.3h0.7M130.2 544.0h0.7M133.7 539.0h0.7M133.9 529.3h0.7M133.3 543.3h0.7M138.3 536.5h0.7M124.7 536.5h0.7M120.1 539.8h0.7M123.5 530.0h0.7M135.8 527.4h0.7M132.0 538.7h0.7M118.2 530.5h0.7M137.5 534.3h0.7M129.3 543.9h0.7M133.0 527.8h0.7M122.4 528.5h0.7M130.0 545.3h0.7M123.5 545.2h0.7M114.5 542.8h0.7M141.1 541.0h0.7M134.2 538.5h0.7M135.6 516.3h0.7M119.2 554.8h0.7M150.7 527.9h0.7M129.5 537.9h0.7M126.6 533.7h0.7M127.7 536.4h0.7M135.8 537.1h0.7M138.1 535.1h0.7M124.0 548.7h0.7M129.4 532.7h0.7M140.8 522.3h0.7M116.8 540.1h0.7M134.0 538.9h0.7M131.0 539.8h0.7M120.5 537.3h0.7M125.4 529.5h0.7M128.6 534.0h0.7M131.0 528.5h0.7M122.1 536.7h0.7M122.2 533.7h0.7M122.0 531.4h0.7M134.6 537.7h0.7M127.5 536.1h0.7M117.9 536.4h0.7M123.7 533.5h0.7M118.7 543.5h0.7M126.8 535.0h0.7M121.2 540.6h0.7M121.1 538.1h0.7M131.8 539.6h0.7M132.7 530.2h0.7M135.0 525.3h0.7M130.5 544.3h0.7M148.5 526.1h0.7M124.0 536.8h0.7M117.5 542.1h0.7M122.4 535.2h0.7M136.0 527.2h0.7M144.8 532.9h0.7M131.8 530.9h0.7M118.1 529.4h0.7" stroke="#444" stroke-opacity="0.45" stroke-width="0.7" fill="none"/>
<ellipse cx="57.80" cy="549.30" rx="15.50" ry="13.00" fill="#dadada" stroke="none" stroke-width="1" transform="rotate(-35 57.80 549.30)" />
<ellipse cx="57.30" cy="549.60" rx="13.30" ry="11.00" fill="#b0b0b0" stroke="#666" stroke-width="0.45" transform="rotate(-35 57.30 549.60)" />
<ellipse cx="56.90" cy="550.10" rx="11.00" ry="9.00" fill="#929292" stroke="#555" stroke-width="0.45" transform="rotate(-35 56.90 550.10)" />
<ellipse cx="56.50" cy="550.60" rx="8.50" ry="7.00" fill="#777" stroke="#444" stroke-width="0.45" transform="rotate(-35 56.50 550.60)" />
<ellipse cx="56.10" cy="551.10" rx="6.00" ry="5.00" fill="#5a5a5a" stroke="#333" stroke-width="0.45" transform="rotate(-35 56.10 551.10)" />
<ellipse cx="55.70" cy="551.60" rx="3.60" ry="3.00" fill="#4a4a4a" stroke="none" stroke-width="1" transform="rotate(-35 55.70 551.60)" />
<ellipse cx="55.30" cy="551.90" rx="1.60" ry="1.50" fill="#eee" stroke="none" stroke-width="1" transform="rotate(0 55.30 551.90)" />
<ellipse cx="66.30" cy="547.30" rx="3.50" ry="6.00" fill="none" stroke="#777" stroke-width="0.4" transform="rotate(-15 66.30 547.30)" />
<ellipse cx="66.30" cy="547.30" rx="4.20" ry="7.20" fill="none" stroke="#777" stroke-width="0.4" transform="rotate(-15 66.30 547.30)" />
<ellipse cx="66.30" cy="547.30" rx="4.90" ry="8.40" fill="none" stroke="#777" stroke-width="0.4" transform="rotate(-15 66.30 547.30)" />
<ellipse cx="125.80" cy="549.80" rx="15.50" ry="13.00" fill="#dadada" stroke="none" stroke-width="1" transform="rotate(-35 125.80 549.80)" />
<ellipse cx="125.30" cy="550.10" rx="13.30" ry="11.00" fill="#b0b0b0" stroke="#666" stroke-width="0.45" transform="rotate(-35 125.30 550.10)" />
<ellipse cx="124.90" cy="550.60" rx="11.00" ry="9.00" fill="#929292" stroke="#555" stroke-width="0.45" transform="rotate(-35 124.90 550.60)" />
<ellipse cx="124.50" cy="551.10" rx="8.50" ry="7.00" fill="#777" stroke="#444" stroke-width="0.45" transform="rotate(-35 124.50 551.10)" />
<ellipse cx="124.10" cy="551.60" rx="6.00" ry="5.00" fill="#5a5a5a" stroke="#333" stroke-width="0.45" transform="rotate(-35 124.10 551.60)" />
<ellipse cx="123.70" cy="552.10" rx="3.60" ry="3.00" fill="#4a4a4a" stroke="none" stroke-width="1" transform="rotate(-35 123.70 552.10)" />
<ellipse cx="123.30" cy="552.40" rx="1.60" ry="1.50" fill="#eee" stroke="none" stroke-width="1" transform="rotate(0 123.30 552.40)" />
<ellipse cx="134.30" cy="547.80" rx="3.50" ry="6.00" fill="none" stroke="#777" stroke-width="0.4" transform="rotate(-15 134.30 547.80)" />
<ellipse cx="134.30" cy="547.80" rx="4.20" ry="7.20" fill="none" stroke="#777" stroke-width="0.4" transform="rotate(-15 134.30 547.80)" />
<ellipse cx="134.30" cy="547.80" rx="4.90" ry="8.40" fill="none" stroke="#777" stroke-width="0.4" transform="rotate(-15 134.30 547.80)" />
</g>
<ellipse cx="78.60" cy="529.70" rx="8.90" ry="17.80" fill="none" stroke="#222" stroke-width="1" transform="rotate(-5 78.60 529.70)" />
<ellipse cx="146.80" cy="529.80" rx="8.60" ry="17.80" fill="none" stroke="#222" stroke-width="1" transform="rotate(-4 146.80 529.80)" />
<text x="45.20" y="579.60" font-size="7.0" text-anchor="start" font-weight="normal" fill="#111" >0</text>
<text x="48.80" y="579.60" font-size="7.0" text-anchor="start" font-weight="normal" fill="#111" >10<tspan font-size="4.8" dy="-3.0" dx="0.4">2</tspan></text>
<text x="64.30" y="579.60" font-size="7.0" text-anchor="start" font-weight="normal" fill="#111" >10<tspan font-size="4.8" dy="-3.0" dx="0.4">3</tspan></text>
<text x="79.00" y="579.60" font-size="7.0" text-anchor="start" font-weight="normal" fill="#111" >10<tspan font-size="4.8" dy="-3.0" dx="0.4">4</tspan></text>
<text x="93.30" y="579.60" font-size="7.0" text-anchor="start" font-weight="normal" fill="#111" >10<tspan font-size="4.8" dy="-3.0" dx="0.4">5</tspan></text>
<text x="114.50" y="579.60" font-size="7.0" text-anchor="start" font-weight="normal" fill="#111" >0</text>
<text x="118.10" y="579.60" font-size="7.0" text-anchor="start" font-weight="normal" fill="#111" >10<tspan font-size="4.8" dy="-3.0" dx="0.4">2</tspan></text>
<text x="133.60" y="579.60" font-size="7.0" text-anchor="start" font-weight="normal" fill="#111" >10<tspan font-size="4.8" dy="-3.0" dx="0.4">3</tspan></text>
<text x="148.30" y="579.60" font-size="7.0" text-anchor="start" font-weight="normal" fill="#111" >10<tspan font-size="4.8" dy="-3.0" dx="0.4">4</tspan></text>
<text x="162.60" y="579.60" font-size="7.0" text-anchor="start" font-weight="normal" fill="#111" >10<tspan font-size="4.8" dy="-3.0" dx="0.4">5</tspan></text>
<text x="40.60" y="588.00" font-size="7.3" text-anchor="start" font-weight="normal" fill="#111" textLength="10.20" lengthAdjust="spacingAndGlyphs" >Fas</text>
<line x1="53.80" y1="585.30" x2="165.50" y2="585.30" stroke="#333" stroke-width="1.15" />
<path d="M168.5 585.30 L164.7 583.00 L164.7 587.60Z" fill="#111"/>
<text x="0.00" y="0.00" font-size="7.0" text-anchor="middle" font-weight="bold" fill="#111" textLength="12.90" lengthAdjust="spacingAndGlyphs" transform="translate(11.30,442.15) rotate(-90)">PD-1</text>
<text x="0.00" y="0.00" font-size="7.0" text-anchor="middle" font-weight="bold" fill="#111" textLength="9.40" lengthAdjust="spacingAndGlyphs" transform="translate(11.10,539.80) rotate(-90)">GL7</text>
<text x="278.20" y="15.20" font-size="9.2" text-anchor="start" font-weight="normal" fill="#111" textLength="166.40" lengthAdjust="spacingAndGlyphs" >Gate on H2K<tspan font-size="6.3" dy="-3.0">b+</tspan><tspan dy="3.0">CD4</tspan><tspan font-size="6.3" dy="-3.0">+</tspan><tspan dy="3.0"> or CD8</tspan><tspan font-size="6.3" dy="-3.0">+</tspan><tspan dy="3.0"> T in spleen</tspan></text>
<line x1="229.00" y1="18.60" x2="495.70" y2="18.60" stroke="#333" stroke-width="1" />
<rect x="230.80" y="66.40" width="11.40" height="69.30" fill="#E2899B" stroke="none" stroke-width="1" />
<rect x="251.90" y="99.80" width="11.10" height="35.90" fill="#84A6C6" stroke="none" stroke-width="1" />
<line x1="236.50" y1="56.40" x2="236.50" y2="66.40" stroke="#222" stroke-width="1" />
<line x1="233.10" y1="56.40" x2="239.90" y2="56.40" stroke="#222" stroke-width="1" />
<line x1="257.45" y1="93.00" x2="257.45" y2="99.80" stroke="#222" stroke-width="1" />
<line x1="254.05" y1="93.00" x2="260.85" y2="93.00" stroke="#222" stroke-width="1" />
<rect x="233.80" y="37.50" width="5.00" height="5.00" fill="#C8102E" stroke="none" stroke-width="1" />
<rect x="230.80" y="65.80" width="5.00" height="5.00" fill="#C8102E" stroke="none" stroke-width="1" />
<rect x="237.30" y="71.20" width="5.00" height="5.00" fill="#C8102E" stroke="none" stroke-width="1" />
<rect x="233.70" y="79.20" width="5.00" height="5.00" fill="#C8102E" stroke="none" stroke-width="1" />
<path d="M257.50 84.78L260.15 89.82L254.85 89.82Z" fill="#134D8C"/>
<path d="M254.40 96.48L257.05 101.52L251.75 101.52Z" fill="#134D8C"/>
<path d="M261.20 97.48L263.85 102.52L258.55 102.52Z" fill="#134D8C"/>
<path d="M257.30 108.98L259.95 114.02L254.65 114.02Z" fill="#134D8C"/>
<line x1="218.90" y1="27.30" x2="218.90" y2="136.40" stroke="#1a1a1a" stroke-width="1.4" />
<line x1="218.20" y1="135.70" x2="269.80" y2="135.70" stroke="#1a1a1a" stroke-width="1.4" />
<line x1="216.10" y1="135.70" x2="218.90" y2="135.70" stroke="#1a1a1a" stroke-width="1" />
<text x="213.60" y="138.65" font-size="8.2" text-anchor="end" font-weight="normal" fill="#111" textLength="3.85" lengthAdjust="spacingAndGlyphs" >0</text>
<line x1="216.10" y1="109.70" x2="218.90" y2="109.70" stroke="#1a1a1a" stroke-width="1" />
<text x="213.60" y="112.65" font-size="8.2" text-anchor="end" font-weight="normal" fill="#111" textLength="3.85" lengthAdjust="spacingAndGlyphs" >5</text>
<line x1="216.10" y1="83.70" x2="218.90" y2="83.70" stroke="#1a1a1a" stroke-width="1" />
<text x="213.60" y="86.65" font-size="8.2" text-anchor="end" font-weight="normal" fill="#111" textLength="7.70" lengthAdjust="spacingAndGlyphs" >10</text>
<line x1="216.10" y1="57.70" x2="218.90" y2="57.70" stroke="#1a1a1a" stroke-width="1" />
<text x="213.60" y="60.65" font-size="8.2" text-anchor="end" font-weight="normal" fill="#111" textLength="7.70" lengthAdjust="spacingAndGlyphs" >15</text>
<line x1="216.10" y1="31.70" x2="218.90" y2="31.70" stroke="#1a1a1a" stroke-width="1" />
<text x="213.60" y="34.65" font-size="8.2" text-anchor="end" font-weight="normal" fill="#111" textLength="7.70" lengthAdjust="spacingAndGlyphs" >20</text>
<line x1="247.00" y1="135.70" x2="247.00" y2="138.20" stroke="#1a1a1a" stroke-width="1" />
<text x="247.00" y="148.00" font-size="8.3" text-anchor="middle" font-weight="normal" fill="#111" >CD4</text>
<circle cx="257.30" cy="70.30" r="1.15" fill="#111"/>
<text x="0.00" y="0.00" font-size="10.0" text-anchor="middle" font-weight="normal" fill="#111" textLength="30.20" lengthAdjust="spacingAndGlyphs" transform="translate(199.20,84.10) rotate(-90)">% CD45.2<tspan font-size="5" dy="-2.6">+</tspan><tspan dy="2.6">​</tspan></text>
<rect x="305.20" y="76.70" width="11.50" height="59.00" fill="#E2899B" stroke="none" stroke-width="1" />
<rect x="326.30" y="100.80" width="11.40" height="34.90" fill="#84A6C6" stroke="none" stroke-width="1" />
<line x1="310.95" y1="62.30" x2="310.95" y2="76.70" stroke="#222" stroke-width="1" />
<line x1="307.55" y1="62.30" x2="314.35" y2="62.30" stroke="#222" stroke-width="1" />
<line x1="332.00" y1="91.20" x2="332.00" y2="100.80" stroke="#222" stroke-width="1" />
<line x1="328.60" y1="91.20" x2="335.40" y2="91.20" stroke="#222" stroke-width="1" />
<rect x="308.50" y="49.80" width="5.00" height="5.00" fill="#C8102E" stroke="none" stroke-width="1" />
<rect x="308.50" y="59.80" width="5.00" height="5.00" fill="#C8102E" stroke="none" stroke-width="1" />
<rect x="308.50" y="72.90" width="5.00" height="5.00" fill="#C8102E" stroke="none" stroke-width="1" />
<rect x="308.50" y="115.10" width="5.00" height="5.00" fill="#C8102E" stroke="none" stroke-width="1" />
<path d="M328.80 85.18L331.45 90.22L326.15 90.22Z" fill="#134D8C"/>
<path d="M335.40 85.18L338.05 90.22L332.75 90.22Z" fill="#134D8C"/>
<path d="M331.90 101.08L334.55 106.12L329.25 106.12Z" fill="#134D8C"/>
<path d="M331.90 121.68L334.55 126.72L329.25 126.72Z" fill="#134D8C"/>
<line x1="293.50" y1="27.50" x2="293.50" y2="136.40" stroke="#1a1a1a" stroke-width="1.4" />
<line x1="292.80" y1="135.70" x2="344.60" y2="135.70" stroke="#1a1a1a" stroke-width="1.4" />
<line x1="290.70" y1="135.70" x2="293.50" y2="135.70" stroke="#1a1a1a" stroke-width="1" />
<text x="288.20" y="138.65" font-size="8.2" text-anchor="end" font-weight="normal" fill="#111" textLength="3.85" lengthAdjust="spacingAndGlyphs" >0</text>
<line x1="290.70" y1="114.90" x2="293.50" y2="114.90" stroke="#1a1a1a" stroke-width="1" />
<text x="288.20" y="117.85" font-size="8.2" text-anchor="end" font-weight="normal" fill="#111" textLength="7.70" lengthAdjust="spacingAndGlyphs" >10</text>
<line x1="290.70" y1="94.10" x2="293.50" y2="94.10" stroke="#1a1a1a" stroke-width="1" />
<text x="288.20" y="97.05" font-size="8.2" text-anchor="end" font-weight="normal" fill="#111" textLength="7.70" lengthAdjust="spacingAndGlyphs" >20</text>
<line x1="290.70" y1="73.30" x2="293.50" y2="73.30" stroke="#1a1a1a" stroke-width="1" />
<text x="288.20" y="76.25" font-size="8.2" text-anchor="end" font-weight="normal" fill="#111" textLength="7.70" lengthAdjust="spacingAndGlyphs" >30</text>
<line x1="290.70" y1="52.50" x2="293.50" y2="52.50" stroke="#1a1a1a" stroke-width="1" />
<text x="288.20" y="55.45" font-size="8.2" text-anchor="end" font-weight="normal" fill="#111" textLength="7.70" lengthAdjust="spacingAndGlyphs" >40</text>
<line x1="290.70" y1="31.70" x2="293.50" y2="31.70" stroke="#1a1a1a" stroke-width="1" />
<text x="288.20" y="34.65" font-size="8.2" text-anchor="end" font-weight="normal" fill="#111" textLength="7.70" lengthAdjust="spacingAndGlyphs" >50</text>
<line x1="321.50" y1="135.70" x2="321.50" y2="138.20" stroke="#1a1a1a" stroke-width="1" />
<text x="321.50" y="148.20" font-size="8.3" text-anchor="middle" font-weight="normal" fill="#111" >CD8</text>
<rect x="397.70" y="92.10" width="11.00" height="43.60" fill="#E2899B" stroke="none" stroke-width="1" />
<rect x="418.80" y="117.50" width="11.00" height="18.20" fill="#84A6C6" stroke="none" stroke-width="1" />
<line x1="403.20" y1="80.60" x2="403.20" y2="92.10" stroke="#222" stroke-width="1" />
<line x1="399.80" y1="80.60" x2="406.60" y2="80.60" stroke="#222" stroke-width="1" />
<line x1="424.30" y1="112.70" x2="424.30" y2="117.50" stroke="#222" stroke-width="1" />
<line x1="420.90" y1="112.70" x2="427.70" y2="112.70" stroke="#222" stroke-width="1" />
<rect x="400.80" y="35.40" width="5.00" height="5.00" fill="#C8102E" stroke="none" stroke-width="1" />
<rect x="404.80" y="79.00" width="5.00" height="5.00" fill="#C8102E" stroke="none" stroke-width="1" />
<rect x="397.10" y="82.90" width="5.00" height="5.00" fill="#C8102E" stroke="none" stroke-width="1" />
<rect x="404.20" y="95.40" width="5.00" height="5.00" fill="#C8102E" stroke="none" stroke-width="1" />
<rect x="397.10" y="98.70" width="5.00" height="5.00" fill="#C8102E" stroke="none" stroke-width="1" />
<rect x="400.80" y="107.30" width="5.00" height="5.00" fill="#C8102E" stroke="none" stroke-width="1" />
<rect x="400.80" y="121.20" width="5.00" height="5.00" fill="#C8102E" stroke="none" stroke-width="1" />
<path d="M424.60 102.48L427.25 107.52L421.95 107.52Z" fill="#134D8C"/>
<path d="M421.20 105.78L423.85 110.82L418.55 110.82Z" fill="#134D8C"/>
<path d="M427.90 108.98L430.55 114.02L425.25 114.02Z" fill="#134D8C"/>
<path d="M421.20 116.68L423.85 121.72L418.55 121.72Z" fill="#134D8C"/>
<path d="M424.60 122.48L427.25 127.52L421.95 127.52Z" fill="#134D8C"/>
<path d="M427.90 122.48L430.55 127.52L425.25 127.52Z" fill="#134D8C"/>
<path d="M421.20 125.98L423.85 131.02L418.55 131.02Z" fill="#134D8C"/>
<line x1="385.60" y1="27.70" x2="385.60" y2="136.40" stroke="#1a1a1a" stroke-width="1.4" />
<line x1="384.90" y1="135.70" x2="437.00" y2="135.70" stroke="#1a1a1a" stroke-width="1.4" />
<line x1="382.80" y1="135.70" x2="385.60" y2="135.70" stroke="#1a1a1a" stroke-width="1" />
<text x="380.30" y="138.65" font-size="8.2" text-anchor="end" font-weight="normal" fill="#111" textLength="3.85" lengthAdjust="spacingAndGlyphs" >0</text>
<line x1="382.80" y1="101.00" x2="385.60" y2="101.00" stroke="#1a1a1a" stroke-width="1" />
<text x="380.30" y="103.95" font-size="8.2" text-anchor="end" font-weight="normal" fill="#111" textLength="7.70" lengthAdjust="spacingAndGlyphs" >40</text>
<line x1="382.80" y1="66.30" x2="385.60" y2="66.30" stroke="#1a1a1a" stroke-width="1" />
<text x="380.30" y="69.25" font-size="8.2" text-anchor="end" font-weight="normal" fill="#111" textLength="7.70" lengthAdjust="spacingAndGlyphs" >80</text>
<line x1="382.80" y1="31.60" x2="385.60" y2="31.60" stroke="#1a1a1a" stroke-width="1" />
<text x="380.30" y="34.55" font-size="8.2" text-anchor="end" font-weight="normal" fill="#111" textLength="11.55" lengthAdjust="spacingAndGlyphs" >120</text>
<line x1="414.00" y1="135.70" x2="414.00" y2="138.20" stroke="#1a1a1a" stroke-width="1" />
<text x="414.00" y="148.40" font-size="8.3" text-anchor="middle" font-weight="normal" fill="#111" >CD4</text>
<circle cx="424.40" cy="78.00" r="1.15" fill="#111"/>
<text x="0.00" y="0.00" font-size="10.0" text-anchor="middle" font-weight="normal" fill="#111" textLength="51.20" lengthAdjust="spacingAndGlyphs" transform="translate(365.20,83.40) rotate(-90)"># CD45.2<tspan font-size="5" dy="-2.6">+</tspan><tspan dy="2.6">​</tspan> (×10<tspan font-size="5" dy="-2.6">4</tspan><tspan dy="2.6">​</tspan>)</text>
<rect x="474.20" y="97.30" width="11.20" height="38.40" fill="#E2899B" stroke="none" stroke-width="1" />
<rect x="495.40" y="121.70" width="11.10" height="14.00" fill="#84A6C6" stroke="none" stroke-width="1" />
<line x1="479.80" y1="85.80" x2="479.80" y2="97.30" stroke="#222" stroke-width="1" />
<line x1="476.40" y1="85.80" x2="483.20" y2="85.80" stroke="#222" stroke-width="1" />
<line x1="500.95" y1="117.50" x2="500.95" y2="121.70" stroke="#222" stroke-width="1" />
<line x1="497.55" y1="117.50" x2="504.35" y2="117.50" stroke="#222" stroke-width="1" />
<rect x="477.30" y="41.90" width="5.00" height="5.00" fill="#C8102E" stroke="none" stroke-width="1" />
<rect x="477.30" y="73.70" width="5.00" height="5.00" fill="#C8102E" stroke="none" stroke-width="1" />
<rect x="477.30" y="91.50" width="5.00" height="5.00" fill="#C8102E" stroke="none" stroke-width="1" />
<rect x="473.70" y="107.70" width="5.00" height="5.00" fill="#C8102E" stroke="none" stroke-width="1" />
<rect x="478.10" y="110.50" width="5.00" height="5.00" fill="#C8102E" stroke="none" stroke-width="1" />
<rect x="481.30" y="110.50" width="5.00" height="5.00" fill="#C8102E" stroke="none" stroke-width="1" />
<rect x="477.10" y="121.70" width="5.00" height="5.00" fill="#C8102E" stroke="none" stroke-width="1" />
<path d="M500.80 99.98L503.45 105.02L498.15 105.02Z" fill="#134D8C"/>
<path d="M498.50 119.48L501.15 124.52L495.85 124.52Z" fill="#134D8C"/>
<path d="M502.50 119.48L505.15 124.52L499.85 124.52Z" fill="#134D8C"/>
<path d="M500.50 122.98L503.15 128.02L497.85 128.02Z" fill="#134D8C"/>
<path d="M497.50 123.48L500.15 128.52L494.85 128.52Z" fill="#134D8C"/>
<path d="M503.50 123.48L506.15 128.52L500.85 128.52Z" fill="#134D8C"/>
<path d="M504.20 127.88L506.85 132.92L501.55 132.92Z" fill="#134D8C"/>
<line x1="461.90" y1="27.70" x2="461.90" y2="136.40" stroke="#1a1a1a" stroke-width="1.4" />
<line x1="461.20" y1="135.70" x2="513.70" y2="135.70" stroke="#1a1a1a" stroke-width="1.4" />
<line x1="459.10" y1="135.70" x2="461.90" y2="135.70" stroke="#1a1a1a" stroke-width="1" />
<text x="456.60" y="138.65" font-size="8.2" text-anchor="end" font-weight="normal" fill="#111" textLength="3.85" lengthAdjust="spacingAndGlyphs" >0</text>
<line x1="459.10" y1="114.90" x2="461.90" y2="114.90" stroke="#1a1a1a" stroke-width="1" />
<text x="456.60" y="117.85" font-size="8.2" text-anchor="end" font-weight="normal" fill="#111" textLength="7.70" lengthAdjust="spacingAndGlyphs" >20</text>
<line x1="459.10" y1="94.10" x2="461.90" y2="94.10" stroke="#1a1a1a" stroke-width="1" />
<text x="456.60" y="97.05" font-size="8.2" text-anchor="end" font-weight="normal" fill="#111" textLength="7.70" lengthAdjust="spacingAndGlyphs" >40</text>
<line x1="459.10" y1="73.30" x2="461.90" y2="73.30" stroke="#1a1a1a" stroke-width="1" />
<text x="456.60" y="76.25" font-size="8.2" text-anchor="end" font-weight="normal" fill="#111" textLength="7.70" lengthAdjust="spacingAndGlyphs" >60</text>
<line x1="459.10" y1="52.50" x2="461.90" y2="52.50" stroke="#1a1a1a" stroke-width="1" />
<text x="456.60" y="55.45" font-size="8.2" text-anchor="end" font-weight="normal" fill="#111" textLength="7.70" lengthAdjust="spacingAndGlyphs" >80</text>
<line x1="459.10" y1="31.70" x2="461.90" y2="31.70" stroke="#1a1a1a" stroke-width="1" />
<text x="456.60" y="34.65" font-size="8.2" text-anchor="end" font-weight="normal" fill="#111" textLength="11.55" lengthAdjust="spacingAndGlyphs" >100</text>
<line x1="490.20" y1="135.70" x2="490.20" y2="138.20" stroke="#1a1a1a" stroke-width="1" />
<text x="490.20" y="148.40" font-size="8.3" text-anchor="middle" font-weight="normal" fill="#111" >CD8</text>
<circle cx="500.80" cy="72.30" r="1.15" fill="#111"/>
<text x="279.30" y="210.20" font-size="9.2" text-anchor="start" font-weight="normal" fill="#111" textLength="168.50" lengthAdjust="spacingAndGlyphs" >Gate on H2K<tspan font-size="6.3" dy="-3.0">b+</tspan><tspan dy="3.0">CD4</tspan><tspan font-size="6.3" dy="-3.0">+</tspan><tspan dy="3.0"> or CD8</tspan><tspan font-size="6.3" dy="-3.0">+</tspan><tspan dy="3.0"> T in thymus</tspan></text>
<line x1="230.40" y1="214.00" x2="500.80" y2="214.00" stroke="#333" stroke-width="1" />
<rect x="230.00" y="265.20" width="11.00" height="58.10" fill="#E2899B" stroke="none" stroke-width="1" />
<rect x="251.00" y="321.30" width="9.00" height="2.00" fill="#84A6C6" stroke="none" stroke-width="1" />
<line x1="235.50" y1="254.60" x2="235.50" y2="265.20" stroke="#222" stroke-width="1" />
<line x1="232.10" y1="254.60" x2="238.90" y2="254.60" stroke="#222" stroke-width="1" />
<line x1="255.50" y1="319.50" x2="255.50" y2="321.30" stroke="#222" stroke-width="1" />
<line x1="252.10" y1="319.50" x2="258.90" y2="319.50" stroke="#222" stroke-width="1" />
<rect x="232.90" y="231.00" width="5.00" height="5.00" fill="#C8102E" stroke="none" stroke-width="1" />
<rect x="232.90" y="250.20" width="5.00" height="5.00" fill="#C8102E" stroke="none" stroke-width="1" />
<rect x="232.90" y="261.30" width="5.00" height="5.00" fill="#C8102E" stroke="none" stroke-width="1" />
<rect x="232.90" y="280.00" width="5.00" height="5.00" fill="#C8102E" stroke="none" stroke-width="1" />
<rect x="232.90" y="286.30" width="5.00" height="5.00" fill="#C8102E" stroke="none" stroke-width="1" />
<path d="M253.50 316.48L256.15 321.52L250.85 321.52Z" fill="#134D8C"/>
<path d="M256.50 316.48L259.15 321.52L253.85 321.52Z" fill="#134D8C"/>
<path d="M252.00 319.78L254.65 324.82L249.35 324.82Z" fill="#134D8C"/>
<path d="M255.40 319.78L258.05 324.82L252.75 324.82Z" fill="#134D8C"/>
<path d="M258.80 319.78L261.45 324.82L256.15 324.82Z" fill="#134D8C"/>
<line x1="218.50" y1="220.40" x2="218.50" y2="324.00" stroke="#1a1a1a" stroke-width="1.4" />
<line x1="217.80" y1="323.30" x2="267.90" y2="323.30" stroke="#1a1a1a" stroke-width="1.4" />
<line x1="215.70" y1="323.30" x2="218.50" y2="323.30" stroke="#1a1a1a" stroke-width="1" />
<text x="213.20" y="326.25" font-size="8.2" text-anchor="end" font-weight="normal" fill="#111" textLength="3.85" lengthAdjust="spacingAndGlyphs" >0</text>
<line x1="215.70" y1="303.50" x2="218.50" y2="303.50" stroke="#1a1a1a" stroke-width="1" />
<text x="213.20" y="306.45" font-size="8.2" text-anchor="end" font-weight="normal" fill="#111" textLength="3.85" lengthAdjust="spacingAndGlyphs" >1</text>
<line x1="215.70" y1="283.70" x2="218.50" y2="283.70" stroke="#1a1a1a" stroke-width="1" />
<text x="213.20" y="286.65" font-size="8.2" text-anchor="end" font-weight="normal" fill="#111" textLength="3.85" lengthAdjust="spacingAndGlyphs" >2</text>
<line x1="215.70" y1="263.90" x2="218.50" y2="263.90" stroke="#1a1a1a" stroke-width="1" />
<text x="213.20" y="266.85" font-size="8.2" text-anchor="end" font-weight="normal" fill="#111" textLength="3.85" lengthAdjust="spacingAndGlyphs" >3</text>
<line x1="215.70" y1="244.10" x2="218.50" y2="244.10" stroke="#1a1a1a" stroke-width="1" />
<text x="213.20" y="247.05" font-size="8.2" text-anchor="end" font-weight="normal" fill="#111" textLength="3.85" lengthAdjust="spacingAndGlyphs" >4</text>
<line x1="215.70" y1="224.30" x2="218.50" y2="224.30" stroke="#1a1a1a" stroke-width="1" />
<text x="213.20" y="227.25" font-size="8.2" text-anchor="end" font-weight="normal" fill="#111" textLength="3.85" lengthAdjust="spacingAndGlyphs" >5</text>
<line x1="245.80" y1="323.30" x2="245.80" y2="325.80" stroke="#1a1a1a" stroke-width="1" />
<text x="245.60" y="335.30" font-size="8.3" text-anchor="middle" font-weight="normal" fill="#111" >CD4</text>
<circle cx="252.00" cy="296.40" r="1.15" fill="#111"/>
<circle cx="255.40" cy="296.40" r="1.15" fill="#111"/>
<circle cx="258.80" cy="296.40" r="1.15" fill="#111"/>
<text x="0.00" y="0.00" font-size="10.0" text-anchor="middle" font-weight="normal" fill="#111" textLength="30.70" lengthAdjust="spacingAndGlyphs" transform="translate(202.00,273.75) rotate(-90)">% CD45.2<tspan font-size="5" dy="-2.6">+</tspan><tspan dy="2.6">​</tspan></text>
<rect x="302.30" y="265.20" width="11.40" height="58.10" fill="#E2899B" stroke="none" stroke-width="1" />
<rect x="322.30" y="313.80" width="11.20" height="9.50" fill="#84A6C6" stroke="none" stroke-width="1" />
<line x1="308.00" y1="251.30" x2="308.00" y2="265.20" stroke="#222" stroke-width="1" />
<line x1="304.60" y1="251.30" x2="311.40" y2="251.30" stroke="#222" stroke-width="1" />
<rect x="305.40" y="233.50" width="5.00" height="5.00" fill="#C8102E" stroke="none" stroke-width="1" />
<rect x="308.80" y="246.50" width="5.00" height="5.00" fill="#C8102E" stroke="none" stroke-width="1" />
<rect x="301.70" y="251.30" width="5.00" height="5.00" fill="#C8102E" stroke="none" stroke-width="1" />
<rect x="305.40" y="272.90" width="5.00" height="5.00" fill="#C8102E" stroke="none" stroke-width="1" />
<rect x="305.40" y="307.50" width="5.00" height="5.00" fill="#C8102E" stroke="none" stroke-width="1" />
<path d="M325.80 304.78L328.45 309.82L323.15 309.82Z" fill="#134D8C"/>
<path d="M329.20 304.78L331.85 309.82L326.55 309.82Z" fill="#134D8C"/>
<path d="M327.30 313.98L329.95 319.02L324.65 319.02Z" fill="#134D8C"/>
<path d="M330.60 313.98L333.25 319.02L327.95 319.02Z" fill="#134D8C"/>
<path d="M324.40 319.48L327.05 324.52L321.75 324.52Z" fill="#134D8C"/>
<line x1="290.80" y1="220.60" x2="290.80" y2="324.00" stroke="#1a1a1a" stroke-width="1.4" />
<line x1="290.10" y1="323.30" x2="340.80" y2="323.30" stroke="#1a1a1a" stroke-width="1.4" />
<line x1="288.00" y1="323.30" x2="290.80" y2="323.30" stroke="#1a1a1a" stroke-width="1" />
<text x="285.50" y="326.25" font-size="8.2" text-anchor="end" font-weight="normal" fill="#111" textLength="3.85" lengthAdjust="spacingAndGlyphs" >0</text>
<line x1="288.00" y1="309.20" x2="290.80" y2="309.20" stroke="#1a1a1a" stroke-width="1" />
<text x="285.50" y="312.15" font-size="8.2" text-anchor="end" font-weight="normal" fill="#111" textLength="3.85" lengthAdjust="spacingAndGlyphs" >2</text>
<line x1="288.00" y1="295.10" x2="290.80" y2="295.10" stroke="#1a1a1a" stroke-width="1" />
<text x="285.50" y="298.05" font-size="8.2" text-anchor="end" font-weight="normal" fill="#111" textLength="3.85" lengthAdjust="spacingAndGlyphs" >4</text>
<line x1="288.00" y1="281.00" x2="290.80" y2="281.00" stroke="#1a1a1a" stroke-width="1" />
<text x="285.50" y="283.95" font-size="8.2" text-anchor="end" font-weight="normal" fill="#111" textLength="3.85" lengthAdjust="spacingAndGlyphs" >6</text>
<line x1="288.00" y1="266.90" x2="290.80" y2="266.90" stroke="#1a1a1a" stroke-width="1" />
<text x="285.50" y="269.85" font-size="8.2" text-anchor="end" font-weight="normal" fill="#111" textLength="3.85" lengthAdjust="spacingAndGlyphs" >8</text>
<line x1="288.00" y1="252.80" x2="290.80" y2="252.80" stroke="#1a1a1a" stroke-width="1" />
<text x="285.50" y="255.75" font-size="8.2" text-anchor="end" font-weight="normal" fill="#111" textLength="7.70" lengthAdjust="spacingAndGlyphs" >10</text>
<line x1="288.00" y1="238.70" x2="290.80" y2="238.70" stroke="#1a1a1a" stroke-width="1" />
<text x="285.50" y="241.65" font-size="8.2" text-anchor="end" font-weight="normal" fill="#111" textLength="7.70" lengthAdjust="spacingAndGlyphs" >12</text>
<line x1="288.00" y1="224.60" x2="290.80" y2="224.60" stroke="#1a1a1a" stroke-width="1" />
<text x="285.50" y="227.55" font-size="8.2" text-anchor="end" font-weight="normal" fill="#111" textLength="7.70" lengthAdjust="spacingAndGlyphs" >14</text>
<line x1="317.70" y1="323.30" x2="317.70" y2="325.80" stroke="#1a1a1a" stroke-width="1" />
<text x="317.70" y="335.00" font-size="8.3" text-anchor="middle" font-weight="normal" fill="#111" >CD8</text>
<circle cx="326.00" cy="290.80" r="1.15" fill="#111"/>
<circle cx="329.40" cy="290.80" r="1.15" fill="#111"/>
<rect x="398.00" y="282.10" width="11.60" height="41.20" fill="#E2899B" stroke="none" stroke-width="1" />
<rect x="418.30" y="310.40" width="11.10" height="12.90" fill="#84A6C6" stroke="none" stroke-width="1" />
<line x1="403.80" y1="273.00" x2="403.80" y2="282.10" stroke="#222" stroke-width="1" />
<line x1="400.40" y1="273.00" x2="407.20" y2="273.00" stroke="#222" stroke-width="1" />
<line x1="423.85" y1="305.60" x2="423.85" y2="310.40" stroke="#222" stroke-width="1" />
<line x1="420.45" y1="305.60" x2="427.25" y2="305.60" stroke="#222" stroke-width="1" />
<rect x="399.80" y="251.30" width="5.00" height="5.00" fill="#C8102E" stroke="none" stroke-width="1" />
<rect x="403.30" y="252.10" width="5.00" height="5.00" fill="#C8102E" stroke="none" stroke-width="1" />
<rect x="397.90" y="272.90" width="5.00" height="5.00" fill="#C8102E" stroke="none" stroke-width="1" />
<rect x="401.70" y="271.90" width="5.00" height="5.00" fill="#C8102E" stroke="none" stroke-width="1" />
<rect x="405.20" y="272.90" width="5.00" height="5.00" fill="#C8102E" stroke="none" stroke-width="1" />
<rect x="401.30" y="279.20" width="5.00" height="5.00" fill="#C8102E" stroke="none" stroke-width="1" />
<rect x="399.50" y="295.50" width="5.00" height="5.00" fill="#C8102E" stroke="none" stroke-width="1" />
<rect x="403.70" y="300.80" width="5.00" height="5.00" fill="#C8102E" stroke="none" stroke-width="1" />
<rect x="401.30" y="313.30" width="5.00" height="5.00" fill="#C8102E" stroke="none" stroke-width="1" />
<path d="M422.70 290.58L425.35 295.62L420.05 295.62Z" fill="#134D8C"/>
<path d="M423.70 298.28L426.35 303.32L421.05 303.32Z" fill="#134D8C"/>
<path d="M424.00 305.98L426.65 311.02L421.35 311.02Z" fill="#134D8C"/>
<path d="M420.80 313.68L423.45 318.72L418.15 318.72Z" fill="#134D8C"/>
<path d="M422.70 314.48L425.35 319.52L420.05 319.52Z" fill="#134D8C"/>
<path d="M427.00 317.88L429.65 322.92L424.35 322.92Z" fill="#134D8C"/>
<path d="M424.00 319.48L426.65 324.52L421.35 324.52Z" fill="#134D8C"/>
<path d="M420.20 320.98L422.85 326.02L417.55 326.02Z" fill="#134D8C"/>
<line x1="387.50" y1="223.00" x2="387.50" y2="324.00" stroke="#1a1a1a" stroke-width="1.4" />
<line x1="386.80" y1="323.30" x2="436.50" y2="323.30" stroke="#1a1a1a" stroke-width="1.4" />
<line x1="384.70" y1="323.30" x2="387.50" y2="323.30" stroke="#1a1a1a" stroke-width="1" />
<text x="382.20" y="326.25" font-size="8.2" text-anchor="end" font-weight="normal" fill="#111" textLength="3.85" lengthAdjust="spacingAndGlyphs" >0</text>
<line x1="384.70" y1="291.30" x2="387.50" y2="291.30" stroke="#1a1a1a" stroke-width="1" />
<text x="382.20" y="294.25" font-size="8.2" text-anchor="end" font-weight="normal" fill="#111" textLength="3.85" lengthAdjust="spacingAndGlyphs" >2</text>
<line x1="384.70" y1="259.30" x2="387.50" y2="259.30" stroke="#1a1a1a" stroke-width="1" />
<text x="382.20" y="262.25" font-size="8.2" text-anchor="end" font-weight="normal" fill="#111" textLength="3.85" lengthAdjust="spacingAndGlyphs" >4</text>
<line x1="384.70" y1="227.30" x2="387.50" y2="227.30" stroke="#1a1a1a" stroke-width="1" />
<text x="382.20" y="230.25" font-size="8.2" text-anchor="end" font-weight="normal" fill="#111" textLength="3.85" lengthAdjust="spacingAndGlyphs" >6</text>
<line x1="413.50" y1="323.30" x2="413.50" y2="325.80" stroke="#1a1a1a" stroke-width="1" />
<text x="413.50" y="335.00" font-size="8.3" text-anchor="middle" font-weight="normal" fill="#111" >CD4</text>
<circle cx="422.00" cy="261.00" r="1.15" fill="#111"/>
<circle cx="425.40" cy="261.00" r="1.15" fill="#111"/>
<text x="0.00" y="0.00" font-size="10.0" text-anchor="middle" font-weight="normal" fill="#111" textLength="51.20" lengthAdjust="spacingAndGlyphs" transform="translate(371.50,273.40) rotate(-90)"># CD45.2<tspan font-size="5" dy="-2.6">+</tspan><tspan dy="2.6">​</tspan> (×10<tspan font-size="5" dy="-2.6">5</tspan><tspan dy="2.6">​</tspan>)</text>
<rect x="467.10" y="310.00" width="11.60" height="13.30" fill="#E2899B" stroke="none" stroke-width="1" />
<rect x="487.30" y="300.40" width="11.50" height="22.90" fill="#84A6C6" stroke="none" stroke-width="1" />
<line x1="472.90" y1="308.50" x2="472.90" y2="310.00" stroke="#222" stroke-width="1" />
<line x1="469.50" y1="308.50" x2="476.30" y2="308.50" stroke="#222" stroke-width="1" />
<line x1="493.05" y1="291.20" x2="493.05" y2="300.40" stroke="#222" stroke-width="1" />
<line x1="489.65" y1="291.20" x2="496.45" y2="291.20" stroke="#222" stroke-width="1" />
<rect x="471.30" y="298.30" width="5.00" height="5.00" fill="#C8102E" stroke="none" stroke-width="1" />
<rect x="467.10" y="302.10" width="5.00" height="5.00" fill="#C8102E" stroke="none" stroke-width="1" />
<rect x="474.20" y="306.90" width="5.00" height="5.00" fill="#C8102E" stroke="none" stroke-width="1" />
<rect x="467.10" y="310.20" width="5.00" height="5.00" fill="#C8102E" stroke="none" stroke-width="1" />
<rect x="471.70" y="312.10" width="5.00" height="5.00" fill="#C8102E" stroke="none" stroke-width="1" />
<rect x="467.90" y="314.20" width="5.00" height="5.00" fill="#C8102E" stroke="none" stroke-width="1" />
<rect x="473.30" y="316.50" width="5.00" height="5.00" fill="#C8102E" stroke="none" stroke-width="1" />
<rect x="467.10" y="319.00" width="5.00" height="5.00" fill="#C8102E" stroke="none" stroke-width="1" />
<path d="M492.70 244.98L495.35 250.02L490.05 250.02Z" fill="#134D8C"/>
<path d="M490.80 281.98L493.45 287.02L488.15 287.02Z" fill="#134D8C"/>
<path d="M494.00 281.98L496.65 287.02L491.35 287.02Z" fill="#134D8C"/>
<path d="M490.20 317.48L492.85 322.52L487.55 322.52Z" fill="#134D8C"/>
<path d="M493.00 317.48L495.65 322.52L490.35 322.52Z" fill="#134D8C"/>
<path d="M496.00 320.38L498.65 325.42L493.35 325.42Z" fill="#134D8C"/>
<line x1="456.50" y1="223.50" x2="456.50" y2="324.00" stroke="#1a1a1a" stroke-width="1.4" />
<line x1="455.80" y1="323.30" x2="505.60" y2="323.30" stroke="#1a1a1a" stroke-width="1.4" />
<line x1="453.70" y1="323.30" x2="456.50" y2="323.30" stroke="#1a1a1a" stroke-width="1" />
<text x="451.20" y="326.25" font-size="8.2" text-anchor="end" font-weight="normal" fill="#111" textLength="3.85" lengthAdjust="spacingAndGlyphs" >0</text>
<line x1="453.70" y1="299.18" x2="456.50" y2="299.18" stroke="#1a1a1a" stroke-width="1" />
<text x="451.20" y="302.13" font-size="8.2" text-anchor="end" font-weight="normal" fill="#111" textLength="3.85" lengthAdjust="spacingAndGlyphs" >4</text>
<line x1="453.70" y1="275.06" x2="456.50" y2="275.06" stroke="#1a1a1a" stroke-width="1" />
<text x="451.20" y="278.01" font-size="8.2" text-anchor="end" font-weight="normal" fill="#111" textLength="3.85" lengthAdjust="spacingAndGlyphs" >8</text>
<line x1="453.70" y1="250.94" x2="456.50" y2="250.94" stroke="#1a1a1a" stroke-width="1" />
<text x="451.20" y="253.89" font-size="8.2" text-anchor="end" font-weight="normal" fill="#111" textLength="7.70" lengthAdjust="spacingAndGlyphs" >12</text>
<line x1="453.70" y1="226.82" x2="456.50" y2="226.82" stroke="#1a1a1a" stroke-width="1" />
<text x="451.20" y="229.77" font-size="8.2" text-anchor="end" font-weight="normal" fill="#111" textLength="7.70" lengthAdjust="spacingAndGlyphs" >16</text>
<line x1="482.50" y1="323.30" x2="482.50" y2="325.80" stroke="#1a1a1a" stroke-width="1" />
<text x="482.50" y="334.50" font-size="8.3" text-anchor="middle" font-weight="normal" fill="#111" >CD8</text>
<text x="222.40" y="404.70" font-size="9.2" text-anchor="start" font-weight="normal" fill="#111" textLength="132.20" lengthAdjust="spacingAndGlyphs" >Gate on H2K<tspan font-size="6.3" dy="-3.0">b+</tspan><tspan dy="3.0">CD4</tspan><tspan font-size="6.3" dy="-3.0">+</tspan><tspan dy="3.0">  T in spleen</tspan></text>
<line x1="203.10" y1="408.50" x2="377.10" y2="408.50" stroke="#333" stroke-width="1" />
<rect x="237.10" y="464.20" width="11.00" height="67.20" fill="#E2899B" stroke="none" stroke-width="1" />
<rect x="258.80" y="515.20" width="11.00" height="16.20" fill="#84A6C6" stroke="none" stroke-width="1" />
<rect x="240.00" y="425.00" width="5.00" height="5.00" fill="#C8102E" stroke="none" stroke-width="1" />
<rect x="240.00" y="441.00" width="5.00" height="5.00" fill="#C8102E" stroke="none" stroke-width="1" />
<rect x="236.00" y="473.80" width="5.00" height="5.00" fill="#C8102E" stroke="none" stroke-width="1" />
<rect x="243.80" y="477.30" width="5.00" height="5.00" fill="#C8102E" stroke="none" stroke-width="1" />
<rect x="240.00" y="489.80" width="5.00" height="5.00" fill="#C8102E" stroke="none" stroke-width="1" />
<path d="M264.40 503.68L267.05 508.72L261.75 508.72Z" fill="#134D8C"/>
<path d="M262.10 514.18L264.75 519.22L259.45 519.22Z" fill="#134D8C"/>
<path d="M266.00 514.18L268.65 519.22L263.35 519.22Z" fill="#134D8C"/>
<path d="M268.50 515.18L271.15 520.22L265.85 520.22Z" fill="#134D8C"/>
<path d="M260.20 517.48L262.85 522.52L257.55 522.52Z" fill="#134D8C"/>
<line x1="224.20" y1="417.50" x2="224.20" y2="532.10" stroke="#1a1a1a" stroke-width="1.4" />
<line x1="223.50" y1="531.40" x2="276.50" y2="531.40" stroke="#1a1a1a" stroke-width="1.4" />
<line x1="221.40" y1="531.40" x2="224.20" y2="531.40" stroke="#1a1a1a" stroke-width="1" />
<text x="218.90" y="534.35" font-size="8.2" text-anchor="end" font-weight="normal" fill="#111" textLength="3.85" lengthAdjust="spacingAndGlyphs" >0</text>
<line x1="221.40" y1="509.48" x2="224.20" y2="509.48" stroke="#1a1a1a" stroke-width="1" />
<text x="218.90" y="512.43" font-size="8.2" text-anchor="end" font-weight="normal" fill="#111" textLength="3.85" lengthAdjust="spacingAndGlyphs" >4</text>
<line x1="221.40" y1="487.56" x2="224.20" y2="487.56" stroke="#1a1a1a" stroke-width="1" />
<text x="218.90" y="490.51" font-size="8.2" text-anchor="end" font-weight="normal" fill="#111" textLength="3.85" lengthAdjust="spacingAndGlyphs" >8</text>
<line x1="221.40" y1="465.64" x2="224.20" y2="465.64" stroke="#1a1a1a" stroke-width="1" />
<text x="218.90" y="468.59" font-size="8.2" text-anchor="end" font-weight="normal" fill="#111" textLength="7.70" lengthAdjust="spacingAndGlyphs" >12</text>
<line x1="221.40" y1="443.72" x2="224.20" y2="443.72" stroke="#1a1a1a" stroke-width="1" />
<text x="218.90" y="446.67" font-size="8.2" text-anchor="end" font-weight="normal" fill="#111" textLength="7.70" lengthAdjust="spacingAndGlyphs" >16</text>
<line x1="221.40" y1="421.80" x2="224.20" y2="421.80" stroke="#1a1a1a" stroke-width="1" />
<text x="218.90" y="424.75" font-size="8.2" text-anchor="end" font-weight="normal" fill="#111" textLength="7.70" lengthAdjust="spacingAndGlyphs" >20</text>
<line x1="242.30" y1="531.40" x2="242.30" y2="533.90" stroke="#1a1a1a" stroke-width="1" />
<line x1="264.40" y1="531.40" x2="264.40" y2="533.90" stroke="#1a1a1a" stroke-width="1" />
<circle cx="262.90" cy="488.80" r="1.15" fill="#111"/>
<circle cx="266.30" cy="488.80" r="1.15" fill="#111"/>
<text x="0.00" y="0.00" font-size="10.0" text-anchor="middle" font-weight="normal" fill="#111" textLength="50.00" lengthAdjust="spacingAndGlyphs" transform="translate(202.40,474.40) rotate(-90)">% PD-1<tspan font-size="5" dy="-2.6">hi</tspan><tspan dy="2.6">​</tspan> CXCR5<tspan font-size="5" dy="-2.6">+</tspan><tspan dy="2.6">​</tspan></text>
<rect x="331.90" y="518.70" width="11.60" height="12.70" fill="#E2899B" stroke="none" stroke-width="1" />
<rect x="354.30" y="476.10" width="11.30" height="55.30" fill="#84A6C6" stroke="none" stroke-width="1" />
<line x1="359.95" y1="459.80" x2="359.95" y2="476.10" stroke="#222" stroke-width="1" />
<line x1="356.55" y1="459.80" x2="363.35" y2="459.80" stroke="#222" stroke-width="1" />
<rect x="334.80" y="506.50" width="5.00" height="5.00" fill="#C8102E" stroke="none" stroke-width="1" />
<rect x="331.00" y="508.50" width="5.00" height="5.00" fill="#C8102E" stroke="none" stroke-width="1" />
<rect x="339.00" y="512.90" width="5.00" height="5.00" fill="#C8102E" stroke="none" stroke-width="1" />
<rect x="336.70" y="522.90" width="5.00" height="5.00" fill="#C8102E" stroke="none" stroke-width="1" />
<rect x="333.30" y="527.50" width="5.00" height="5.00" fill="#C8102E" stroke="none" stroke-width="1" />
<path d="M360.20 430.38L362.85 435.42L357.55 435.42Z" fill="#134D8C"/>
<path d="M356.30 461.68L358.95 466.72L353.65 466.72Z" fill="#134D8C"/>
<path d="M363.70 460.58L366.35 465.62L361.05 465.62Z" fill="#134D8C"/>
<path d="M359.40 498.78L362.05 503.82L356.75 503.82Z" fill="#134D8C"/>
<path d="M359.40 517.48L362.05 522.52L356.75 522.52Z" fill="#134D8C"/>
<line x1="319.40" y1="417.50" x2="319.40" y2="532.10" stroke="#1a1a1a" stroke-width="1.4" />
<line x1="318.70" y1="531.40" x2="371.90" y2="531.40" stroke="#1a1a1a" stroke-width="1.4" />
<line x1="316.60" y1="531.40" x2="319.40" y2="531.40" stroke="#1a1a1a" stroke-width="1" />
<text x="314.10" y="534.35" font-size="8.2" text-anchor="end" font-weight="normal" fill="#111" textLength="3.85" lengthAdjust="spacingAndGlyphs" >0</text>
<line x1="316.60" y1="494.80" x2="319.40" y2="494.80" stroke="#1a1a1a" stroke-width="1" />
<text x="314.10" y="497.75" font-size="8.2" text-anchor="end" font-weight="normal" fill="#111" textLength="3.85" lengthAdjust="spacingAndGlyphs" >1</text>
<line x1="316.60" y1="458.20" x2="319.40" y2="458.20" stroke="#1a1a1a" stroke-width="1" />
<text x="314.10" y="461.15" font-size="8.2" text-anchor="end" font-weight="normal" fill="#111" textLength="3.85" lengthAdjust="spacingAndGlyphs" >2</text>
<line x1="316.60" y1="421.60" x2="319.40" y2="421.60" stroke="#1a1a1a" stroke-width="1" />
<text x="314.10" y="424.55" font-size="8.2" text-anchor="end" font-weight="normal" fill="#111" textLength="3.85" lengthAdjust="spacingAndGlyphs" >3</text>
<line x1="335.80" y1="531.40" x2="335.80" y2="533.90" stroke="#1a1a1a" stroke-width="1" />
<line x1="359.40" y1="531.40" x2="359.40" y2="533.90" stroke="#1a1a1a" stroke-width="1" />
<circle cx="360.40" cy="419.80" r="1.15" fill="#111"/>
<text x="0.00" y="0.00" font-size="10.0" text-anchor="middle" font-weight="normal" fill="#111" textLength="84.20" lengthAdjust="spacingAndGlyphs" transform="translate(302.60,474.50) rotate(-90)"># CD4<tspan font-size="5" dy="-2.6">+</tspan><tspan dy="2.6">​</tspan>CXCR5<tspan font-size="5" dy="-2.6">+</tspan><tspan dy="2.6">​</tspan>PD-1<tspan font-size="5" dy="-2.6">hi</tspan><tspan dy="2.6">​</tspan> (×10<tspan font-size="5" dy="-2.6">4</tspan><tspan dy="2.6">​</tspan>)</text>
<rect x="445.20" y="401.00" width="5.70" height="5.70" fill="#C8102E" stroke="none" stroke-width="1" />
<rect x="445.20" y="413.40" width="5.70" height="5.50" fill="#15518A" stroke="none" stroke-width="1" />
<text x="454.30" y="406.50" font-size="7.5" text-anchor="start" font-weight="normal" fill="#111" textLength="35.80" lengthAdjust="spacingAndGlyphs" >Tfr (Foxp3<tspan font-size="5" dy="-2.6">+</tspan><tspan dy="2.6">​</tspan>)</text>
<text x="454.30" y="418.70" font-size="7.5" text-anchor="start" font-weight="normal" fill="#111" textLength="36.60" lengthAdjust="spacingAndGlyphs" >Tfh (Foxp3<tspan font-size="5" dy="-2.6">−</tspan><tspan dy="2.6">​</tspan>)</text>
<rect x="441.40" y="425.00" width="15.30" height="14.00" fill="#C8102E" stroke="none" stroke-width="1" />
<rect x="441.40" y="439.00" width="15.30" height="92.10" fill="#15518A" stroke="none" stroke-width="1" />
<rect x="470.20" y="426.90" width="15.30" height="40.60" fill="#C8102E" stroke="none" stroke-width="1" />
<rect x="470.20" y="467.50" width="15.30" height="63.60" fill="#15518A" stroke="none" stroke-width="1" />
<line x1="435.20" y1="419.60" x2="435.20" y2="531.80" stroke="#1a1a1a" stroke-width="1.4" />
<line x1="434.50" y1="531.10" x2="489.90" y2="531.10" stroke="#1a1a1a" stroke-width="1.4" />
<line x1="432.40" y1="531.10" x2="435.20" y2="531.10" stroke="#1a1a1a" stroke-width="1" />
<text x="429.90" y="534.05" font-size="8.2" text-anchor="end" font-weight="normal" fill="#111" textLength="3.85" lengthAdjust="spacingAndGlyphs" >0</text>
<line x1="432.40" y1="504.39" x2="435.20" y2="504.39" stroke="#1a1a1a" stroke-width="1" />
<text x="429.90" y="507.34" font-size="8.2" text-anchor="end" font-weight="normal" fill="#111" textLength="7.70" lengthAdjust="spacingAndGlyphs" >25</text>
<line x1="432.40" y1="477.68" x2="435.20" y2="477.68" stroke="#1a1a1a" stroke-width="1" />
<text x="429.90" y="480.62" font-size="8.2" text-anchor="end" font-weight="normal" fill="#111" textLength="7.70" lengthAdjust="spacingAndGlyphs" >50</text>
<line x1="432.40" y1="450.96" x2="435.20" y2="450.96" stroke="#1a1a1a" stroke-width="1" />
<text x="429.90" y="453.91" font-size="8.2" text-anchor="end" font-weight="normal" fill="#111" textLength="7.70" lengthAdjust="spacingAndGlyphs" >75</text>
<line x1="432.40" y1="424.25" x2="435.20" y2="424.25" stroke="#1a1a1a" stroke-width="1" />
<text x="429.90" y="427.20" font-size="8.2" text-anchor="end" font-weight="normal" fill="#111" textLength="11.55" lengthAdjust="spacingAndGlyphs" >100</text>
<line x1="448.70" y1="531.10" x2="448.70" y2="533.60" stroke="#1a1a1a" stroke-width="1" />
<line x1="477.70" y1="531.10" x2="477.70" y2="533.60" stroke="#1a1a1a" stroke-width="1" />
<text x="448.70" y="543.30" font-size="8.3" text-anchor="middle" font-weight="normal" fill="#111" >WT</text>
<text x="477.70" y="543.30" font-size="8.3" text-anchor="middle" font-weight="normal" fill="#111" >KO</text>
<text x="0.00" y="0.00" font-size="10.0" text-anchor="middle" font-weight="normal" fill="#111" textLength="56.40" lengthAdjust="spacingAndGlyphs" transform="translate(414.20,475.40) rotate(-90)">% Foxp3<tspan font-size="5" dy="-2.6">+</tspan><tspan dy="2.6">​</tspan> or Foxp3<tspan font-size="5" dy="-2.6">−</tspan><tspan dy="2.6">​</tspan></text>
</svg></body></html>
